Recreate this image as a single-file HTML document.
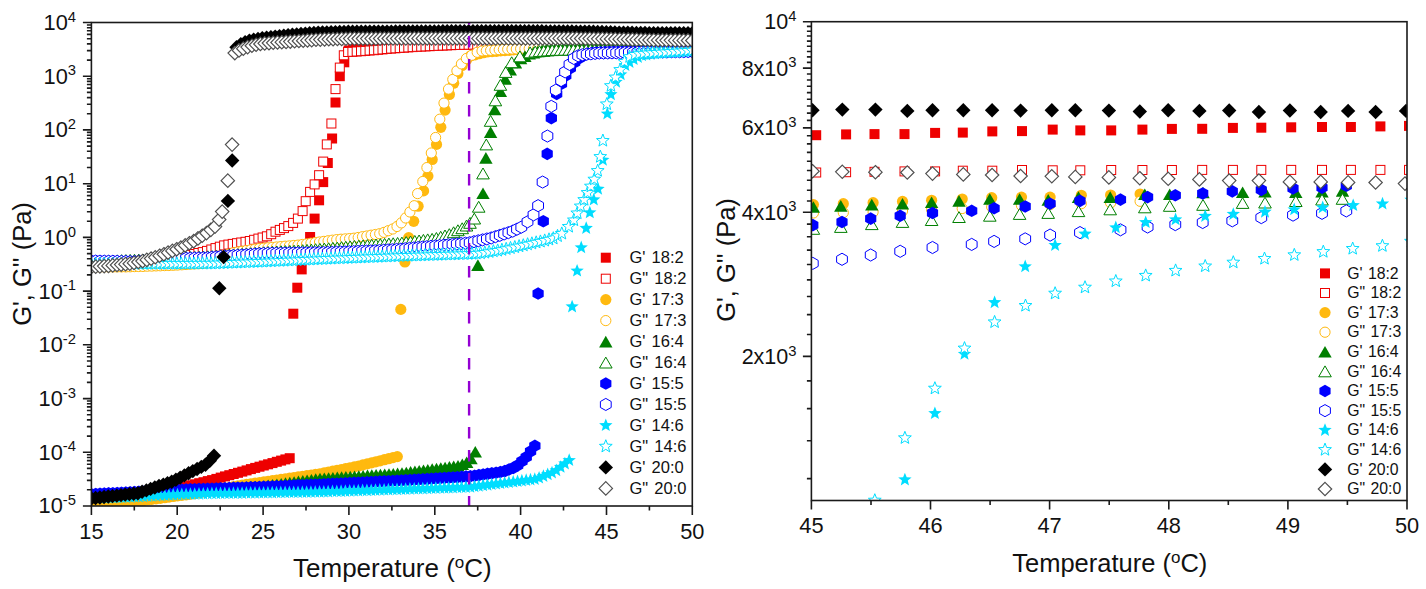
<!DOCTYPE html><html><head><meta charset="utf-8"><style>html,body{margin:0;padding:0;background:#fff;}svg{display:block;font-family:"Liberation Sans",sans-serif;}</style></head><body><svg width="1426" height="589" viewBox="0 0 1426 589">
<defs><clipPath id="cl"><rect x="91.4" y="22.5" width="600.9" height="483.5"/></clipPath>
<clipPath id="cr"><rect x="811.4" y="21.7" width="595.6" height="478.8"/></clipPath></defs>
<g clip-path="url(#cl)">
<rect x="86.4" y="494.0" width="10.0" height="10.0" fill="#EE0000"/>
<rect x="90.7" y="493.7" width="10.0" height="10.0" fill="#EE0000"/>
<rect x="95.0" y="493.5" width="10.0" height="10.0" fill="#EE0000"/>
<rect x="99.3" y="493.2" width="10.0" height="10.0" fill="#EE0000"/>
<rect x="103.6" y="492.9" width="10.0" height="10.0" fill="#EE0000"/>
<rect x="108.0" y="492.7" width="10.0" height="10.0" fill="#EE0000"/>
<rect x="112.3" y="492.4" width="10.0" height="10.0" fill="#EE0000"/>
<rect x="116.6" y="492.1" width="10.0" height="10.0" fill="#EE0000"/>
<rect x="120.9" y="491.8" width="10.0" height="10.0" fill="#EE0000"/>
<rect x="125.2" y="491.1" width="10.0" height="10.0" fill="#EE0000"/>
<rect x="129.5" y="490.4" width="10.0" height="10.0" fill="#EE0000"/>
<rect x="133.8" y="489.7" width="10.0" height="10.0" fill="#EE0000"/>
<rect x="138.1" y="489.0" width="10.0" height="10.0" fill="#EE0000"/>
<rect x="142.4" y="488.3" width="10.0" height="10.0" fill="#EE0000"/>
<rect x="146.8" y="487.5" width="10.0" height="10.0" fill="#EE0000"/>
<rect x="151.1" y="486.8" width="10.0" height="10.0" fill="#EE0000"/>
<rect x="155.4" y="486.1" width="10.0" height="10.0" fill="#EE0000"/>
<rect x="159.7" y="485.4" width="10.0" height="10.0" fill="#EE0000"/>
<rect x="164.0" y="484.7" width="10.0" height="10.0" fill="#EE0000"/>
<rect x="168.3" y="484.0" width="10.0" height="10.0" fill="#EE0000"/>
<rect x="172.6" y="483.2" width="10.0" height="10.0" fill="#EE0000"/>
<rect x="176.9" y="482.4" width="10.0" height="10.0" fill="#EE0000"/>
<rect x="181.2" y="481.4" width="10.0" height="10.0" fill="#EE0000"/>
<rect x="185.5" y="480.3" width="10.0" height="10.0" fill="#EE0000"/>
<rect x="189.9" y="479.3" width="10.0" height="10.0" fill="#EE0000"/>
<rect x="194.2" y="478.2" width="10.0" height="10.0" fill="#EE0000"/>
<rect x="198.5" y="477.2" width="10.0" height="10.0" fill="#EE0000"/>
<rect x="202.8" y="476.1" width="10.0" height="10.0" fill="#EE0000"/>
<rect x="207.1" y="475.1" width="10.0" height="10.0" fill="#EE0000"/>
<rect x="211.4" y="473.9" width="10.0" height="10.0" fill="#EE0000"/>
<rect x="215.7" y="472.6" width="10.0" height="10.0" fill="#EE0000"/>
<rect x="220.0" y="471.4" width="10.0" height="10.0" fill="#EE0000"/>
<rect x="224.3" y="470.2" width="10.0" height="10.0" fill="#EE0000"/>
<rect x="228.7" y="469.0" width="10.0" height="10.0" fill="#EE0000"/>
<rect x="233.0" y="467.8" width="10.0" height="10.0" fill="#EE0000"/>
<rect x="237.3" y="466.6" width="10.0" height="10.0" fill="#EE0000"/>
<rect x="241.6" y="465.4" width="10.0" height="10.0" fill="#EE0000"/>
<rect x="245.9" y="464.1" width="10.0" height="10.0" fill="#EE0000"/>
<rect x="250.2" y="462.9" width="10.0" height="10.0" fill="#EE0000"/>
<rect x="254.5" y="461.7" width="10.0" height="10.0" fill="#EE0000"/>
<rect x="258.8" y="460.5" width="10.0" height="10.0" fill="#EE0000"/>
<rect x="263.1" y="459.3" width="10.0" height="10.0" fill="#EE0000"/>
<rect x="267.5" y="458.1" width="10.0" height="10.0" fill="#EE0000"/>
<rect x="271.8" y="456.8" width="10.0" height="10.0" fill="#EE0000"/>
<rect x="276.1" y="455.6" width="10.0" height="10.0" fill="#EE0000"/>
<rect x="280.4" y="454.4" width="10.0" height="10.0" fill="#EE0000"/>
<rect x="284.7" y="453.2" width="10.0" height="10.0" fill="#EE0000"/>
<rect x="288.3" y="308.7" width="10.0" height="10.0" fill="#EE0000"/>
<rect x="292.3" y="282.7" width="10.0" height="10.0" fill="#EE0000"/>
<rect x="296.7" y="264.4" width="10.0" height="10.0" fill="#EE0000"/>
<rect x="301.0" y="248.0" width="10.0" height="10.0" fill="#EE0000"/>
<rect x="305.1" y="232.0" width="10.0" height="10.0" fill="#EE0000"/>
<rect x="309.6" y="213.6" width="10.0" height="10.0" fill="#EE0000"/>
<rect x="314.1" y="195.3" width="10.0" height="10.0" fill="#EE0000"/>
<rect x="318.2" y="177.1" width="10.0" height="10.0" fill="#EE0000"/>
<rect x="322.8" y="158.0" width="10.0" height="10.0" fill="#EE0000"/>
<rect x="327.1" y="133.5" width="10.0" height="10.0" fill="#EE0000"/>
<rect x="330.5" y="97.5" width="10.0" height="10.0" fill="#EE0000"/>
<rect x="334.8" y="71.2" width="10.0" height="10.0" fill="#EE0000"/>
<rect x="339.3" y="57.3" width="10.0" height="10.0" fill="#EE0000"/>
<rect x="343.6" y="45.4" width="10.0" height="10.0" fill="#EE0000"/>
<rect x="348.2" y="40.1" width="10.0" height="10.0" fill="#EE0000"/>
<rect x="352.5" y="39.3" width="10.0" height="10.0" fill="#EE0000"/>
<rect x="356.8" y="38.6" width="10.0" height="10.0" fill="#EE0000"/>
<rect x="361.1" y="37.9" width="10.0" height="10.0" fill="#EE0000"/>
<rect x="365.4" y="37.7" width="10.0" height="10.0" fill="#EE0000"/>
<rect x="369.7" y="37.5" width="10.0" height="10.0" fill="#EE0000"/>
<rect x="374.0" y="37.3" width="10.0" height="10.0" fill="#EE0000"/>
<rect x="378.3" y="37.1" width="10.0" height="10.0" fill="#EE0000"/>
<rect x="382.6" y="36.9" width="10.0" height="10.0" fill="#EE0000"/>
<rect x="386.9" y="36.7" width="10.0" height="10.0" fill="#EE0000"/>
<rect x="391.1" y="36.5" width="10.0" height="10.0" fill="#EE0000"/>
<rect x="395.4" y="36.3" width="10.0" height="10.0" fill="#EE0000"/>
<rect x="399.7" y="36.1" width="10.0" height="10.0" fill="#EE0000"/>
<rect x="404.0" y="35.9" width="10.0" height="10.0" fill="#EE0000"/>
<rect x="408.3" y="35.7" width="10.0" height="10.0" fill="#EE0000"/>
<rect x="412.6" y="35.5" width="10.0" height="10.0" fill="#EE0000"/>
<rect x="416.9" y="35.3" width="10.0" height="10.0" fill="#EE0000"/>
<rect x="421.2" y="35.1" width="10.0" height="10.0" fill="#EE0000"/>
<rect x="425.5" y="34.9" width="10.0" height="10.0" fill="#EE0000"/>
<rect x="429.8" y="34.7" width="10.0" height="10.0" fill="#EE0000"/>
<rect x="434.1" y="34.6" width="10.0" height="10.0" fill="#EE0000"/>
<rect x="438.4" y="34.5" width="10.0" height="10.0" fill="#EE0000"/>
<rect x="442.6" y="34.4" width="10.0" height="10.0" fill="#EE0000"/>
<rect x="446.9" y="34.3" width="10.0" height="10.0" fill="#EE0000"/>
<rect x="451.2" y="34.2" width="10.0" height="10.0" fill="#EE0000"/>
<rect x="455.5" y="34.1" width="10.0" height="10.0" fill="#EE0000"/>
<rect x="459.8" y="34.0" width="10.0" height="10.0" fill="#EE0000"/>
<rect x="464.1" y="33.9" width="10.0" height="10.0" fill="#EE0000"/>
<rect x="468.4" y="33.8" width="10.0" height="10.0" fill="#EE0000"/>
<rect x="472.7" y="33.8" width="10.0" height="10.0" fill="#EE0000"/>
<rect x="477.0" y="33.7" width="10.0" height="10.0" fill="#EE0000"/>
<rect x="481.3" y="33.6" width="10.0" height="10.0" fill="#EE0000"/>
<rect x="485.6" y="33.5" width="10.0" height="10.0" fill="#EE0000"/>
<rect x="489.9" y="33.4" width="10.0" height="10.0" fill="#EE0000"/>
<rect x="494.2" y="33.3" width="10.0" height="10.0" fill="#EE0000"/>
<rect x="498.4" y="33.2" width="10.0" height="10.0" fill="#EE0000"/>
<rect x="502.7" y="33.1" width="10.0" height="10.0" fill="#EE0000"/>
<rect x="507.0" y="33.0" width="10.0" height="10.0" fill="#EE0000"/>
<rect x="511.3" y="32.9" width="10.0" height="10.0" fill="#EE0000"/>
<rect x="515.6" y="32.8" width="10.0" height="10.0" fill="#EE0000"/>
<rect x="519.9" y="32.7" width="10.0" height="10.0" fill="#EE0000"/>
<rect x="524.2" y="32.6" width="10.0" height="10.0" fill="#EE0000"/>
<rect x="528.5" y="32.5" width="10.0" height="10.0" fill="#EE0000"/>
<rect x="532.8" y="32.4" width="10.0" height="10.0" fill="#EE0000"/>
<rect x="537.1" y="32.3" width="10.0" height="10.0" fill="#EE0000"/>
<rect x="541.4" y="32.2" width="10.0" height="10.0" fill="#EE0000"/>
<rect x="545.7" y="32.2" width="10.0" height="10.0" fill="#EE0000"/>
<rect x="550.0" y="32.1" width="10.0" height="10.0" fill="#EE0000"/>
<rect x="554.2" y="32.0" width="10.0" height="10.0" fill="#EE0000"/>
<rect x="558.5" y="31.9" width="10.0" height="10.0" fill="#EE0000"/>
<rect x="562.8" y="31.8" width="10.0" height="10.0" fill="#EE0000"/>
<rect x="567.1" y="31.7" width="10.0" height="10.0" fill="#EE0000"/>
<rect x="571.4" y="31.6" width="10.0" height="10.0" fill="#EE0000"/>
<rect x="575.7" y="31.5" width="10.0" height="10.0" fill="#EE0000"/>
<rect x="580.0" y="31.4" width="10.0" height="10.0" fill="#EE0000"/>
<rect x="584.3" y="31.3" width="10.0" height="10.0" fill="#EE0000"/>
<rect x="588.6" y="31.2" width="10.0" height="10.0" fill="#EE0000"/>
<rect x="592.9" y="31.1" width="10.0" height="10.0" fill="#EE0000"/>
<rect x="597.2" y="31.0" width="10.0" height="10.0" fill="#EE0000"/>
<rect x="601.5" y="30.9" width="10.0" height="10.0" fill="#EE0000"/>
<rect x="605.7" y="30.8" width="10.0" height="10.0" fill="#EE0000"/>
<rect x="610.0" y="30.8" width="10.0" height="10.0" fill="#EE0000"/>
<rect x="614.3" y="30.7" width="10.0" height="10.0" fill="#EE0000"/>
<rect x="618.6" y="30.6" width="10.0" height="10.0" fill="#EE0000"/>
<rect x="622.9" y="30.5" width="10.0" height="10.0" fill="#EE0000"/>
<rect x="627.2" y="30.4" width="10.0" height="10.0" fill="#EE0000"/>
<rect x="631.5" y="30.4" width="10.0" height="10.0" fill="#EE0000"/>
<rect x="635.8" y="30.3" width="10.0" height="10.0" fill="#EE0000"/>
<rect x="640.1" y="30.2" width="10.0" height="10.0" fill="#EE0000"/>
<rect x="644.4" y="30.1" width="10.0" height="10.0" fill="#EE0000"/>
<rect x="648.7" y="30.0" width="10.0" height="10.0" fill="#EE0000"/>
<rect x="653.0" y="30.0" width="10.0" height="10.0" fill="#EE0000"/>
<rect x="657.3" y="29.9" width="10.0" height="10.0" fill="#EE0000"/>
<rect x="661.5" y="29.8" width="10.0" height="10.0" fill="#EE0000"/>
<rect x="665.8" y="29.7" width="10.0" height="10.0" fill="#EE0000"/>
<rect x="670.1" y="29.6" width="10.0" height="10.0" fill="#EE0000"/>
<rect x="674.4" y="29.6" width="10.0" height="10.0" fill="#EE0000"/>
<rect x="678.7" y="29.5" width="10.0" height="10.0" fill="#EE0000"/>
<rect x="683.0" y="29.4" width="10.0" height="10.0" fill="#EE0000"/>
<rect x="687.3" y="29.3" width="10.0" height="10.0" fill="#EE0000"/>
<rect x="86.9" y="258.1" width="9.0" height="9.0" fill="#fff" stroke="#EE0000" stroke-width="1.0"/>
<rect x="91.2" y="258.0" width="9.0" height="9.0" fill="#fff" stroke="#EE0000" stroke-width="1.0"/>
<rect x="95.5" y="257.9" width="9.0" height="9.0" fill="#fff" stroke="#EE0000" stroke-width="1.0"/>
<rect x="99.7" y="257.7" width="9.0" height="9.0" fill="#fff" stroke="#EE0000" stroke-width="1.0"/>
<rect x="104.0" y="257.6" width="9.0" height="9.0" fill="#fff" stroke="#EE0000" stroke-width="1.0"/>
<rect x="108.3" y="257.5" width="9.0" height="9.0" fill="#fff" stroke="#EE0000" stroke-width="1.0"/>
<rect x="112.6" y="257.3" width="9.0" height="9.0" fill="#fff" stroke="#EE0000" stroke-width="1.0"/>
<rect x="116.9" y="257.2" width="9.0" height="9.0" fill="#fff" stroke="#EE0000" stroke-width="1.0"/>
<rect x="121.1" y="257.1" width="9.0" height="9.0" fill="#fff" stroke="#EE0000" stroke-width="1.0"/>
<rect x="125.4" y="256.9" width="9.0" height="9.0" fill="#fff" stroke="#EE0000" stroke-width="1.0"/>
<rect x="129.7" y="256.8" width="9.0" height="9.0" fill="#fff" stroke="#EE0000" stroke-width="1.0"/>
<rect x="134.0" y="256.7" width="9.0" height="9.0" fill="#fff" stroke="#EE0000" stroke-width="1.0"/>
<rect x="138.3" y="256.5" width="9.0" height="9.0" fill="#fff" stroke="#EE0000" stroke-width="1.0"/>
<rect x="142.6" y="256.0" width="9.0" height="9.0" fill="#fff" stroke="#EE0000" stroke-width="1.0"/>
<rect x="146.8" y="255.5" width="9.0" height="9.0" fill="#fff" stroke="#EE0000" stroke-width="1.0"/>
<rect x="151.1" y="255.0" width="9.0" height="9.0" fill="#fff" stroke="#EE0000" stroke-width="1.0"/>
<rect x="155.4" y="254.5" width="9.0" height="9.0" fill="#fff" stroke="#EE0000" stroke-width="1.0"/>
<rect x="159.7" y="254.0" width="9.0" height="9.0" fill="#fff" stroke="#EE0000" stroke-width="1.0"/>
<rect x="164.0" y="253.5" width="9.0" height="9.0" fill="#fff" stroke="#EE0000" stroke-width="1.0"/>
<rect x="168.2" y="253.0" width="9.0" height="9.0" fill="#fff" stroke="#EE0000" stroke-width="1.0"/>
<rect x="172.5" y="252.5" width="9.0" height="9.0" fill="#fff" stroke="#EE0000" stroke-width="1.0"/>
<rect x="176.8" y="252.0" width="9.0" height="9.0" fill="#fff" stroke="#EE0000" stroke-width="1.0"/>
<rect x="181.1" y="251.4" width="9.0" height="9.0" fill="#fff" stroke="#EE0000" stroke-width="1.0"/>
<rect x="185.4" y="250.4" width="9.0" height="9.0" fill="#fff" stroke="#EE0000" stroke-width="1.0"/>
<rect x="189.6" y="249.5" width="9.0" height="9.0" fill="#fff" stroke="#EE0000" stroke-width="1.0"/>
<rect x="193.9" y="248.5" width="9.0" height="9.0" fill="#fff" stroke="#EE0000" stroke-width="1.0"/>
<rect x="198.2" y="247.6" width="9.0" height="9.0" fill="#fff" stroke="#EE0000" stroke-width="1.0"/>
<rect x="202.5" y="246.4" width="9.0" height="9.0" fill="#fff" stroke="#EE0000" stroke-width="1.0"/>
<rect x="206.8" y="245.0" width="9.0" height="9.0" fill="#fff" stroke="#EE0000" stroke-width="1.0"/>
<rect x="211.0" y="243.6" width="9.0" height="9.0" fill="#fff" stroke="#EE0000" stroke-width="1.0"/>
<rect x="215.3" y="242.2" width="9.0" height="9.0" fill="#fff" stroke="#EE0000" stroke-width="1.0"/>
<rect x="219.6" y="240.9" width="9.0" height="9.0" fill="#fff" stroke="#EE0000" stroke-width="1.0"/>
<rect x="223.9" y="240.1" width="9.0" height="9.0" fill="#fff" stroke="#EE0000" stroke-width="1.0"/>
<rect x="228.2" y="239.4" width="9.0" height="9.0" fill="#fff" stroke="#EE0000" stroke-width="1.0"/>
<rect x="232.5" y="238.7" width="9.0" height="9.0" fill="#fff" stroke="#EE0000" stroke-width="1.0"/>
<rect x="236.7" y="238.0" width="9.0" height="9.0" fill="#fff" stroke="#EE0000" stroke-width="1.0"/>
<rect x="241.0" y="237.3" width="9.0" height="9.0" fill="#fff" stroke="#EE0000" stroke-width="1.0"/>
<rect x="245.3" y="236.5" width="9.0" height="9.0" fill="#fff" stroke="#EE0000" stroke-width="1.0"/>
<rect x="249.6" y="235.3" width="9.0" height="9.0" fill="#fff" stroke="#EE0000" stroke-width="1.0"/>
<rect x="253.9" y="234.1" width="9.0" height="9.0" fill="#fff" stroke="#EE0000" stroke-width="1.0"/>
<rect x="258.1" y="233.0" width="9.0" height="9.0" fill="#fff" stroke="#EE0000" stroke-width="1.0"/>
<rect x="262.4" y="231.8" width="9.0" height="9.0" fill="#fff" stroke="#EE0000" stroke-width="1.0"/>
<rect x="266.7" y="229.7" width="9.0" height="9.0" fill="#fff" stroke="#EE0000" stroke-width="1.0"/>
<rect x="271.0" y="227.2" width="9.0" height="9.0" fill="#fff" stroke="#EE0000" stroke-width="1.0"/>
<rect x="275.3" y="225.4" width="9.0" height="9.0" fill="#fff" stroke="#EE0000" stroke-width="1.0"/>
<rect x="279.5" y="223.6" width="9.0" height="9.0" fill="#fff" stroke="#EE0000" stroke-width="1.0"/>
<rect x="283.8" y="221.6" width="9.0" height="9.0" fill="#fff" stroke="#EE0000" stroke-width="1.0"/>
<rect x="288.6" y="218.4" width="9.0" height="9.0" fill="#fff" stroke="#EE0000" stroke-width="1.0"/>
<rect x="293.4" y="214.1" width="9.0" height="9.0" fill="#fff" stroke="#EE0000" stroke-width="1.0"/>
<rect x="298.1" y="206.6" width="9.0" height="9.0" fill="#fff" stroke="#EE0000" stroke-width="1.0"/>
<rect x="301.2" y="196.7" width="9.0" height="9.0" fill="#fff" stroke="#EE0000" stroke-width="1.0"/>
<rect x="305.6" y="187.4" width="9.0" height="9.0" fill="#fff" stroke="#EE0000" stroke-width="1.0"/>
<rect x="310.1" y="179.9" width="9.0" height="9.0" fill="#fff" stroke="#EE0000" stroke-width="1.0"/>
<rect x="314.6" y="170.7" width="9.0" height="9.0" fill="#fff" stroke="#EE0000" stroke-width="1.0"/>
<rect x="318.7" y="157.1" width="9.0" height="9.0" fill="#fff" stroke="#EE0000" stroke-width="1.0"/>
<rect x="322.3" y="139.9" width="9.0" height="9.0" fill="#fff" stroke="#EE0000" stroke-width="1.0"/>
<rect x="326.9" y="119.0" width="9.0" height="9.0" fill="#fff" stroke="#EE0000" stroke-width="1.0"/>
<rect x="331.0" y="84.6" width="9.0" height="9.0" fill="#fff" stroke="#EE0000" stroke-width="1.0"/>
<rect x="335.3" y="63.1" width="9.0" height="9.0" fill="#fff" stroke="#EE0000" stroke-width="1.0"/>
<rect x="339.3" y="50.8" width="9.0" height="9.0" fill="#fff" stroke="#EE0000" stroke-width="1.0"/>
<rect x="343.6" y="47.5" width="9.0" height="9.0" fill="#fff" stroke="#EE0000" stroke-width="1.0"/>
<rect x="347.9" y="47.3" width="9.0" height="9.0" fill="#fff" stroke="#EE0000" stroke-width="1.0"/>
<rect x="352.2" y="47.0" width="9.0" height="9.0" fill="#fff" stroke="#EE0000" stroke-width="1.0"/>
<rect x="356.5" y="46.7" width="9.0" height="9.0" fill="#fff" stroke="#EE0000" stroke-width="1.0"/>
<rect x="360.8" y="46.4" width="9.0" height="9.0" fill="#fff" stroke="#EE0000" stroke-width="1.0"/>
<rect x="365.1" y="46.0" width="9.0" height="9.0" fill="#fff" stroke="#EE0000" stroke-width="1.0"/>
<rect x="369.4" y="45.7" width="9.0" height="9.0" fill="#fff" stroke="#EE0000" stroke-width="1.0"/>
<rect x="373.7" y="45.3" width="9.0" height="9.0" fill="#fff" stroke="#EE0000" stroke-width="1.0"/>
<rect x="378.0" y="44.9" width="9.0" height="9.0" fill="#fff" stroke="#EE0000" stroke-width="1.0"/>
<rect x="382.3" y="44.5" width="9.0" height="9.0" fill="#fff" stroke="#EE0000" stroke-width="1.0"/>
<rect x="386.6" y="44.1" width="9.0" height="9.0" fill="#fff" stroke="#EE0000" stroke-width="1.0"/>
<rect x="390.9" y="43.8" width="9.0" height="9.0" fill="#fff" stroke="#EE0000" stroke-width="1.0"/>
<rect x="395.2" y="43.5" width="9.0" height="9.0" fill="#fff" stroke="#EE0000" stroke-width="1.0"/>
<rect x="399.5" y="43.2" width="9.0" height="9.0" fill="#fff" stroke="#EE0000" stroke-width="1.0"/>
<rect x="403.8" y="42.9" width="9.0" height="9.0" fill="#fff" stroke="#EE0000" stroke-width="1.0"/>
<rect x="408.1" y="42.6" width="9.0" height="9.0" fill="#fff" stroke="#EE0000" stroke-width="1.0"/>
<rect x="412.4" y="42.3" width="9.0" height="9.0" fill="#fff" stroke="#EE0000" stroke-width="1.0"/>
<rect x="416.7" y="42.1" width="9.0" height="9.0" fill="#fff" stroke="#EE0000" stroke-width="1.0"/>
<rect x="421.0" y="41.9" width="9.0" height="9.0" fill="#fff" stroke="#EE0000" stroke-width="1.0"/>
<rect x="425.3" y="41.7" width="9.0" height="9.0" fill="#fff" stroke="#EE0000" stroke-width="1.0"/>
<rect x="429.6" y="41.5" width="9.0" height="9.0" fill="#fff" stroke="#EE0000" stroke-width="1.0"/>
<rect x="433.9" y="41.3" width="9.0" height="9.0" fill="#fff" stroke="#EE0000" stroke-width="1.0"/>
<rect x="438.2" y="41.1" width="9.0" height="9.0" fill="#fff" stroke="#EE0000" stroke-width="1.0"/>
<rect x="442.5" y="40.9" width="9.0" height="9.0" fill="#fff" stroke="#EE0000" stroke-width="1.0"/>
<rect x="446.8" y="40.7" width="9.0" height="9.0" fill="#fff" stroke="#EE0000" stroke-width="1.0"/>
<rect x="451.1" y="40.5" width="9.0" height="9.0" fill="#fff" stroke="#EE0000" stroke-width="1.0"/>
<rect x="455.4" y="40.4" width="9.0" height="9.0" fill="#fff" stroke="#EE0000" stroke-width="1.0"/>
<rect x="459.7" y="40.3" width="9.0" height="9.0" fill="#fff" stroke="#EE0000" stroke-width="1.0"/>
<rect x="464.1" y="40.2" width="9.0" height="9.0" fill="#fff" stroke="#EE0000" stroke-width="1.0"/>
<rect x="468.4" y="40.1" width="9.0" height="9.0" fill="#fff" stroke="#EE0000" stroke-width="1.0"/>
<rect x="472.7" y="40.0" width="9.0" height="9.0" fill="#fff" stroke="#EE0000" stroke-width="1.0"/>
<rect x="477.0" y="40.0" width="9.0" height="9.0" fill="#fff" stroke="#EE0000" stroke-width="1.0"/>
<rect x="481.3" y="39.9" width="9.0" height="9.0" fill="#fff" stroke="#EE0000" stroke-width="1.0"/>
<rect x="485.6" y="39.8" width="9.0" height="9.0" fill="#fff" stroke="#EE0000" stroke-width="1.0"/>
<rect x="489.9" y="39.7" width="9.0" height="9.0" fill="#fff" stroke="#EE0000" stroke-width="1.0"/>
<rect x="494.2" y="39.7" width="9.0" height="9.0" fill="#fff" stroke="#EE0000" stroke-width="1.0"/>
<rect x="498.5" y="39.6" width="9.0" height="9.0" fill="#fff" stroke="#EE0000" stroke-width="1.0"/>
<rect x="502.8" y="39.5" width="9.0" height="9.0" fill="#fff" stroke="#EE0000" stroke-width="1.0"/>
<rect x="507.1" y="39.5" width="9.0" height="9.0" fill="#fff" stroke="#EE0000" stroke-width="1.0"/>
<rect x="511.4" y="39.4" width="9.0" height="9.0" fill="#fff" stroke="#EE0000" stroke-width="1.0"/>
<rect x="515.7" y="39.3" width="9.0" height="9.0" fill="#fff" stroke="#EE0000" stroke-width="1.0"/>
<rect x="520.0" y="39.2" width="9.0" height="9.0" fill="#fff" stroke="#EE0000" stroke-width="1.0"/>
<rect x="524.3" y="39.2" width="9.0" height="9.0" fill="#fff" stroke="#EE0000" stroke-width="1.0"/>
<rect x="528.6" y="39.1" width="9.0" height="9.0" fill="#fff" stroke="#EE0000" stroke-width="1.0"/>
<rect x="532.9" y="39.0" width="9.0" height="9.0" fill="#fff" stroke="#EE0000" stroke-width="1.0"/>
<rect x="537.2" y="39.0" width="9.0" height="9.0" fill="#fff" stroke="#EE0000" stroke-width="1.0"/>
<rect x="541.5" y="38.9" width="9.0" height="9.0" fill="#fff" stroke="#EE0000" stroke-width="1.0"/>
<rect x="545.8" y="38.8" width="9.0" height="9.0" fill="#fff" stroke="#EE0000" stroke-width="1.0"/>
<rect x="550.1" y="38.7" width="9.0" height="9.0" fill="#fff" stroke="#EE0000" stroke-width="1.0"/>
<rect x="554.4" y="38.7" width="9.0" height="9.0" fill="#fff" stroke="#EE0000" stroke-width="1.0"/>
<rect x="558.7" y="38.6" width="9.0" height="9.0" fill="#fff" stroke="#EE0000" stroke-width="1.0"/>
<rect x="563.0" y="38.5" width="9.0" height="9.0" fill="#fff" stroke="#EE0000" stroke-width="1.0"/>
<rect x="567.3" y="38.5" width="9.0" height="9.0" fill="#fff" stroke="#EE0000" stroke-width="1.0"/>
<rect x="571.6" y="38.4" width="9.0" height="9.0" fill="#fff" stroke="#EE0000" stroke-width="1.0"/>
<rect x="575.9" y="38.3" width="9.0" height="9.0" fill="#fff" stroke="#EE0000" stroke-width="1.0"/>
<rect x="580.2" y="38.2" width="9.0" height="9.0" fill="#fff" stroke="#EE0000" stroke-width="1.0"/>
<rect x="584.5" y="38.2" width="9.0" height="9.0" fill="#fff" stroke="#EE0000" stroke-width="1.0"/>
<rect x="588.8" y="38.1" width="9.0" height="9.0" fill="#fff" stroke="#EE0000" stroke-width="1.0"/>
<rect x="593.1" y="38.0" width="9.0" height="9.0" fill="#fff" stroke="#EE0000" stroke-width="1.0"/>
<rect x="597.4" y="38.0" width="9.0" height="9.0" fill="#fff" stroke="#EE0000" stroke-width="1.0"/>
<rect x="601.7" y="37.9" width="9.0" height="9.0" fill="#fff" stroke="#EE0000" stroke-width="1.0"/>
<rect x="606.0" y="37.8" width="9.0" height="9.0" fill="#fff" stroke="#EE0000" stroke-width="1.0"/>
<rect x="610.3" y="37.8" width="9.0" height="9.0" fill="#fff" stroke="#EE0000" stroke-width="1.0"/>
<rect x="614.7" y="37.7" width="9.0" height="9.0" fill="#fff" stroke="#EE0000" stroke-width="1.0"/>
<rect x="619.0" y="37.7" width="9.0" height="9.0" fill="#fff" stroke="#EE0000" stroke-width="1.0"/>
<rect x="623.3" y="37.6" width="9.0" height="9.0" fill="#fff" stroke="#EE0000" stroke-width="1.0"/>
<rect x="627.6" y="37.6" width="9.0" height="9.0" fill="#fff" stroke="#EE0000" stroke-width="1.0"/>
<rect x="631.9" y="37.5" width="9.0" height="9.0" fill="#fff" stroke="#EE0000" stroke-width="1.0"/>
<rect x="636.2" y="37.4" width="9.0" height="9.0" fill="#fff" stroke="#EE0000" stroke-width="1.0"/>
<rect x="640.5" y="37.4" width="9.0" height="9.0" fill="#fff" stroke="#EE0000" stroke-width="1.0"/>
<rect x="644.8" y="37.3" width="9.0" height="9.0" fill="#fff" stroke="#EE0000" stroke-width="1.0"/>
<rect x="649.1" y="37.3" width="9.0" height="9.0" fill="#fff" stroke="#EE0000" stroke-width="1.0"/>
<rect x="653.4" y="37.2" width="9.0" height="9.0" fill="#fff" stroke="#EE0000" stroke-width="1.0"/>
<rect x="657.7" y="37.2" width="9.0" height="9.0" fill="#fff" stroke="#EE0000" stroke-width="1.0"/>
<rect x="662.0" y="37.1" width="9.0" height="9.0" fill="#fff" stroke="#EE0000" stroke-width="1.0"/>
<rect x="666.3" y="37.1" width="9.0" height="9.0" fill="#fff" stroke="#EE0000" stroke-width="1.0"/>
<rect x="670.6" y="37.0" width="9.0" height="9.0" fill="#fff" stroke="#EE0000" stroke-width="1.0"/>
<rect x="674.9" y="37.0" width="9.0" height="9.0" fill="#fff" stroke="#EE0000" stroke-width="1.0"/>
<rect x="679.2" y="36.9" width="9.0" height="9.0" fill="#fff" stroke="#EE0000" stroke-width="1.0"/>
<rect x="683.5" y="36.9" width="9.0" height="9.0" fill="#fff" stroke="#EE0000" stroke-width="1.0"/>
<rect x="687.8" y="36.8" width="9.0" height="9.0" fill="#fff" stroke="#EE0000" stroke-width="1.0"/>
<circle cx="91.4" cy="502.2" r="5.6" fill="#FFB90F"/>
<circle cx="95.7" cy="502.1" r="5.6" fill="#FFB90F"/>
<circle cx="100.0" cy="502.0" r="5.6" fill="#FFB90F"/>
<circle cx="104.3" cy="501.8" r="5.6" fill="#FFB90F"/>
<circle cx="108.6" cy="501.7" r="5.6" fill="#FFB90F"/>
<circle cx="112.9" cy="501.6" r="5.6" fill="#FFB90F"/>
<circle cx="117.3" cy="501.4" r="5.6" fill="#FFB90F"/>
<circle cx="121.6" cy="501.3" r="5.6" fill="#FFB90F"/>
<circle cx="125.9" cy="501.2" r="5.6" fill="#FFB90F"/>
<circle cx="130.2" cy="501.0" r="5.6" fill="#FFB90F"/>
<circle cx="134.5" cy="500.9" r="5.6" fill="#FFB90F"/>
<circle cx="138.8" cy="500.8" r="5.6" fill="#FFB90F"/>
<circle cx="143.1" cy="500.6" r="5.6" fill="#FFB90F"/>
<circle cx="147.4" cy="500.0" r="5.6" fill="#FFB90F"/>
<circle cx="151.7" cy="499.4" r="5.6" fill="#FFB90F"/>
<circle cx="156.0" cy="498.8" r="5.6" fill="#FFB90F"/>
<circle cx="160.3" cy="498.3" r="5.6" fill="#FFB90F"/>
<circle cx="164.7" cy="497.7" r="5.6" fill="#FFB90F"/>
<circle cx="169.0" cy="497.1" r="5.6" fill="#FFB90F"/>
<circle cx="173.3" cy="496.5" r="5.6" fill="#FFB90F"/>
<circle cx="177.6" cy="495.9" r="5.6" fill="#FFB90F"/>
<circle cx="181.9" cy="495.3" r="5.6" fill="#FFB90F"/>
<circle cx="186.2" cy="494.8" r="5.6" fill="#FFB90F"/>
<circle cx="190.5" cy="494.2" r="5.6" fill="#FFB90F"/>
<circle cx="194.8" cy="493.6" r="5.6" fill="#FFB90F"/>
<circle cx="199.1" cy="492.8" r="5.6" fill="#FFB90F"/>
<circle cx="203.4" cy="492.0" r="5.6" fill="#FFB90F"/>
<circle cx="207.7" cy="491.3" r="5.6" fill="#FFB90F"/>
<circle cx="212.1" cy="490.5" r="5.6" fill="#FFB90F"/>
<circle cx="216.4" cy="489.8" r="5.6" fill="#FFB90F"/>
<circle cx="220.7" cy="489.0" r="5.6" fill="#FFB90F"/>
<circle cx="225.0" cy="488.2" r="5.6" fill="#FFB90F"/>
<circle cx="229.3" cy="487.5" r="5.6" fill="#FFB90F"/>
<circle cx="233.6" cy="486.7" r="5.6" fill="#FFB90F"/>
<circle cx="237.9" cy="485.9" r="5.6" fill="#FFB90F"/>
<circle cx="242.2" cy="485.2" r="5.6" fill="#FFB90F"/>
<circle cx="246.5" cy="484.4" r="5.6" fill="#FFB90F"/>
<circle cx="250.8" cy="483.8" r="5.6" fill="#FFB90F"/>
<circle cx="255.1" cy="483.2" r="5.6" fill="#FFB90F"/>
<circle cx="259.5" cy="482.5" r="5.6" fill="#FFB90F"/>
<circle cx="263.8" cy="481.9" r="5.6" fill="#FFB90F"/>
<circle cx="268.1" cy="481.3" r="5.6" fill="#FFB90F"/>
<circle cx="272.4" cy="480.7" r="5.6" fill="#FFB90F"/>
<circle cx="276.7" cy="480.0" r="5.6" fill="#FFB90F"/>
<circle cx="281.0" cy="479.4" r="5.6" fill="#FFB90F"/>
<circle cx="285.3" cy="478.8" r="5.6" fill="#FFB90F"/>
<circle cx="289.6" cy="478.2" r="5.6" fill="#FFB90F"/>
<circle cx="293.9" cy="477.5" r="5.6" fill="#FFB90F"/>
<circle cx="298.2" cy="476.9" r="5.6" fill="#FFB90F"/>
<circle cx="302.5" cy="476.3" r="5.6" fill="#FFB90F"/>
<circle cx="306.9" cy="475.6" r="5.6" fill="#FFB90F"/>
<circle cx="311.2" cy="475.0" r="5.6" fill="#FFB90F"/>
<circle cx="315.5" cy="474.4" r="5.6" fill="#FFB90F"/>
<circle cx="319.8" cy="473.8" r="5.6" fill="#FFB90F"/>
<circle cx="324.1" cy="472.9" r="5.6" fill="#FFB90F"/>
<circle cx="328.4" cy="472.0" r="5.6" fill="#FFB90F"/>
<circle cx="332.7" cy="471.2" r="5.6" fill="#FFB90F"/>
<circle cx="337.0" cy="470.3" r="5.6" fill="#FFB90F"/>
<circle cx="341.3" cy="469.5" r="5.6" fill="#FFB90F"/>
<circle cx="345.6" cy="468.6" r="5.6" fill="#FFB90F"/>
<circle cx="349.9" cy="467.8" r="5.6" fill="#FFB90F"/>
<circle cx="354.3" cy="466.9" r="5.6" fill="#FFB90F"/>
<circle cx="358.6" cy="466.0" r="5.6" fill="#FFB90F"/>
<circle cx="362.9" cy="464.9" r="5.6" fill="#FFB90F"/>
<circle cx="367.2" cy="463.9" r="5.6" fill="#FFB90F"/>
<circle cx="371.5" cy="462.9" r="5.6" fill="#FFB90F"/>
<circle cx="375.8" cy="461.8" r="5.6" fill="#FFB90F"/>
<circle cx="380.1" cy="460.8" r="5.6" fill="#FFB90F"/>
<circle cx="384.4" cy="459.7" r="5.6" fill="#FFB90F"/>
<circle cx="388.7" cy="458.7" r="5.6" fill="#FFB90F"/>
<circle cx="393.0" cy="457.6" r="5.6" fill="#FFB90F"/>
<circle cx="397.3" cy="456.6" r="5.6" fill="#FFB90F"/>
<circle cx="400.8" cy="309.4" r="5.6" fill="#FFB90F"/>
<circle cx="404.9" cy="262.0" r="5.6" fill="#FFB90F"/>
<circle cx="408.7" cy="237.6" r="5.6" fill="#FFB90F"/>
<circle cx="413.7" cy="221.3" r="5.6" fill="#FFB90F"/>
<circle cx="418.1" cy="206.2" r="5.6" fill="#FFB90F"/>
<circle cx="423.6" cy="190.9" r="5.6" fill="#FFB90F"/>
<circle cx="427.9" cy="176.1" r="5.6" fill="#FFB90F"/>
<circle cx="432.2" cy="159.5" r="5.6" fill="#FFB90F"/>
<circle cx="436.5" cy="144.4" r="5.6" fill="#FFB90F"/>
<circle cx="440.8" cy="127.3" r="5.6" fill="#FFB90F"/>
<circle cx="445.1" cy="110.1" r="5.6" fill="#FFB90F"/>
<circle cx="449.4" cy="94.5" r="5.6" fill="#FFB90F"/>
<circle cx="453.7" cy="83.2" r="5.6" fill="#FFB90F"/>
<circle cx="457.9" cy="73.5" r="5.6" fill="#FFB90F"/>
<circle cx="462.2" cy="65.5" r="5.6" fill="#FFB90F"/>
<circle cx="466.5" cy="60.1" r="5.6" fill="#FFB90F"/>
<circle cx="470.8" cy="55.8" r="5.6" fill="#FFB90F"/>
<circle cx="475.1" cy="54.8" r="5.6" fill="#FFB90F"/>
<circle cx="479.3" cy="53.7" r="5.6" fill="#FFB90F"/>
<circle cx="483.6" cy="52.7" r="5.6" fill="#FFB90F"/>
<circle cx="487.9" cy="51.9" r="5.6" fill="#FFB90F"/>
<circle cx="492.1" cy="51.6" r="5.6" fill="#FFB90F"/>
<circle cx="496.4" cy="51.3" r="5.6" fill="#FFB90F"/>
<circle cx="500.6" cy="50.9" r="5.6" fill="#FFB90F"/>
<circle cx="504.9" cy="50.6" r="5.6" fill="#FFB90F"/>
<circle cx="509.2" cy="50.3" r="5.6" fill="#FFB90F"/>
<circle cx="513.4" cy="49.9" r="5.6" fill="#FFB90F"/>
<circle cx="517.7" cy="49.6" r="5.6" fill="#FFB90F"/>
<circle cx="521.9" cy="49.3" r="5.6" fill="#FFB90F"/>
<circle cx="526.2" cy="49.2" r="5.6" fill="#FFB90F"/>
<circle cx="530.5" cy="49.0" r="5.6" fill="#FFB90F"/>
<circle cx="534.7" cy="48.8" r="5.6" fill="#FFB90F"/>
<circle cx="539.0" cy="48.7" r="5.6" fill="#FFB90F"/>
<circle cx="543.2" cy="48.5" r="5.6" fill="#FFB90F"/>
<circle cx="547.5" cy="48.4" r="5.6" fill="#FFB90F"/>
<circle cx="551.7" cy="48.2" r="5.6" fill="#FFB90F"/>
<circle cx="556.0" cy="48.0" r="5.6" fill="#FFB90F"/>
<circle cx="560.3" cy="47.9" r="5.6" fill="#FFB90F"/>
<circle cx="564.5" cy="47.7" r="5.6" fill="#FFB90F"/>
<circle cx="568.8" cy="47.6" r="5.6" fill="#FFB90F"/>
<circle cx="573.0" cy="47.4" r="5.6" fill="#FFB90F"/>
<circle cx="577.3" cy="47.2" r="5.6" fill="#FFB90F"/>
<circle cx="581.6" cy="47.1" r="5.6" fill="#FFB90F"/>
<circle cx="585.8" cy="46.9" r="5.6" fill="#FFB90F"/>
<circle cx="590.1" cy="46.8" r="5.6" fill="#FFB90F"/>
<circle cx="594.3" cy="46.6" r="5.6" fill="#FFB90F"/>
<circle cx="598.6" cy="46.4" r="5.6" fill="#FFB90F"/>
<circle cx="602.9" cy="46.3" r="5.6" fill="#FFB90F"/>
<circle cx="607.1" cy="46.1" r="5.6" fill="#FFB90F"/>
<circle cx="611.4" cy="46.0" r="5.6" fill="#FFB90F"/>
<circle cx="615.6" cy="45.9" r="5.6" fill="#FFB90F"/>
<circle cx="619.9" cy="45.8" r="5.6" fill="#FFB90F"/>
<circle cx="624.2" cy="45.7" r="5.6" fill="#FFB90F"/>
<circle cx="628.4" cy="45.6" r="5.6" fill="#FFB90F"/>
<circle cx="632.7" cy="45.5" r="5.6" fill="#FFB90F"/>
<circle cx="636.9" cy="45.4" r="5.6" fill="#FFB90F"/>
<circle cx="641.2" cy="45.3" r="5.6" fill="#FFB90F"/>
<circle cx="645.4" cy="45.2" r="5.6" fill="#FFB90F"/>
<circle cx="649.7" cy="45.1" r="5.6" fill="#FFB90F"/>
<circle cx="654.0" cy="44.9" r="5.6" fill="#FFB90F"/>
<circle cx="658.2" cy="44.8" r="5.6" fill="#FFB90F"/>
<circle cx="662.5" cy="44.7" r="5.6" fill="#FFB90F"/>
<circle cx="666.7" cy="44.6" r="5.6" fill="#FFB90F"/>
<circle cx="671.0" cy="44.5" r="5.6" fill="#FFB90F"/>
<circle cx="675.3" cy="44.4" r="5.6" fill="#FFB90F"/>
<circle cx="679.5" cy="44.3" r="5.6" fill="#FFB90F"/>
<circle cx="683.8" cy="44.2" r="5.6" fill="#FFB90F"/>
<circle cx="688.0" cy="44.1" r="5.6" fill="#FFB90F"/>
<circle cx="692.3" cy="44.0" r="5.6" fill="#FFB90F"/>
<circle cx="91.4" cy="266.9" r="5.1" fill="#fff" stroke="#FFB90F" stroke-width="1.0"/>
<circle cx="95.7" cy="266.9" r="5.1" fill="#fff" stroke="#FFB90F" stroke-width="1.0"/>
<circle cx="100.0" cy="266.9" r="5.1" fill="#fff" stroke="#FFB90F" stroke-width="1.0"/>
<circle cx="104.3" cy="266.9" r="5.1" fill="#fff" stroke="#FFB90F" stroke-width="1.0"/>
<circle cx="108.6" cy="266.9" r="5.1" fill="#fff" stroke="#FFB90F" stroke-width="1.0"/>
<circle cx="112.9" cy="266.9" r="5.1" fill="#fff" stroke="#FFB90F" stroke-width="1.0"/>
<circle cx="117.2" cy="266.9" r="5.1" fill="#fff" stroke="#FFB90F" stroke-width="1.0"/>
<circle cx="121.5" cy="266.9" r="5.1" fill="#fff" stroke="#FFB90F" stroke-width="1.0"/>
<circle cx="125.8" cy="266.9" r="5.1" fill="#fff" stroke="#FFB90F" stroke-width="1.0"/>
<circle cx="130.1" cy="266.8" r="5.1" fill="#fff" stroke="#FFB90F" stroke-width="1.0"/>
<circle cx="134.4" cy="266.6" r="5.1" fill="#fff" stroke="#FFB90F" stroke-width="1.0"/>
<circle cx="138.7" cy="266.5" r="5.1" fill="#fff" stroke="#FFB90F" stroke-width="1.0"/>
<circle cx="143.0" cy="266.4" r="5.1" fill="#fff" stroke="#FFB90F" stroke-width="1.0"/>
<circle cx="147.3" cy="266.2" r="5.1" fill="#fff" stroke="#FFB90F" stroke-width="1.0"/>
<circle cx="151.7" cy="266.1" r="5.1" fill="#fff" stroke="#FFB90F" stroke-width="1.0"/>
<circle cx="156.0" cy="265.9" r="5.1" fill="#fff" stroke="#FFB90F" stroke-width="1.0"/>
<circle cx="160.3" cy="265.8" r="5.1" fill="#fff" stroke="#FFB90F" stroke-width="1.0"/>
<circle cx="164.6" cy="265.6" r="5.1" fill="#fff" stroke="#FFB90F" stroke-width="1.0"/>
<circle cx="168.9" cy="265.5" r="5.1" fill="#fff" stroke="#FFB90F" stroke-width="1.0"/>
<circle cx="173.2" cy="265.3" r="5.1" fill="#fff" stroke="#FFB90F" stroke-width="1.0"/>
<circle cx="177.5" cy="265.1" r="5.1" fill="#fff" stroke="#FFB90F" stroke-width="1.0"/>
<circle cx="181.8" cy="264.8" r="5.1" fill="#fff" stroke="#FFB90F" stroke-width="1.0"/>
<circle cx="186.1" cy="264.5" r="5.1" fill="#fff" stroke="#FFB90F" stroke-width="1.0"/>
<circle cx="190.4" cy="264.2" r="5.1" fill="#fff" stroke="#FFB90F" stroke-width="1.0"/>
<circle cx="194.7" cy="263.9" r="5.1" fill="#fff" stroke="#FFB90F" stroke-width="1.0"/>
<circle cx="199.0" cy="263.7" r="5.1" fill="#fff" stroke="#FFB90F" stroke-width="1.0"/>
<circle cx="203.3" cy="263.4" r="5.1" fill="#fff" stroke="#FFB90F" stroke-width="1.0"/>
<circle cx="207.6" cy="262.7" r="5.1" fill="#fff" stroke="#FFB90F" stroke-width="1.0"/>
<circle cx="211.9" cy="261.0" r="5.1" fill="#fff" stroke="#FFB90F" stroke-width="1.0"/>
<circle cx="216.2" cy="259.4" r="5.1" fill="#fff" stroke="#FFB90F" stroke-width="1.0"/>
<circle cx="220.5" cy="257.7" r="5.1" fill="#fff" stroke="#FFB90F" stroke-width="1.0"/>
<circle cx="224.8" cy="255.9" r="5.1" fill="#fff" stroke="#FFB90F" stroke-width="1.0"/>
<circle cx="229.1" cy="254.2" r="5.1" fill="#fff" stroke="#FFB90F" stroke-width="1.0"/>
<circle cx="233.4" cy="252.8" r="5.1" fill="#fff" stroke="#FFB90F" stroke-width="1.0"/>
<circle cx="237.7" cy="252.0" r="5.1" fill="#fff" stroke="#FFB90F" stroke-width="1.0"/>
<circle cx="242.0" cy="251.3" r="5.1" fill="#fff" stroke="#FFB90F" stroke-width="1.0"/>
<circle cx="246.3" cy="250.6" r="5.1" fill="#fff" stroke="#FFB90F" stroke-width="1.0"/>
<circle cx="250.6" cy="249.9" r="5.1" fill="#fff" stroke="#FFB90F" stroke-width="1.0"/>
<circle cx="254.9" cy="249.2" r="5.1" fill="#fff" stroke="#FFB90F" stroke-width="1.0"/>
<circle cx="259.2" cy="248.6" r="5.1" fill="#fff" stroke="#FFB90F" stroke-width="1.0"/>
<circle cx="263.5" cy="248.2" r="5.1" fill="#fff" stroke="#FFB90F" stroke-width="1.0"/>
<circle cx="267.8" cy="247.8" r="5.1" fill="#fff" stroke="#FFB90F" stroke-width="1.0"/>
<circle cx="272.2" cy="247.4" r="5.1" fill="#fff" stroke="#FFB90F" stroke-width="1.0"/>
<circle cx="276.5" cy="247.0" r="5.1" fill="#fff" stroke="#FFB90F" stroke-width="1.0"/>
<circle cx="280.8" cy="246.6" r="5.1" fill="#fff" stroke="#FFB90F" stroke-width="1.0"/>
<circle cx="285.1" cy="246.2" r="5.1" fill="#fff" stroke="#FFB90F" stroke-width="1.0"/>
<circle cx="289.4" cy="245.9" r="5.1" fill="#fff" stroke="#FFB90F" stroke-width="1.0"/>
<circle cx="293.7" cy="245.5" r="5.1" fill="#fff" stroke="#FFB90F" stroke-width="1.0"/>
<circle cx="298.0" cy="245.1" r="5.1" fill="#fff" stroke="#FFB90F" stroke-width="1.0"/>
<circle cx="302.3" cy="244.5" r="5.1" fill="#fff" stroke="#FFB90F" stroke-width="1.0"/>
<circle cx="306.6" cy="243.9" r="5.1" fill="#fff" stroke="#FFB90F" stroke-width="1.0"/>
<circle cx="310.9" cy="243.2" r="5.1" fill="#fff" stroke="#FFB90F" stroke-width="1.0"/>
<circle cx="315.2" cy="242.6" r="5.1" fill="#fff" stroke="#FFB90F" stroke-width="1.0"/>
<circle cx="319.5" cy="242.0" r="5.1" fill="#fff" stroke="#FFB90F" stroke-width="1.0"/>
<circle cx="323.8" cy="241.4" r="5.1" fill="#fff" stroke="#FFB90F" stroke-width="1.0"/>
<circle cx="328.1" cy="240.8" r="5.1" fill="#fff" stroke="#FFB90F" stroke-width="1.0"/>
<circle cx="332.4" cy="240.2" r="5.1" fill="#fff" stroke="#FFB90F" stroke-width="1.0"/>
<circle cx="336.7" cy="239.6" r="5.1" fill="#fff" stroke="#FFB90F" stroke-width="1.0"/>
<circle cx="341.0" cy="239.2" r="5.1" fill="#fff" stroke="#FFB90F" stroke-width="1.0"/>
<circle cx="345.3" cy="238.9" r="5.1" fill="#fff" stroke="#FFB90F" stroke-width="1.0"/>
<circle cx="349.6" cy="238.6" r="5.1" fill="#fff" stroke="#FFB90F" stroke-width="1.0"/>
<circle cx="353.9" cy="238.2" r="5.1" fill="#fff" stroke="#FFB90F" stroke-width="1.0"/>
<circle cx="358.2" cy="237.5" r="5.1" fill="#fff" stroke="#FFB90F" stroke-width="1.0"/>
<circle cx="362.5" cy="236.7" r="5.1" fill="#fff" stroke="#FFB90F" stroke-width="1.0"/>
<circle cx="366.8" cy="236.0" r="5.1" fill="#fff" stroke="#FFB90F" stroke-width="1.0"/>
<circle cx="371.1" cy="235.2" r="5.1" fill="#fff" stroke="#FFB90F" stroke-width="1.0"/>
<circle cx="375.4" cy="234.5" r="5.1" fill="#fff" stroke="#FFB90F" stroke-width="1.0"/>
<circle cx="379.7" cy="233.7" r="5.1" fill="#fff" stroke="#FFB90F" stroke-width="1.0"/>
<circle cx="384.0" cy="232.4" r="5.1" fill="#fff" stroke="#FFB90F" stroke-width="1.0"/>
<circle cx="388.3" cy="230.7" r="5.1" fill="#fff" stroke="#FFB90F" stroke-width="1.0"/>
<circle cx="392.7" cy="229.0" r="5.1" fill="#fff" stroke="#FFB90F" stroke-width="1.0"/>
<circle cx="397.0" cy="226.5" r="5.1" fill="#fff" stroke="#FFB90F" stroke-width="1.0"/>
<circle cx="401.3" cy="222.9" r="5.1" fill="#fff" stroke="#FFB90F" stroke-width="1.0"/>
<circle cx="405.6" cy="218.0" r="5.1" fill="#fff" stroke="#FFB90F" stroke-width="1.0"/>
<circle cx="409.9" cy="212.0" r="5.1" fill="#fff" stroke="#FFB90F" stroke-width="1.0"/>
<circle cx="414.2" cy="205.7" r="5.1" fill="#fff" stroke="#FFB90F" stroke-width="1.0"/>
<circle cx="417.6" cy="193.6" r="5.1" fill="#fff" stroke="#FFB90F" stroke-width="1.0"/>
<circle cx="422.8" cy="181.5" r="5.1" fill="#fff" stroke="#FFB90F" stroke-width="1.0"/>
<circle cx="426.9" cy="167.6" r="5.1" fill="#fff" stroke="#FFB90F" stroke-width="1.0"/>
<circle cx="431.3" cy="153.0" r="5.1" fill="#fff" stroke="#FFB90F" stroke-width="1.0"/>
<circle cx="435.6" cy="137.5" r="5.1" fill="#fff" stroke="#FFB90F" stroke-width="1.0"/>
<circle cx="439.8" cy="119.2" r="5.1" fill="#fff" stroke="#FFB90F" stroke-width="1.0"/>
<circle cx="444.0" cy="103.1" r="5.1" fill="#fff" stroke="#FFB90F" stroke-width="1.0"/>
<circle cx="448.5" cy="89.1" r="5.1" fill="#fff" stroke="#FFB90F" stroke-width="1.0"/>
<circle cx="452.8" cy="79.4" r="5.1" fill="#fff" stroke="#FFB90F" stroke-width="1.0"/>
<circle cx="456.9" cy="70.8" r="5.1" fill="#fff" stroke="#FFB90F" stroke-width="1.0"/>
<circle cx="461.4" cy="63.9" r="5.1" fill="#fff" stroke="#FFB90F" stroke-width="1.0"/>
<circle cx="466.4" cy="58.5" r="5.1" fill="#fff" stroke="#FFB90F" stroke-width="1.0"/>
<circle cx="471.7" cy="55.3" r="5.1" fill="#fff" stroke="#FFB90F" stroke-width="1.0"/>
<circle cx="477.2" cy="52.3" r="5.1" fill="#fff" stroke="#FFB90F" stroke-width="1.0"/>
<circle cx="482.0" cy="51.0" r="5.1" fill="#fff" stroke="#FFB90F" stroke-width="1.0"/>
<circle cx="486.3" cy="50.7" r="5.1" fill="#fff" stroke="#FFB90F" stroke-width="1.0"/>
<circle cx="490.6" cy="50.3" r="5.1" fill="#fff" stroke="#FFB90F" stroke-width="1.0"/>
<circle cx="494.9" cy="50.0" r="5.1" fill="#fff" stroke="#FFB90F" stroke-width="1.0"/>
<circle cx="499.2" cy="49.7" r="5.1" fill="#fff" stroke="#FFB90F" stroke-width="1.0"/>
<circle cx="503.4" cy="49.4" r="5.1" fill="#fff" stroke="#FFB90F" stroke-width="1.0"/>
<circle cx="507.7" cy="49.2" r="5.1" fill="#fff" stroke="#FFB90F" stroke-width="1.0"/>
<circle cx="512.0" cy="49.1" r="5.1" fill="#fff" stroke="#FFB90F" stroke-width="1.0"/>
<circle cx="516.3" cy="49.0" r="5.1" fill="#fff" stroke="#FFB90F" stroke-width="1.0"/>
<circle cx="520.6" cy="48.8" r="5.1" fill="#fff" stroke="#FFB90F" stroke-width="1.0"/>
<circle cx="524.9" cy="48.7" r="5.1" fill="#fff" stroke="#FFB90F" stroke-width="1.0"/>
<circle cx="529.2" cy="48.6" r="5.1" fill="#fff" stroke="#FFB90F" stroke-width="1.0"/>
<circle cx="533.5" cy="48.4" r="5.1" fill="#fff" stroke="#FFB90F" stroke-width="1.0"/>
<circle cx="537.8" cy="48.3" r="5.1" fill="#fff" stroke="#FFB90F" stroke-width="1.0"/>
<circle cx="542.1" cy="48.2" r="5.1" fill="#fff" stroke="#FFB90F" stroke-width="1.0"/>
<circle cx="546.4" cy="48.2" r="5.1" fill="#fff" stroke="#FFB90F" stroke-width="1.0"/>
<circle cx="550.7" cy="48.1" r="5.1" fill="#fff" stroke="#FFB90F" stroke-width="1.0"/>
<circle cx="555.0" cy="48.0" r="5.1" fill="#fff" stroke="#FFB90F" stroke-width="1.0"/>
<circle cx="559.2" cy="48.0" r="5.1" fill="#fff" stroke="#FFB90F" stroke-width="1.0"/>
<circle cx="563.5" cy="47.9" r="5.1" fill="#fff" stroke="#FFB90F" stroke-width="1.0"/>
<circle cx="567.8" cy="47.9" r="5.1" fill="#fff" stroke="#FFB90F" stroke-width="1.0"/>
<circle cx="572.1" cy="47.8" r="5.1" fill="#fff" stroke="#FFB90F" stroke-width="1.0"/>
<circle cx="576.4" cy="47.7" r="5.1" fill="#fff" stroke="#FFB90F" stroke-width="1.0"/>
<circle cx="580.7" cy="47.7" r="5.1" fill="#fff" stroke="#FFB90F" stroke-width="1.0"/>
<circle cx="585.0" cy="47.6" r="5.1" fill="#fff" stroke="#FFB90F" stroke-width="1.0"/>
<circle cx="589.3" cy="47.6" r="5.1" fill="#fff" stroke="#FFB90F" stroke-width="1.0"/>
<circle cx="593.6" cy="47.5" r="5.1" fill="#fff" stroke="#FFB90F" stroke-width="1.0"/>
<circle cx="597.9" cy="47.5" r="5.1" fill="#fff" stroke="#FFB90F" stroke-width="1.0"/>
<circle cx="602.2" cy="47.4" r="5.1" fill="#fff" stroke="#FFB90F" stroke-width="1.0"/>
<circle cx="606.5" cy="47.3" r="5.1" fill="#fff" stroke="#FFB90F" stroke-width="1.0"/>
<circle cx="610.7" cy="47.3" r="5.1" fill="#fff" stroke="#FFB90F" stroke-width="1.0"/>
<circle cx="615.0" cy="47.2" r="5.1" fill="#fff" stroke="#FFB90F" stroke-width="1.0"/>
<circle cx="619.3" cy="47.2" r="5.1" fill="#fff" stroke="#FFB90F" stroke-width="1.0"/>
<circle cx="623.6" cy="47.1" r="5.1" fill="#fff" stroke="#FFB90F" stroke-width="1.0"/>
<circle cx="627.9" cy="47.0" r="5.1" fill="#fff" stroke="#FFB90F" stroke-width="1.0"/>
<circle cx="632.2" cy="47.0" r="5.1" fill="#fff" stroke="#FFB90F" stroke-width="1.0"/>
<circle cx="636.5" cy="46.9" r="5.1" fill="#fff" stroke="#FFB90F" stroke-width="1.0"/>
<circle cx="640.8" cy="46.9" r="5.1" fill="#fff" stroke="#FFB90F" stroke-width="1.0"/>
<circle cx="645.1" cy="46.8" r="5.1" fill="#fff" stroke="#FFB90F" stroke-width="1.0"/>
<circle cx="649.4" cy="46.7" r="5.1" fill="#fff" stroke="#FFB90F" stroke-width="1.0"/>
<circle cx="653.7" cy="46.7" r="5.1" fill="#fff" stroke="#FFB90F" stroke-width="1.0"/>
<circle cx="658.0" cy="46.6" r="5.1" fill="#fff" stroke="#FFB90F" stroke-width="1.0"/>
<circle cx="662.3" cy="46.6" r="5.1" fill="#fff" stroke="#FFB90F" stroke-width="1.0"/>
<circle cx="666.5" cy="46.5" r="5.1" fill="#fff" stroke="#FFB90F" stroke-width="1.0"/>
<circle cx="670.8" cy="46.4" r="5.1" fill="#fff" stroke="#FFB90F" stroke-width="1.0"/>
<circle cx="675.1" cy="46.4" r="5.1" fill="#fff" stroke="#FFB90F" stroke-width="1.0"/>
<circle cx="679.4" cy="46.3" r="5.1" fill="#fff" stroke="#FFB90F" stroke-width="1.0"/>
<circle cx="683.7" cy="46.3" r="5.1" fill="#fff" stroke="#FFB90F" stroke-width="1.0"/>
<circle cx="688.0" cy="46.2" r="5.1" fill="#fff" stroke="#FFB90F" stroke-width="1.0"/>
<circle cx="692.3" cy="46.1" r="5.1" fill="#fff" stroke="#FFB90F" stroke-width="1.0"/>
<polygon points="91.4,489.5 98.1,501.1 84.7,501.1" fill="#007F00"/>
<polygon points="95.7,489.2 102.4,500.8 89.0,500.8" fill="#007F00"/>
<polygon points="100.0,489.0 106.7,500.6 93.3,500.6" fill="#007F00"/>
<polygon points="104.3,488.8 111.0,500.4 97.6,500.4" fill="#007F00"/>
<polygon points="108.7,488.6 115.4,500.2 102.0,500.2" fill="#007F00"/>
<polygon points="113.0,488.4 119.7,500.0 106.3,500.0" fill="#007F00"/>
<polygon points="117.3,488.2 124.0,499.8 110.6,499.8" fill="#007F00"/>
<polygon points="121.6,487.9 128.3,499.5 114.9,499.5" fill="#007F00"/>
<polygon points="125.9,487.7 132.6,499.3 119.2,499.3" fill="#007F00"/>
<polygon points="130.2,487.5 136.9,499.1 123.5,499.1" fill="#007F00"/>
<polygon points="134.5,487.3 141.2,498.9 127.8,498.9" fill="#007F00"/>
<polygon points="138.8,487.1 145.5,498.7 132.1,498.7" fill="#007F00"/>
<polygon points="143.2,486.9 149.9,498.5 136.5,498.5" fill="#007F00"/>
<polygon points="147.5,486.6 154.2,498.2 140.8,498.2" fill="#007F00"/>
<polygon points="151.8,486.4 158.5,498.0 145.1,498.0" fill="#007F00"/>
<polygon points="156.1,486.2 162.8,497.8 149.4,497.8" fill="#007F00"/>
<polygon points="160.4,486.0 167.1,497.6 153.7,497.6" fill="#007F00"/>
<polygon points="164.7,485.8 171.4,497.4 158.0,497.4" fill="#007F00"/>
<polygon points="169.0,485.6 175.7,497.2 162.3,497.2" fill="#007F00"/>
<polygon points="173.4,485.4 180.1,497.0 166.7,497.0" fill="#007F00"/>
<polygon points="177.7,485.1 184.4,496.7 171.0,496.7" fill="#007F00"/>
<polygon points="182.0,484.9 188.7,496.5 175.3,496.5" fill="#007F00"/>
<polygon points="186.3,484.6 193.0,496.2 179.6,496.2" fill="#007F00"/>
<polygon points="190.6,484.4 197.3,496.0 183.9,496.0" fill="#007F00"/>
<polygon points="194.9,484.2 201.6,495.8 188.2,495.8" fill="#007F00"/>
<polygon points="199.2,483.9 205.9,495.5 192.5,495.5" fill="#007F00"/>
<polygon points="203.5,483.7 210.2,495.3 196.8,495.3" fill="#007F00"/>
<polygon points="207.9,483.4 214.6,495.0 201.2,495.0" fill="#007F00"/>
<polygon points="212.2,483.2 218.9,494.8 205.5,494.8" fill="#007F00"/>
<polygon points="216.5,482.9 223.2,494.5 209.8,494.5" fill="#007F00"/>
<polygon points="220.8,482.7 227.5,494.3 214.1,494.3" fill="#007F00"/>
<polygon points="225.1,482.5 231.8,494.1 218.4,494.1" fill="#007F00"/>
<polygon points="229.4,482.2 236.1,493.8 222.7,493.8" fill="#007F00"/>
<polygon points="233.7,482.0 240.4,493.6 227.0,493.6" fill="#007F00"/>
<polygon points="238.1,481.7 244.8,493.3 231.4,493.3" fill="#007F00"/>
<polygon points="242.4,481.5 249.1,493.1 235.7,493.1" fill="#007F00"/>
<polygon points="246.7,481.2 253.4,492.8 240.0,492.8" fill="#007F00"/>
<polygon points="251.0,481.0 257.7,492.6 244.3,492.6" fill="#007F00"/>
<polygon points="255.3,480.8 262.0,492.4 248.6,492.4" fill="#007F00"/>
<polygon points="259.6,480.5 266.3,492.1 252.9,492.1" fill="#007F00"/>
<polygon points="263.9,480.2 270.6,491.8 257.2,491.8" fill="#007F00"/>
<polygon points="268.2,479.6 274.9,491.2 261.5,491.2" fill="#007F00"/>
<polygon points="272.6,479.1 279.3,490.7 265.9,490.7" fill="#007F00"/>
<polygon points="276.9,478.5 283.6,490.1 270.2,490.1" fill="#007F00"/>
<polygon points="281.2,477.9 287.9,489.5 274.5,489.5" fill="#007F00"/>
<polygon points="285.5,477.3 292.2,488.9 278.8,488.9" fill="#007F00"/>
<polygon points="289.8,476.8 296.5,488.4 283.1,488.4" fill="#007F00"/>
<polygon points="294.1,476.2 300.8,487.8 287.4,487.8" fill="#007F00"/>
<polygon points="298.4,475.6 305.1,487.2 291.7,487.2" fill="#007F00"/>
<polygon points="302.8,475.1 309.5,486.7 296.1,486.7" fill="#007F00"/>
<polygon points="307.1,474.5 313.8,486.1 300.4,486.1" fill="#007F00"/>
<polygon points="311.4,473.9 318.1,485.5 304.7,485.5" fill="#007F00"/>
<polygon points="315.7,473.3 322.4,484.9 309.0,484.9" fill="#007F00"/>
<polygon points="320.0,472.8 326.7,484.4 313.3,484.4" fill="#007F00"/>
<polygon points="324.3,472.5 331.0,484.1 317.6,484.1" fill="#007F00"/>
<polygon points="328.6,472.2 335.3,483.8 321.9,483.8" fill="#007F00"/>
<polygon points="332.9,471.9 339.6,483.5 326.2,483.5" fill="#007F00"/>
<polygon points="337.3,471.6 344.0,483.2 330.6,483.2" fill="#007F00"/>
<polygon points="341.6,471.3 348.3,482.9 334.9,482.9" fill="#007F00"/>
<polygon points="345.9,471.1 352.6,482.7 339.2,482.7" fill="#007F00"/>
<polygon points="350.2,470.8 356.9,482.4 343.5,482.4" fill="#007F00"/>
<polygon points="354.5,470.5 361.2,482.1 347.8,482.1" fill="#007F00"/>
<polygon points="358.8,470.2 365.5,481.8 352.1,481.8" fill="#007F00"/>
<polygon points="363.1,469.9 369.8,481.5 356.4,481.5" fill="#007F00"/>
<polygon points="367.5,469.6 374.2,481.2 360.8,481.2" fill="#007F00"/>
<polygon points="371.8,469.3 378.5,480.9 365.1,480.9" fill="#007F00"/>
<polygon points="376.1,469.1 382.8,480.7 369.4,480.7" fill="#007F00"/>
<polygon points="380.4,468.8 387.1,480.4 373.7,480.4" fill="#007F00"/>
<polygon points="384.7,468.5 391.4,480.1 378.0,480.1" fill="#007F00"/>
<polygon points="389.0,468.2 395.7,479.8 382.3,479.8" fill="#007F00"/>
<polygon points="393.3,467.9 400.0,479.5 386.6,479.5" fill="#007F00"/>
<polygon points="397.6,467.6 404.3,479.2 390.9,479.2" fill="#007F00"/>
<polygon points="402.0,467.2 408.7,478.8 395.3,478.8" fill="#007F00"/>
<polygon points="406.3,466.7 413.0,478.3 399.6,478.3" fill="#007F00"/>
<polygon points="410.6,466.1 417.3,477.7 403.9,477.7" fill="#007F00"/>
<polygon points="414.9,465.6 421.6,477.2 408.2,477.2" fill="#007F00"/>
<polygon points="419.2,465.0 425.9,476.6 412.5,476.6" fill="#007F00"/>
<polygon points="423.5,464.5 430.2,476.1 416.8,476.1" fill="#007F00"/>
<polygon points="427.8,463.9 434.5,475.5 421.1,475.5" fill="#007F00"/>
<polygon points="432.2,463.3 438.9,474.9 425.5,474.9" fill="#007F00"/>
<polygon points="436.5,462.8 443.2,474.4 429.8,474.4" fill="#007F00"/>
<polygon points="440.8,462.2 447.5,473.8 434.1,473.8" fill="#007F00"/>
<polygon points="445.1,461.7 451.8,473.3 438.4,473.3" fill="#007F00"/>
<polygon points="449.4,461.1 456.1,472.7 442.7,472.7" fill="#007F00"/>
<polygon points="453.7,460.6 460.4,472.2 447.0,472.2" fill="#007F00"/>
<polygon points="458.0,460.0 464.7,471.6 451.3,471.6" fill="#007F00"/>
<polygon points="462.3,458.5 469.0,470.1 455.6,470.1" fill="#007F00"/>
<polygon points="466.7,456.4 473.4,468.0 460.0,468.0" fill="#007F00"/>
<polygon points="471.0,452.7 477.7,464.3 464.3,464.3" fill="#007F00"/>
<polygon points="475.3,445.9 482.0,457.5 468.6,457.5" fill="#007F00"/>
<polygon points="477.9,259.3 484.6,270.9 471.2,270.9" fill="#007F00"/>
<polygon points="483.0,187.5 489.7,199.1 476.3,199.1" fill="#007F00"/>
<polygon points="485.9,152.1 492.6,163.7 479.2,163.7" fill="#007F00"/>
<polygon points="490.6,126.3 497.3,137.9 483.9,137.9" fill="#007F00"/>
<polygon points="494.7,103.7 501.4,115.3 488.0,115.3" fill="#007F00"/>
<polygon points="500.4,85.5 507.1,97.1 493.7,97.1" fill="#007F00"/>
<polygon points="505.2,73.1 511.9,84.7 498.5,84.7" fill="#007F00"/>
<polygon points="510.3,64.0 517.0,75.6 503.6,75.6" fill="#007F00"/>
<polygon points="515.5,57.0 522.2,68.6 508.8,68.6" fill="#007F00"/>
<polygon points="520.6,52.7 527.3,64.3 513.9,64.3" fill="#007F00"/>
<polygon points="524.9,50.3 531.6,61.9 518.2,61.9" fill="#007F00"/>
<polygon points="529.2,47.9 535.9,59.5 522.5,59.5" fill="#007F00"/>
<polygon points="533.5,46.8 540.2,58.4 526.8,58.4" fill="#007F00"/>
<polygon points="537.8,45.7 544.5,57.3 531.1,57.3" fill="#007F00"/>
<polygon points="542.1,44.6 548.8,56.2 535.4,56.2" fill="#007F00"/>
<polygon points="546.4,43.6 553.1,55.2 539.7,55.2" fill="#007F00"/>
<polygon points="550.7,43.3 557.4,54.9 544.0,54.9" fill="#007F00"/>
<polygon points="555.0,42.9 561.7,54.5 548.3,54.5" fill="#007F00"/>
<polygon points="559.2,42.6 565.9,54.2 552.5,54.2" fill="#007F00"/>
<polygon points="563.5,42.3 570.2,53.9 556.8,53.9" fill="#007F00"/>
<polygon points="567.8,42.0 574.5,53.6 561.1,53.6" fill="#007F00"/>
<polygon points="572.1,41.7 578.8,53.3 565.4,53.3" fill="#007F00"/>
<polygon points="576.4,41.4 583.1,53.0 569.7,53.0" fill="#007F00"/>
<polygon points="580.7,41.1 587.4,52.7 574.0,52.7" fill="#007F00"/>
<polygon points="585.0,40.8 591.7,52.4 578.3,52.4" fill="#007F00"/>
<polygon points="589.3,40.5 596.0,52.1 582.6,52.1" fill="#007F00"/>
<polygon points="593.6,40.2 600.3,51.8 586.9,51.8" fill="#007F00"/>
<polygon points="597.9,39.9 604.6,51.5 591.2,51.5" fill="#007F00"/>
<polygon points="602.2,39.6 608.9,51.2 595.5,51.2" fill="#007F00"/>
<polygon points="606.5,39.3 613.2,50.9 599.8,50.9" fill="#007F00"/>
<polygon points="610.7,39.2 617.4,50.8 604.0,50.8" fill="#007F00"/>
<polygon points="615.0,39.0 621.7,50.6 608.3,50.6" fill="#007F00"/>
<polygon points="619.3,38.9 626.0,50.5 612.6,50.5" fill="#007F00"/>
<polygon points="623.6,38.8 630.3,50.4 616.9,50.4" fill="#007F00"/>
<polygon points="627.9,38.7 634.6,50.3 621.2,50.3" fill="#007F00"/>
<polygon points="632.2,38.6 638.9,50.2 625.5,50.2" fill="#007F00"/>
<polygon points="636.5,38.5 643.2,50.1 629.8,50.1" fill="#007F00"/>
<polygon points="640.8,38.4 647.5,50.0 634.1,50.0" fill="#007F00"/>
<polygon points="645.1,38.3 651.8,49.9 638.4,49.9" fill="#007F00"/>
<polygon points="649.4,38.2 656.1,49.8 642.7,49.8" fill="#007F00"/>
<polygon points="653.7,38.1 660.4,49.7 647.0,49.7" fill="#007F00"/>
<polygon points="658.0,38.0 664.7,49.6 651.3,49.6" fill="#007F00"/>
<polygon points="662.3,37.9 669.0,49.5 655.6,49.5" fill="#007F00"/>
<polygon points="666.5,37.8 673.2,49.4 659.8,49.4" fill="#007F00"/>
<polygon points="670.8,37.7 677.5,49.3 664.1,49.3" fill="#007F00"/>
<polygon points="675.1,37.5 681.8,49.1 668.4,49.1" fill="#007F00"/>
<polygon points="679.4,37.4 686.1,49.0 672.7,49.0" fill="#007F00"/>
<polygon points="683.7,37.3 690.4,48.9 677.0,48.9" fill="#007F00"/>
<polygon points="688.0,37.2 694.7,48.8 681.3,48.8" fill="#007F00"/>
<polygon points="692.3,37.1 699.0,48.7 685.6,48.7" fill="#007F00"/>
<polygon points="91.4,255.8 97.7,266.7 85.1,266.7" fill="#fff" stroke="#007F00" stroke-width="1.0" stroke-linejoin="miter"/>
<polygon points="95.7,255.7 102.0,266.6 89.4,266.6" fill="#fff" stroke="#007F00" stroke-width="1.0" stroke-linejoin="miter"/>
<polygon points="100.0,255.5 106.3,266.4 93.7,266.4" fill="#fff" stroke="#007F00" stroke-width="1.0" stroke-linejoin="miter"/>
<polygon points="104.3,255.4 110.6,266.3 98.0,266.3" fill="#fff" stroke="#007F00" stroke-width="1.0" stroke-linejoin="miter"/>
<polygon points="108.6,255.2 114.9,266.1 102.3,266.1" fill="#fff" stroke="#007F00" stroke-width="1.0" stroke-linejoin="miter"/>
<polygon points="113.0,255.1 119.3,266.0 106.7,266.0" fill="#fff" stroke="#007F00" stroke-width="1.0" stroke-linejoin="miter"/>
<polygon points="117.3,254.9 123.6,265.8 111.0,265.8" fill="#fff" stroke="#007F00" stroke-width="1.0" stroke-linejoin="miter"/>
<polygon points="121.6,254.7 127.9,265.6 115.3,265.6" fill="#fff" stroke="#007F00" stroke-width="1.0" stroke-linejoin="miter"/>
<polygon points="125.9,254.6 132.2,265.5 119.6,265.5" fill="#fff" stroke="#007F00" stroke-width="1.0" stroke-linejoin="miter"/>
<polygon points="130.2,254.4 136.5,265.3 123.9,265.3" fill="#fff" stroke="#007F00" stroke-width="1.0" stroke-linejoin="miter"/>
<polygon points="134.5,254.3 140.8,265.2 128.2,265.2" fill="#fff" stroke="#007F00" stroke-width="1.0" stroke-linejoin="miter"/>
<polygon points="138.8,254.1 145.1,265.0 132.5,265.0" fill="#fff" stroke="#007F00" stroke-width="1.0" stroke-linejoin="miter"/>
<polygon points="143.1,254.0 149.4,264.9 136.8,264.9" fill="#fff" stroke="#007F00" stroke-width="1.0" stroke-linejoin="miter"/>
<polygon points="147.5,253.7 153.8,264.6 141.2,264.6" fill="#fff" stroke="#007F00" stroke-width="1.0" stroke-linejoin="miter"/>
<polygon points="151.8,253.5 158.1,264.4 145.5,264.4" fill="#fff" stroke="#007F00" stroke-width="1.0" stroke-linejoin="miter"/>
<polygon points="156.1,253.3 162.4,264.2 149.8,264.2" fill="#fff" stroke="#007F00" stroke-width="1.0" stroke-linejoin="miter"/>
<polygon points="160.4,253.1 166.7,264.0 154.1,264.0" fill="#fff" stroke="#007F00" stroke-width="1.0" stroke-linejoin="miter"/>
<polygon points="164.7,252.9 171.0,263.8 158.4,263.8" fill="#fff" stroke="#007F00" stroke-width="1.0" stroke-linejoin="miter"/>
<polygon points="169.0,252.7 175.3,263.6 162.7,263.6" fill="#fff" stroke="#007F00" stroke-width="1.0" stroke-linejoin="miter"/>
<polygon points="173.3,252.5 179.6,263.4 167.0,263.4" fill="#fff" stroke="#007F00" stroke-width="1.0" stroke-linejoin="miter"/>
<polygon points="177.6,252.3 183.9,263.2 171.3,263.2" fill="#fff" stroke="#007F00" stroke-width="1.0" stroke-linejoin="miter"/>
<polygon points="182.0,252.1 188.3,263.0 175.7,263.0" fill="#fff" stroke="#007F00" stroke-width="1.0" stroke-linejoin="miter"/>
<polygon points="186.3,251.9 192.6,262.8 180.0,262.8" fill="#fff" stroke="#007F00" stroke-width="1.0" stroke-linejoin="miter"/>
<polygon points="190.6,251.7 196.9,262.6 184.3,262.6" fill="#fff" stroke="#007F00" stroke-width="1.0" stroke-linejoin="miter"/>
<polygon points="194.9,251.5 201.2,262.4 188.6,262.4" fill="#fff" stroke="#007F00" stroke-width="1.0" stroke-linejoin="miter"/>
<polygon points="199.2,251.3 205.5,262.2 192.9,262.2" fill="#fff" stroke="#007F00" stroke-width="1.0" stroke-linejoin="miter"/>
<polygon points="203.5,251.0 209.8,261.9 197.2,261.9" fill="#fff" stroke="#007F00" stroke-width="1.0" stroke-linejoin="miter"/>
<polygon points="207.8,250.8 214.1,261.7 201.5,261.7" fill="#fff" stroke="#007F00" stroke-width="1.0" stroke-linejoin="miter"/>
<polygon points="212.1,250.6 218.4,261.5 205.8,261.5" fill="#fff" stroke="#007F00" stroke-width="1.0" stroke-linejoin="miter"/>
<polygon points="216.5,250.3 222.8,261.2 210.2,261.2" fill="#fff" stroke="#007F00" stroke-width="1.0" stroke-linejoin="miter"/>
<polygon points="220.8,249.9 227.1,260.8 214.5,260.8" fill="#fff" stroke="#007F00" stroke-width="1.0" stroke-linejoin="miter"/>
<polygon points="225.1,249.6 231.4,260.5 218.8,260.5" fill="#fff" stroke="#007F00" stroke-width="1.0" stroke-linejoin="miter"/>
<polygon points="229.4,249.3 235.7,260.2 223.1,260.2" fill="#fff" stroke="#007F00" stroke-width="1.0" stroke-linejoin="miter"/>
<polygon points="233.7,249.0 240.0,259.9 227.4,259.9" fill="#fff" stroke="#007F00" stroke-width="1.0" stroke-linejoin="miter"/>
<polygon points="238.0,248.7 244.3,259.6 231.7,259.6" fill="#fff" stroke="#007F00" stroke-width="1.0" stroke-linejoin="miter"/>
<polygon points="242.3,248.4 248.6,259.3 236.0,259.3" fill="#fff" stroke="#007F00" stroke-width="1.0" stroke-linejoin="miter"/>
<polygon points="246.6,248.1 252.9,259.0 240.3,259.0" fill="#fff" stroke="#007F00" stroke-width="1.0" stroke-linejoin="miter"/>
<polygon points="250.9,247.7 257.2,258.6 244.6,258.6" fill="#fff" stroke="#007F00" stroke-width="1.0" stroke-linejoin="miter"/>
<polygon points="255.3,247.4 261.6,258.3 249.0,258.3" fill="#fff" stroke="#007F00" stroke-width="1.0" stroke-linejoin="miter"/>
<polygon points="259.6,247.1 265.9,258.0 253.3,258.0" fill="#fff" stroke="#007F00" stroke-width="1.0" stroke-linejoin="miter"/>
<polygon points="263.9,246.8 270.2,257.7 257.6,257.7" fill="#fff" stroke="#007F00" stroke-width="1.0" stroke-linejoin="miter"/>
<polygon points="268.2,246.5 274.5,257.4 261.9,257.4" fill="#fff" stroke="#007F00" stroke-width="1.0" stroke-linejoin="miter"/>
<polygon points="272.5,246.3 278.8,257.2 266.2,257.2" fill="#fff" stroke="#007F00" stroke-width="1.0" stroke-linejoin="miter"/>
<polygon points="276.8,246.0 283.1,256.9 270.5,256.9" fill="#fff" stroke="#007F00" stroke-width="1.0" stroke-linejoin="miter"/>
<polygon points="281.1,245.8 287.4,256.7 274.8,256.7" fill="#fff" stroke="#007F00" stroke-width="1.0" stroke-linejoin="miter"/>
<polygon points="285.4,245.6 291.7,256.5 279.1,256.5" fill="#fff" stroke="#007F00" stroke-width="1.0" stroke-linejoin="miter"/>
<polygon points="289.8,245.4 296.1,256.3 283.5,256.3" fill="#fff" stroke="#007F00" stroke-width="1.0" stroke-linejoin="miter"/>
<polygon points="294.1,245.2 300.4,256.1 287.8,256.1" fill="#fff" stroke="#007F00" stroke-width="1.0" stroke-linejoin="miter"/>
<polygon points="298.4,245.0 304.7,255.9 292.1,255.9" fill="#fff" stroke="#007F00" stroke-width="1.0" stroke-linejoin="miter"/>
<polygon points="302.7,244.7 309.0,255.6 296.4,255.6" fill="#fff" stroke="#007F00" stroke-width="1.0" stroke-linejoin="miter"/>
<polygon points="307.0,244.4 313.3,255.3 300.7,255.3" fill="#fff" stroke="#007F00" stroke-width="1.0" stroke-linejoin="miter"/>
<polygon points="311.3,244.1 317.6,255.0 305.0,255.0" fill="#fff" stroke="#007F00" stroke-width="1.0" stroke-linejoin="miter"/>
<polygon points="315.6,243.7 321.9,254.6 309.3,254.6" fill="#fff" stroke="#007F00" stroke-width="1.0" stroke-linejoin="miter"/>
<polygon points="319.9,243.4 326.2,254.3 313.6,254.3" fill="#fff" stroke="#007F00" stroke-width="1.0" stroke-linejoin="miter"/>
<polygon points="324.3,243.1 330.6,254.0 318.0,254.0" fill="#fff" stroke="#007F00" stroke-width="1.0" stroke-linejoin="miter"/>
<polygon points="328.6,242.8 334.9,253.7 322.3,253.7" fill="#fff" stroke="#007F00" stroke-width="1.0" stroke-linejoin="miter"/>
<polygon points="332.9,242.4 339.2,253.3 326.6,253.3" fill="#fff" stroke="#007F00" stroke-width="1.0" stroke-linejoin="miter"/>
<polygon points="337.2,242.1 343.5,253.0 330.9,253.0" fill="#fff" stroke="#007F00" stroke-width="1.0" stroke-linejoin="miter"/>
<polygon points="341.5,241.7 347.8,252.6 335.2,252.6" fill="#fff" stroke="#007F00" stroke-width="1.0" stroke-linejoin="miter"/>
<polygon points="345.8,241.3 352.1,252.2 339.5,252.2" fill="#fff" stroke="#007F00" stroke-width="1.0" stroke-linejoin="miter"/>
<polygon points="350.1,240.9 356.4,251.8 343.8,251.8" fill="#fff" stroke="#007F00" stroke-width="1.0" stroke-linejoin="miter"/>
<polygon points="354.4,240.5 360.7,251.4 348.1,251.4" fill="#fff" stroke="#007F00" stroke-width="1.0" stroke-linejoin="miter"/>
<polygon points="358.8,240.2 365.1,251.1 352.5,251.1" fill="#fff" stroke="#007F00" stroke-width="1.0" stroke-linejoin="miter"/>
<polygon points="363.1,239.9 369.4,250.8 356.8,250.8" fill="#fff" stroke="#007F00" stroke-width="1.0" stroke-linejoin="miter"/>
<polygon points="367.4,239.6 373.7,250.5 361.1,250.5" fill="#fff" stroke="#007F00" stroke-width="1.0" stroke-linejoin="miter"/>
<polygon points="371.7,239.3 378.0,250.2 365.4,250.2" fill="#fff" stroke="#007F00" stroke-width="1.0" stroke-linejoin="miter"/>
<polygon points="376.0,239.0 382.3,249.9 369.7,249.9" fill="#fff" stroke="#007F00" stroke-width="1.0" stroke-linejoin="miter"/>
<polygon points="380.3,238.7 386.6,249.6 374.0,249.6" fill="#fff" stroke="#007F00" stroke-width="1.0" stroke-linejoin="miter"/>
<polygon points="384.6,238.4 390.9,249.3 378.3,249.3" fill="#fff" stroke="#007F00" stroke-width="1.0" stroke-linejoin="miter"/>
<polygon points="388.9,238.1 395.2,249.0 382.6,249.0" fill="#fff" stroke="#007F00" stroke-width="1.0" stroke-linejoin="miter"/>
<polygon points="393.2,237.8 399.5,248.7 386.9,248.7" fill="#fff" stroke="#007F00" stroke-width="1.0" stroke-linejoin="miter"/>
<polygon points="397.6,237.5 403.9,248.4 391.3,248.4" fill="#fff" stroke="#007F00" stroke-width="1.0" stroke-linejoin="miter"/>
<polygon points="401.9,237.1 408.2,248.0 395.6,248.0" fill="#fff" stroke="#007F00" stroke-width="1.0" stroke-linejoin="miter"/>
<polygon points="406.2,236.6 412.5,247.5 399.9,247.5" fill="#fff" stroke="#007F00" stroke-width="1.0" stroke-linejoin="miter"/>
<polygon points="410.5,236.1 416.8,247.0 404.2,247.0" fill="#fff" stroke="#007F00" stroke-width="1.0" stroke-linejoin="miter"/>
<polygon points="414.8,235.5 421.1,246.4 408.5,246.4" fill="#fff" stroke="#007F00" stroke-width="1.0" stroke-linejoin="miter"/>
<polygon points="419.1,235.0 425.4,245.9 412.8,245.9" fill="#fff" stroke="#007F00" stroke-width="1.0" stroke-linejoin="miter"/>
<polygon points="423.4,234.4 429.7,245.3 417.1,245.3" fill="#fff" stroke="#007F00" stroke-width="1.0" stroke-linejoin="miter"/>
<polygon points="427.7,233.9 434.0,244.8 421.4,244.8" fill="#fff" stroke="#007F00" stroke-width="1.0" stroke-linejoin="miter"/>
<polygon points="432.1,233.4 438.4,244.3 425.8,244.3" fill="#fff" stroke="#007F00" stroke-width="1.0" stroke-linejoin="miter"/>
<polygon points="436.4,232.5 442.7,243.4 430.1,243.4" fill="#fff" stroke="#007F00" stroke-width="1.0" stroke-linejoin="miter"/>
<polygon points="440.7,231.3 447.0,242.2 434.4,242.2" fill="#fff" stroke="#007F00" stroke-width="1.0" stroke-linejoin="miter"/>
<polygon points="445.0,230.0 451.3,240.9 438.7,240.9" fill="#fff" stroke="#007F00" stroke-width="1.0" stroke-linejoin="miter"/>
<polygon points="449.3,228.7 455.6,239.6 443.0,239.6" fill="#fff" stroke="#007F00" stroke-width="1.0" stroke-linejoin="miter"/>
<polygon points="453.6,226.8 459.9,237.7 447.3,237.7" fill="#fff" stroke="#007F00" stroke-width="1.0" stroke-linejoin="miter"/>
<polygon points="457.9,224.8 464.2,235.7 451.6,235.7" fill="#fff" stroke="#007F00" stroke-width="1.0" stroke-linejoin="miter"/>
<polygon points="462.2,222.8 468.5,233.7 455.9,233.7" fill="#fff" stroke="#007F00" stroke-width="1.0" stroke-linejoin="miter"/>
<polygon points="466.5,220.1 472.8,231.0 460.2,231.0" fill="#fff" stroke="#007F00" stroke-width="1.0" stroke-linejoin="miter"/>
<polygon points="470.0,217.4 476.3,228.3 463.7,228.3" fill="#fff" stroke="#007F00" stroke-width="1.0" stroke-linejoin="miter"/>
<polygon points="474.3,213.1 480.6,224.0 468.0,224.0" fill="#fff" stroke="#007F00" stroke-width="1.0" stroke-linejoin="miter"/>
<polygon points="478.7,201.3 485.0,212.2 472.4,212.2" fill="#fff" stroke="#007F00" stroke-width="1.0" stroke-linejoin="miter"/>
<polygon points="483.0,168.0 489.3,178.9 476.7,178.9" fill="#fff" stroke="#007F00" stroke-width="1.0" stroke-linejoin="miter"/>
<polygon points="486.3,139.0 492.6,149.9 480.0,149.9" fill="#fff" stroke="#007F00" stroke-width="1.0" stroke-linejoin="miter"/>
<polygon points="490.6,115.4 496.9,126.3 484.3,126.3" fill="#fff" stroke="#007F00" stroke-width="1.0" stroke-linejoin="miter"/>
<polygon points="495.4,94.9 501.7,105.8 489.1,105.8" fill="#fff" stroke="#007F00" stroke-width="1.0" stroke-linejoin="miter"/>
<polygon points="500.4,79.4 506.7,90.3 494.1,90.3" fill="#fff" stroke="#007F00" stroke-width="1.0" stroke-linejoin="miter"/>
<polygon points="505.7,66.5 512.0,77.4 499.4,77.4" fill="#fff" stroke="#007F00" stroke-width="1.0" stroke-linejoin="miter"/>
<polygon points="511.7,56.8 518.0,67.7 505.4,67.7" fill="#fff" stroke="#007F00" stroke-width="1.0" stroke-linejoin="miter"/>
<polygon points="519.9,50.9 526.2,61.8 513.6,61.8" fill="#fff" stroke="#007F00" stroke-width="1.0" stroke-linejoin="miter"/>
<polygon points="530.1,46.9 536.4,57.8 523.8,57.8" fill="#fff" stroke="#007F00" stroke-width="1.0" stroke-linejoin="miter"/>
<polygon points="535.2,46.1 541.5,57.0 528.9,57.0" fill="#fff" stroke="#007F00" stroke-width="1.0" stroke-linejoin="miter"/>
<polygon points="539.5,45.7 545.8,56.6 533.2,56.6" fill="#fff" stroke="#007F00" stroke-width="1.0" stroke-linejoin="miter"/>
<polygon points="543.7,45.4 550.0,56.3 537.4,56.3" fill="#fff" stroke="#007F00" stroke-width="1.0" stroke-linejoin="miter"/>
<polygon points="547.9,45.0 554.2,55.9 541.6,55.9" fill="#fff" stroke="#007F00" stroke-width="1.0" stroke-linejoin="miter"/>
<polygon points="552.2,44.7 558.5,55.6 545.9,55.6" fill="#fff" stroke="#007F00" stroke-width="1.0" stroke-linejoin="miter"/>
<polygon points="556.4,44.4 562.7,55.3 550.1,55.3" fill="#fff" stroke="#007F00" stroke-width="1.0" stroke-linejoin="miter"/>
<polygon points="560.7,44.4 567.0,55.3 554.4,55.3" fill="#fff" stroke="#007F00" stroke-width="1.0" stroke-linejoin="miter"/>
<polygon points="564.9,44.3 571.2,55.2 558.6,55.2" fill="#fff" stroke="#007F00" stroke-width="1.0" stroke-linejoin="miter"/>
<polygon points="569.2,44.3 575.5,55.2 562.9,55.2" fill="#fff" stroke="#007F00" stroke-width="1.0" stroke-linejoin="miter"/>
<polygon points="573.4,44.2 579.7,55.1 567.1,55.1" fill="#fff" stroke="#007F00" stroke-width="1.0" stroke-linejoin="miter"/>
<polygon points="577.7,44.2 584.0,55.1 571.4,55.1" fill="#fff" stroke="#007F00" stroke-width="1.0" stroke-linejoin="miter"/>
<polygon points="581.9,44.1 588.2,55.0 575.6,55.0" fill="#fff" stroke="#007F00" stroke-width="1.0" stroke-linejoin="miter"/>
<polygon points="586.2,44.1 592.5,55.0 579.9,55.0" fill="#fff" stroke="#007F00" stroke-width="1.0" stroke-linejoin="miter"/>
<polygon points="590.4,44.0 596.7,54.9 584.1,54.9" fill="#fff" stroke="#007F00" stroke-width="1.0" stroke-linejoin="miter"/>
<polygon points="594.6,44.0 600.9,54.9 588.3,54.9" fill="#fff" stroke="#007F00" stroke-width="1.0" stroke-linejoin="miter"/>
<polygon points="598.9,43.9 605.2,54.8 592.6,54.8" fill="#fff" stroke="#007F00" stroke-width="1.0" stroke-linejoin="miter"/>
<polygon points="603.1,43.9 609.4,54.8 596.8,54.8" fill="#fff" stroke="#007F00" stroke-width="1.0" stroke-linejoin="miter"/>
<polygon points="607.4,43.8 613.7,54.7 601.1,54.7" fill="#fff" stroke="#007F00" stroke-width="1.0" stroke-linejoin="miter"/>
<polygon points="611.6,43.8 617.9,54.7 605.3,54.7" fill="#fff" stroke="#007F00" stroke-width="1.0" stroke-linejoin="miter"/>
<polygon points="615.9,43.7 622.2,54.6 609.6,54.6" fill="#fff" stroke="#007F00" stroke-width="1.0" stroke-linejoin="miter"/>
<polygon points="620.1,43.7 626.4,54.6 613.8,54.6" fill="#fff" stroke="#007F00" stroke-width="1.0" stroke-linejoin="miter"/>
<polygon points="624.4,43.6 630.7,54.5 618.1,54.5" fill="#fff" stroke="#007F00" stroke-width="1.0" stroke-linejoin="miter"/>
<polygon points="628.6,43.6 634.9,54.5 622.3,54.5" fill="#fff" stroke="#007F00" stroke-width="1.0" stroke-linejoin="miter"/>
<polygon points="632.9,43.5 639.2,54.4 626.6,54.4" fill="#fff" stroke="#007F00" stroke-width="1.0" stroke-linejoin="miter"/>
<polygon points="637.1,43.5 643.4,54.4 630.8,54.4" fill="#fff" stroke="#007F00" stroke-width="1.0" stroke-linejoin="miter"/>
<polygon points="641.4,43.4 647.7,54.3 635.1,54.3" fill="#fff" stroke="#007F00" stroke-width="1.0" stroke-linejoin="miter"/>
<polygon points="645.6,43.4 651.9,54.3 639.3,54.3" fill="#fff" stroke="#007F00" stroke-width="1.0" stroke-linejoin="miter"/>
<polygon points="649.8,43.3 656.1,54.2 643.5,54.2" fill="#fff" stroke="#007F00" stroke-width="1.0" stroke-linejoin="miter"/>
<polygon points="654.1,43.3 660.4,54.2 647.8,54.2" fill="#fff" stroke="#007F00" stroke-width="1.0" stroke-linejoin="miter"/>
<polygon points="658.3,43.2 664.6,54.1 652.0,54.1" fill="#fff" stroke="#007F00" stroke-width="1.0" stroke-linejoin="miter"/>
<polygon points="662.6,43.2 668.9,54.1 656.3,54.1" fill="#fff" stroke="#007F00" stroke-width="1.0" stroke-linejoin="miter"/>
<polygon points="666.8,43.1 673.1,54.0 660.5,54.0" fill="#fff" stroke="#007F00" stroke-width="1.0" stroke-linejoin="miter"/>
<polygon points="671.1,43.1 677.4,54.0 664.8,54.0" fill="#fff" stroke="#007F00" stroke-width="1.0" stroke-linejoin="miter"/>
<polygon points="675.3,43.0 681.6,53.9 669.0,53.9" fill="#fff" stroke="#007F00" stroke-width="1.0" stroke-linejoin="miter"/>
<polygon points="679.6,43.0 685.9,53.9 673.3,53.9" fill="#fff" stroke="#007F00" stroke-width="1.0" stroke-linejoin="miter"/>
<polygon points="683.8,42.9 690.1,53.8 677.5,53.8" fill="#fff" stroke="#007F00" stroke-width="1.0" stroke-linejoin="miter"/>
<polygon points="688.1,42.9 694.4,53.8 681.8,53.8" fill="#fff" stroke="#007F00" stroke-width="1.0" stroke-linejoin="miter"/>
<polygon points="692.3,42.8 698.6,53.7 686.0,53.7" fill="#fff" stroke="#007F00" stroke-width="1.0" stroke-linejoin="miter"/>
<polygon points="91.4,487.9 97.0,491.0 97.0,497.3 91.4,500.5 85.8,497.3 85.8,491.0" fill="#0000FF"/>
<polygon points="95.7,487.7 101.3,490.8 101.3,497.1 95.7,500.3 90.1,497.1 90.1,490.8" fill="#0000FF"/>
<polygon points="100.0,487.5 105.6,490.6 105.6,496.9 100.0,500.1 94.4,496.9 94.4,490.6" fill="#0000FF"/>
<polygon points="104.3,487.3 109.9,490.4 109.9,496.7 104.3,499.9 98.7,496.7 98.7,490.4" fill="#0000FF"/>
<polygon points="108.6,487.1 114.2,490.2 114.2,496.5 108.6,499.7 103.0,496.5 103.0,490.2" fill="#0000FF"/>
<polygon points="112.9,486.9 118.5,490.0 118.5,496.3 112.9,499.5 107.3,496.3 107.3,490.0" fill="#0000FF"/>
<polygon points="117.2,486.7 122.9,489.8 122.9,496.1 117.2,499.3 111.6,496.1 111.6,489.8" fill="#0000FF"/>
<polygon points="121.5,486.5 127.2,489.6 127.2,495.9 121.5,499.1 115.9,495.9 115.9,489.6" fill="#0000FF"/>
<polygon points="125.8,486.3 131.5,489.4 131.5,495.7 125.8,498.9 120.2,495.7 120.2,489.4" fill="#0000FF"/>
<polygon points="130.1,486.0 135.8,489.2 135.8,495.5 130.1,498.6 124.5,495.5 124.5,489.2" fill="#0000FF"/>
<polygon points="134.5,485.8 140.1,489.0 140.1,495.3 134.5,498.4 128.8,495.3 128.8,489.0" fill="#0000FF"/>
<polygon points="138.8,485.6 144.4,488.7 144.4,495.0 138.8,498.2 133.1,495.0 133.1,488.7" fill="#0000FF"/>
<polygon points="143.1,485.4 148.7,488.5 148.7,494.8 143.1,498.0 137.4,494.8 137.4,488.5" fill="#0000FF"/>
<polygon points="147.4,485.1 153.0,488.3 153.0,494.6 147.4,497.7 141.8,494.6 141.8,488.3" fill="#0000FF"/>
<polygon points="151.7,484.9 157.3,488.1 157.3,494.4 151.7,497.5 146.1,494.4 146.1,488.1" fill="#0000FF"/>
<polygon points="156.0,484.7 161.6,487.8 161.6,494.1 156.0,497.3 150.4,494.1 150.4,487.8" fill="#0000FF"/>
<polygon points="160.3,484.5 165.9,487.6 165.9,493.9 160.3,497.1 154.7,493.9 154.7,487.6" fill="#0000FF"/>
<polygon points="164.6,484.2 170.2,487.4 170.2,493.7 164.6,496.8 159.0,493.7 159.0,487.4" fill="#0000FF"/>
<polygon points="168.9,484.0 174.5,487.2 174.5,493.5 168.9,496.6 163.3,493.5 163.3,487.2" fill="#0000FF"/>
<polygon points="173.2,483.8 178.8,486.9 178.8,493.2 173.2,496.4 167.6,493.2 167.6,486.9" fill="#0000FF"/>
<polygon points="177.5,483.6 183.1,486.7 183.1,493.0 177.5,496.2 171.9,493.0 171.9,486.7" fill="#0000FF"/>
<polygon points="181.8,483.4 187.4,486.6 187.4,492.9 181.8,496.0 176.2,492.9 176.2,486.6" fill="#0000FF"/>
<polygon points="186.1,483.3 191.7,486.4 191.7,492.7 186.1,495.9 180.5,492.7 180.5,486.4" fill="#0000FF"/>
<polygon points="190.4,483.1 196.0,486.3 196.0,492.6 190.4,495.7 184.8,492.6 184.8,486.3" fill="#0000FF"/>
<polygon points="194.7,483.0 200.4,486.1 200.4,492.4 194.7,495.6 189.1,492.4 189.1,486.1" fill="#0000FF"/>
<polygon points="199.0,482.8 204.7,486.0 204.7,492.3 199.0,495.4 193.4,492.3 193.4,486.0" fill="#0000FF"/>
<polygon points="203.3,482.7 209.0,485.8 209.0,492.1 203.3,495.3 197.7,492.1 197.7,485.8" fill="#0000FF"/>
<polygon points="207.6,482.5 213.3,485.7 213.3,492.0 207.6,495.1 202.0,492.0 202.0,485.7" fill="#0000FF"/>
<polygon points="212.0,482.4 217.6,485.5 217.6,491.8 212.0,495.0 206.3,491.8 206.3,485.5" fill="#0000FF"/>
<polygon points="216.3,482.2 221.9,485.4 221.9,491.7 216.3,494.8 210.6,491.7 210.6,485.4" fill="#0000FF"/>
<polygon points="220.6,482.1 226.2,485.2 226.2,491.5 220.6,494.7 214.9,491.5 214.9,485.2" fill="#0000FF"/>
<polygon points="224.9,481.9 230.5,485.1 230.5,491.4 224.9,494.5 219.3,491.4 219.3,485.1" fill="#0000FF"/>
<polygon points="229.2,481.8 234.8,484.9 234.8,491.2 229.2,494.4 223.6,491.2 223.6,484.9" fill="#0000FF"/>
<polygon points="233.5,481.6 239.1,484.8 239.1,491.1 233.5,494.2 227.9,491.1 227.9,484.8" fill="#0000FF"/>
<polygon points="237.8,481.5 243.4,484.6 243.4,490.9 237.8,494.1 232.2,490.9 232.2,484.6" fill="#0000FF"/>
<polygon points="242.1,481.4 247.7,484.5 247.7,490.8 242.1,494.0 236.5,490.8 236.5,484.5" fill="#0000FF"/>
<polygon points="246.4,481.2 252.0,484.4 252.0,490.7 246.4,493.8 240.8,490.7 240.8,484.4" fill="#0000FF"/>
<polygon points="250.7,481.1 256.3,484.2 256.3,490.5 250.7,493.7 245.1,490.5 245.1,484.2" fill="#0000FF"/>
<polygon points="255.0,480.9 260.6,484.1 260.6,490.4 255.0,493.5 249.4,490.4 249.4,484.1" fill="#0000FF"/>
<polygon points="259.3,480.8 264.9,483.9 264.9,490.2 259.3,493.4 253.7,490.2 253.7,483.9" fill="#0000FF"/>
<polygon points="263.6,480.6 269.2,483.8 269.2,490.1 263.6,493.2 258.0,490.1 258.0,483.8" fill="#0000FF"/>
<polygon points="267.9,480.4 273.5,483.6 273.5,489.9 267.9,493.0 262.3,489.9 262.3,483.6" fill="#0000FF"/>
<polygon points="272.2,480.2 277.8,483.4 277.8,489.7 272.2,492.8 266.6,489.7 266.6,483.4" fill="#0000FF"/>
<polygon points="276.5,480.1 282.2,483.2 282.2,489.5 276.5,492.7 270.9,489.5 270.9,483.2" fill="#0000FF"/>
<polygon points="280.8,479.9 286.5,483.0 286.5,489.3 280.8,492.5 275.2,489.3 275.2,483.0" fill="#0000FF"/>
<polygon points="285.1,479.7 290.8,482.8 290.8,489.1 285.1,492.3 279.5,489.1 279.5,482.8" fill="#0000FF"/>
<polygon points="289.5,479.5 295.1,482.7 295.1,489.0 289.5,492.1 283.8,489.0 283.8,482.7" fill="#0000FF"/>
<polygon points="293.8,479.3 299.4,482.5 299.4,488.8 293.8,491.9 288.1,488.8 288.1,482.5" fill="#0000FF"/>
<polygon points="298.1,479.1 303.7,482.3 303.7,488.6 298.1,491.7 292.4,488.6 292.4,482.3" fill="#0000FF"/>
<polygon points="302.4,479.0 308.0,482.1 308.0,488.4 302.4,491.6 296.7,488.4 296.7,482.1" fill="#0000FF"/>
<polygon points="306.7,478.8 312.3,481.9 312.3,488.2 306.7,491.4 301.1,488.2 301.1,481.9" fill="#0000FF"/>
<polygon points="311.0,478.6 316.6,481.7 316.6,488.0 311.0,491.2 305.4,488.0 305.4,481.7" fill="#0000FF"/>
<polygon points="315.3,478.4 320.9,481.6 320.9,487.9 315.3,491.0 309.7,487.9 309.7,481.6" fill="#0000FF"/>
<polygon points="319.6,478.2 325.2,481.4 325.2,487.7 319.6,490.8 314.0,487.7 314.0,481.4" fill="#0000FF"/>
<polygon points="323.9,478.0 329.5,481.2 329.5,487.5 323.9,490.6 318.3,487.5 318.3,481.2" fill="#0000FF"/>
<polygon points="328.2,477.8 333.8,481.0 333.8,487.3 328.2,490.4 322.6,487.3 322.6,481.0" fill="#0000FF"/>
<polygon points="332.5,477.6 338.1,480.8 338.1,487.1 332.5,490.2 326.9,487.1 326.9,480.8" fill="#0000FF"/>
<polygon points="336.8,477.4 342.4,480.6 342.4,486.9 336.8,490.0 331.2,486.9 331.2,480.6" fill="#0000FF"/>
<polygon points="341.1,477.2 346.7,480.4 346.7,486.7 341.1,489.8 335.5,486.7 335.5,480.4" fill="#0000FF"/>
<polygon points="345.4,477.0 351.0,480.2 351.0,486.5 345.4,489.6 339.8,486.5 339.8,480.2" fill="#0000FF"/>
<polygon points="349.7,476.8 355.3,480.0 355.3,486.3 349.7,489.4 344.1,486.3 344.1,480.0" fill="#0000FF"/>
<polygon points="354.0,476.6 359.7,479.8 359.7,486.1 354.0,489.2 348.4,486.1 348.4,479.8" fill="#0000FF"/>
<polygon points="358.3,476.4 364.0,479.6 364.0,485.9 358.3,489.0 352.7,485.9 352.7,479.6" fill="#0000FF"/>
<polygon points="362.6,476.2 368.3,479.4 368.3,485.7 362.6,488.8 357.0,485.7 357.0,479.4" fill="#0000FF"/>
<polygon points="367.0,476.0 372.6,479.2 372.6,485.5 367.0,488.6 361.3,485.5 361.3,479.2" fill="#0000FF"/>
<polygon points="371.3,475.8 376.9,478.9 376.9,485.2 371.3,488.4 365.6,485.2 365.6,478.9" fill="#0000FF"/>
<polygon points="375.6,475.6 381.2,478.7 381.2,485.0 375.6,488.2 369.9,485.0 369.9,478.7" fill="#0000FF"/>
<polygon points="379.9,475.3 385.5,478.5 385.5,484.8 379.9,487.9 374.2,484.8 374.2,478.5" fill="#0000FF"/>
<polygon points="384.2,475.1 389.8,478.3 389.8,484.6 384.2,487.7 378.6,484.6 378.6,478.3" fill="#0000FF"/>
<polygon points="388.5,474.9 394.1,478.0 394.1,484.3 388.5,487.5 382.9,484.3 382.9,478.0" fill="#0000FF"/>
<polygon points="392.8,474.7 398.4,477.8 398.4,484.1 392.8,487.3 387.2,484.1 387.2,477.8" fill="#0000FF"/>
<polygon points="397.1,474.4 402.7,477.6 402.7,483.9 397.1,487.0 391.5,483.9 391.5,477.6" fill="#0000FF"/>
<polygon points="401.4,474.2 407.0,477.4 407.0,483.7 401.4,486.8 395.8,483.7 395.8,477.4" fill="#0000FF"/>
<polygon points="405.7,474.0 411.3,477.1 411.3,483.4 405.7,486.6 400.1,483.4 400.1,477.1" fill="#0000FF"/>
<polygon points="410.0,473.8 415.6,476.9 415.6,483.2 410.0,486.4 404.4,483.2 404.4,476.9" fill="#0000FF"/>
<polygon points="414.3,473.5 419.9,476.7 419.9,483.0 414.3,486.1 408.7,483.0 408.7,476.7" fill="#0000FF"/>
<polygon points="418.6,473.3 424.2,476.5 424.2,482.8 418.6,485.9 413.0,482.8 413.0,476.5" fill="#0000FF"/>
<polygon points="422.9,473.0 428.5,476.2 428.5,482.5 422.9,485.6 417.3,482.5 417.3,476.2" fill="#0000FF"/>
<polygon points="427.2,472.8 432.8,475.9 432.8,482.2 427.2,485.4 421.6,482.2 421.6,475.9" fill="#0000FF"/>
<polygon points="431.5,472.5 437.2,475.7 437.2,482.0 431.5,485.1 425.9,482.0 425.9,475.7" fill="#0000FF"/>
<polygon points="435.8,472.2 441.5,475.4 441.5,481.7 435.8,484.8 430.2,481.7 430.2,475.4" fill="#0000FF"/>
<polygon points="440.1,472.0 445.8,475.1 445.8,481.4 440.1,484.6 434.5,481.4 434.5,475.1" fill="#0000FF"/>
<polygon points="444.4,471.7 450.1,474.8 450.1,481.1 444.4,484.3 438.8,481.1 438.8,474.8" fill="#0000FF"/>
<polygon points="448.8,471.4 454.4,474.6 454.4,480.9 448.8,484.0 443.1,480.9 443.1,474.6" fill="#0000FF"/>
<polygon points="453.1,471.2 458.7,474.3 458.7,480.6 453.1,483.8 447.4,480.6 447.4,474.3" fill="#0000FF"/>
<polygon points="457.4,470.9 463.0,474.0 463.0,480.3 457.4,483.5 451.7,480.3 451.7,474.0" fill="#0000FF"/>
<polygon points="461.7,470.6 467.3,473.8 467.3,480.1 461.7,483.2 456.1,480.1 456.1,473.8" fill="#0000FF"/>
<polygon points="466.0,470.3 471.6,473.5 471.6,479.8 466.0,482.9 460.4,479.8 460.4,473.5" fill="#0000FF"/>
<polygon points="470.3,470.0 475.9,473.1 475.9,479.4 470.3,482.6 464.7,479.4 464.7,473.1" fill="#0000FF"/>
<polygon points="474.6,469.4 480.2,472.5 480.2,478.8 474.6,482.0 469.0,478.8 469.0,472.5" fill="#0000FF"/>
<polygon points="478.9,468.8 484.5,471.9 484.5,478.2 478.9,481.4 473.3,478.2 473.3,471.9" fill="#0000FF"/>
<polygon points="483.2,468.2 488.8,471.3 488.8,477.6 483.2,480.8 477.6,477.6 477.6,471.3" fill="#0000FF"/>
<polygon points="487.5,467.6 493.1,470.7 493.1,477.0 487.5,480.2 481.9,477.0 481.9,470.7" fill="#0000FF"/>
<polygon points="491.8,467.0 497.4,470.1 497.4,476.4 491.8,479.6 486.2,476.4 486.2,470.1" fill="#0000FF"/>
<polygon points="496.1,466.4 501.7,469.5 501.7,475.8 496.1,479.0 490.5,475.8 490.5,469.5" fill="#0000FF"/>
<polygon points="500.4,465.7 506.0,468.9 506.0,475.2 500.4,478.3 494.8,475.2 494.8,468.9" fill="#0000FF"/>
<polygon points="504.7,464.8 510.3,468.0 510.3,474.3 504.7,477.4 499.1,474.3 499.1,468.0" fill="#0000FF"/>
<polygon points="509.0,463.2 514.7,466.3 514.7,472.6 509.0,475.8 503.4,472.6 503.4,466.3" fill="#0000FF"/>
<polygon points="513.3,461.6 519.0,464.7 519.0,471.0 513.3,474.2 507.7,471.0 507.7,464.7" fill="#0000FF"/>
<polygon points="517.6,459.1 523.3,462.2 523.3,468.5 517.6,471.7 512.0,468.5 512.0,462.2" fill="#0000FF"/>
<polygon points="521.9,455.0 527.6,458.1 527.6,464.4 521.9,467.6 516.3,464.4 516.3,458.1" fill="#0000FF"/>
<polygon points="526.3,450.7 531.9,453.9 531.9,460.2 526.3,463.3 520.6,460.2 520.6,453.9" fill="#0000FF"/>
<polygon points="530.6,445.1 536.2,448.3 536.2,454.6 530.6,457.7 524.9,454.6 524.9,448.3" fill="#0000FF"/>
<polygon points="534.9,439.5 540.5,442.7 540.5,449.0 534.9,452.1 529.2,449.0 529.2,442.7" fill="#0000FF"/>
<polygon points="538.1,287.2 543.7,290.4 543.7,296.7 538.1,299.8 532.5,296.7 532.5,290.4" fill="#0000FF"/>
<polygon points="543.3,215.0 548.9,218.1 548.9,224.4 543.3,227.6 537.7,224.4 537.7,218.1" fill="#0000FF"/>
<polygon points="547.2,147.6 552.8,150.7 552.8,157.0 547.2,160.2 541.6,157.0 541.6,150.7" fill="#0000FF"/>
<polygon points="551.3,111.8 557.0,115.0 557.0,121.3 551.3,124.4 545.7,121.3 545.7,115.0" fill="#0000FF"/>
<polygon points="556.7,87.7 562.3,90.8 562.3,97.1 556.7,100.3 551.0,97.1 551.0,90.8" fill="#0000FF"/>
<polygon points="561.5,77.4 567.1,80.6 567.1,86.9 561.5,90.0 555.9,86.9 555.9,80.6" fill="#0000FF"/>
<polygon points="565.8,69.4 571.4,72.5 571.4,78.8 565.8,82.0 560.1,78.8 560.1,72.5" fill="#0000FF"/>
<polygon points="570.4,61.9 576.0,65.0 576.0,71.3 570.4,74.5 564.8,71.3 564.8,65.0" fill="#0000FF"/>
<polygon points="574.7,56.0 580.3,59.1 580.3,65.4 574.7,68.6 569.1,65.4 569.1,59.1" fill="#0000FF"/>
<polygon points="579.0,52.2 584.6,55.3 584.6,61.6 579.0,64.8 573.4,61.6 573.4,55.3" fill="#0000FF"/>
<polygon points="583.3,49.5 588.9,52.7 588.9,59.0 583.3,62.1 577.7,59.0 577.7,52.7" fill="#0000FF"/>
<polygon points="587.6,47.3 593.3,50.5 593.3,56.8 587.6,59.9 582.0,56.8 582.0,50.5" fill="#0000FF"/>
<polygon points="592.0,46.7 597.6,49.8 597.6,56.1 592.0,59.3 586.4,56.1 586.4,49.8" fill="#0000FF"/>
<polygon points="596.4,46.2 602.0,49.3 602.0,55.6 596.4,58.8 590.7,55.6 590.7,49.3" fill="#0000FF"/>
<polygon points="600.7,46.0 606.3,49.2 606.3,55.5 600.7,58.6 595.1,55.5 595.1,49.2" fill="#0000FF"/>
<polygon points="605.1,45.8 610.7,49.0 610.7,55.3 605.1,58.4 599.5,55.3 599.5,49.0" fill="#0000FF"/>
<polygon points="609.4,45.7 615.1,48.8 615.1,55.1 609.4,58.3 603.8,55.1 603.8,48.8" fill="#0000FF"/>
<polygon points="613.8,45.6 619.4,48.8 619.4,55.1 613.8,58.2 608.2,55.1 608.2,48.8" fill="#0000FF"/>
<polygon points="618.2,45.5 623.8,48.7 623.8,55.0 618.2,58.1 612.5,55.0 612.5,48.7" fill="#0000FF"/>
<polygon points="622.5,45.4 628.1,48.6 628.1,54.9 622.5,58.0 616.9,54.9 616.9,48.6" fill="#0000FF"/>
<polygon points="626.9,45.4 632.5,48.5 632.5,54.8 626.9,58.0 621.3,54.8 621.3,48.5" fill="#0000FF"/>
<polygon points="631.2,45.3 636.9,48.4 636.9,54.7 631.2,57.9 625.6,54.7 625.6,48.4" fill="#0000FF"/>
<polygon points="635.6,45.2 641.2,48.3 641.2,54.6 635.6,57.8 630.0,54.6 630.0,48.3" fill="#0000FF"/>
<polygon points="640.0,45.1 645.6,48.3 645.6,54.6 640.0,57.7 634.4,54.6 634.4,48.3" fill="#0000FF"/>
<polygon points="644.3,45.0 650.0,48.2 650.0,54.5 644.3,57.6 638.7,54.5 638.7,48.2" fill="#0000FF"/>
<polygon points="648.7,45.0 654.3,48.1 654.3,54.4 648.7,57.6 643.1,54.4 643.1,48.1" fill="#0000FF"/>
<polygon points="653.1,44.9 658.7,48.0 658.7,54.3 653.1,57.5 647.4,54.3 647.4,48.0" fill="#0000FF"/>
<polygon points="657.4,44.8 663.0,47.9 663.0,54.2 657.4,57.4 651.8,54.2 651.8,47.9" fill="#0000FF"/>
<polygon points="661.8,44.7 667.4,47.9 667.4,54.2 661.8,57.3 656.2,54.2 656.2,47.9" fill="#0000FF"/>
<polygon points="666.1,44.6 671.8,47.8 671.8,54.1 666.1,57.2 660.5,54.1 660.5,47.8" fill="#0000FF"/>
<polygon points="670.5,44.5 676.1,47.7 676.1,54.0 670.5,57.1 664.9,54.0 664.9,47.7" fill="#0000FF"/>
<polygon points="674.9,44.5 680.5,47.6 680.5,53.9 674.9,57.1 669.2,53.9 669.2,47.6" fill="#0000FF"/>
<polygon points="679.2,44.4 684.8,47.5 684.8,53.8 679.2,57.0 673.6,53.8 673.6,47.5" fill="#0000FF"/>
<polygon points="683.6,44.3 689.2,47.4 689.2,53.7 683.6,56.9 678.0,53.7 678.0,47.4" fill="#0000FF"/>
<polygon points="687.9,44.2 693.6,47.4 693.6,53.7 687.9,56.8 682.3,53.7 682.3,47.4" fill="#0000FF"/>
<polygon points="692.3,44.1 697.9,47.3 697.9,53.6 692.3,56.7 686.7,53.6 686.7,47.3" fill="#0000FF"/>
<polygon points="91.4,255.0 96.8,258.0 96.8,264.1 91.4,267.1 86.0,264.1 86.0,258.0" fill="#fff" stroke="#0000FF" stroke-width="1.0" stroke-linejoin="miter"/>
<polygon points="95.7,255.0 101.1,258.1 101.1,264.1 95.7,267.1 90.3,264.1 90.3,258.1" fill="#fff" stroke="#0000FF" stroke-width="1.0" stroke-linejoin="miter"/>
<polygon points="100.0,255.1 105.4,258.1 105.4,264.2 100.0,267.2 94.6,264.2 94.6,258.1" fill="#fff" stroke="#0000FF" stroke-width="1.0" stroke-linejoin="miter"/>
<polygon points="104.3,255.1 109.7,258.2 109.7,264.2 104.3,267.2 98.9,264.2 98.9,258.2" fill="#fff" stroke="#0000FF" stroke-width="1.0" stroke-linejoin="miter"/>
<polygon points="108.6,255.2 114.0,258.2 114.0,264.3 108.6,267.3 103.2,264.3 103.2,258.2" fill="#fff" stroke="#0000FF" stroke-width="1.0" stroke-linejoin="miter"/>
<polygon points="112.9,255.2 118.3,258.3 118.3,264.3 112.9,267.3 107.5,264.3 107.5,258.3" fill="#fff" stroke="#0000FF" stroke-width="1.0" stroke-linejoin="miter"/>
<polygon points="117.2,255.3 122.6,258.3 122.6,264.4 117.2,267.4 111.8,264.4 111.8,258.3" fill="#fff" stroke="#0000FF" stroke-width="1.0" stroke-linejoin="miter"/>
<polygon points="121.5,255.4 126.9,258.4 126.9,264.4 121.5,267.5 116.1,264.4 116.1,258.4" fill="#fff" stroke="#0000FF" stroke-width="1.0" stroke-linejoin="miter"/>
<polygon points="125.8,255.4 131.2,258.4 131.2,264.5 125.8,267.5 120.4,264.5 120.4,258.4" fill="#fff" stroke="#0000FF" stroke-width="1.0" stroke-linejoin="miter"/>
<polygon points="130.1,255.5 135.5,258.5 135.5,264.5 130.1,267.6 124.7,264.5 124.7,258.5" fill="#fff" stroke="#0000FF" stroke-width="1.0" stroke-linejoin="miter"/>
<polygon points="134.4,255.5 139.8,258.5 139.8,264.6 134.4,267.6 129.0,264.6 129.0,258.5" fill="#fff" stroke="#0000FF" stroke-width="1.0" stroke-linejoin="miter"/>
<polygon points="138.7,255.2 144.1,258.2 144.1,264.2 138.7,267.3 133.3,264.2 133.3,258.2" fill="#fff" stroke="#0000FF" stroke-width="1.0" stroke-linejoin="miter"/>
<polygon points="143.0,254.8 148.4,257.8 148.4,263.9 143.0,266.9 137.6,263.9 137.6,257.8" fill="#fff" stroke="#0000FF" stroke-width="1.0" stroke-linejoin="miter"/>
<polygon points="147.3,254.4 152.7,257.5 152.7,263.5 147.3,266.5 141.9,263.5 141.9,257.5" fill="#fff" stroke="#0000FF" stroke-width="1.0" stroke-linejoin="miter"/>
<polygon points="151.6,254.1 157.0,257.1 157.0,263.2 151.6,266.2 146.2,263.2 146.2,257.1" fill="#fff" stroke="#0000FF" stroke-width="1.0" stroke-linejoin="miter"/>
<polygon points="155.9,253.7 161.3,256.8 161.3,262.8 155.9,265.8 150.5,262.8 150.5,256.8" fill="#fff" stroke="#0000FF" stroke-width="1.0" stroke-linejoin="miter"/>
<polygon points="160.2,253.4 165.6,256.4 165.6,262.5 160.2,265.5 154.8,262.5 154.8,256.4" fill="#fff" stroke="#0000FF" stroke-width="1.0" stroke-linejoin="miter"/>
<polygon points="164.5,253.0 169.9,256.1 169.9,262.1 164.5,265.1 159.1,262.1 159.1,256.1" fill="#fff" stroke="#0000FF" stroke-width="1.0" stroke-linejoin="miter"/>
<polygon points="168.8,252.8 174.2,255.8 174.2,261.9 168.8,264.9 163.4,261.9 163.4,255.8" fill="#fff" stroke="#0000FF" stroke-width="1.0" stroke-linejoin="miter"/>
<polygon points="173.1,252.7 178.5,255.7 178.5,261.7 173.1,264.8 167.7,261.7 167.7,255.7" fill="#fff" stroke="#0000FF" stroke-width="1.0" stroke-linejoin="miter"/>
<polygon points="177.4,252.5 182.8,255.6 182.8,261.6 177.4,264.6 172.0,261.6 172.0,255.6" fill="#fff" stroke="#0000FF" stroke-width="1.0" stroke-linejoin="miter"/>
<polygon points="181.7,252.4 187.1,255.5 187.1,261.5 181.7,264.5 176.3,261.5 176.3,255.5" fill="#fff" stroke="#0000FF" stroke-width="1.0" stroke-linejoin="miter"/>
<polygon points="186.0,252.3 191.4,255.3 191.4,261.4 186.0,264.4 180.6,261.4 180.6,255.3" fill="#fff" stroke="#0000FF" stroke-width="1.0" stroke-linejoin="miter"/>
<polygon points="190.3,252.2 195.7,255.2 195.7,261.3 190.3,264.3 184.9,261.3 184.9,255.2" fill="#fff" stroke="#0000FF" stroke-width="1.0" stroke-linejoin="miter"/>
<polygon points="194.6,252.1 200.0,255.1 200.0,261.2 194.6,264.2 189.2,261.2 189.2,255.1" fill="#fff" stroke="#0000FF" stroke-width="1.0" stroke-linejoin="miter"/>
<polygon points="198.9,252.0 204.3,255.0 204.3,261.0 198.9,264.1 193.5,261.0 193.5,255.0" fill="#fff" stroke="#0000FF" stroke-width="1.0" stroke-linejoin="miter"/>
<polygon points="203.2,251.8 208.6,254.9 208.6,260.9 203.2,263.9 197.8,260.9 197.8,254.9" fill="#fff" stroke="#0000FF" stroke-width="1.0" stroke-linejoin="miter"/>
<polygon points="207.5,251.7 212.9,254.7 212.9,260.7 207.5,263.8 202.1,260.7 202.1,254.7" fill="#fff" stroke="#0000FF" stroke-width="1.0" stroke-linejoin="miter"/>
<polygon points="211.8,251.3 217.2,254.3 217.2,260.4 211.8,263.4 206.4,260.4 206.4,254.3" fill="#fff" stroke="#0000FF" stroke-width="1.0" stroke-linejoin="miter"/>
<polygon points="216.1,250.9 221.5,253.9 221.5,260.0 216.1,263.0 210.7,260.0 210.7,253.9" fill="#fff" stroke="#0000FF" stroke-width="1.0" stroke-linejoin="miter"/>
<polygon points="220.4,250.5 225.8,253.6 225.8,259.6 220.4,262.6 215.0,259.6 215.0,253.6" fill="#fff" stroke="#0000FF" stroke-width="1.0" stroke-linejoin="miter"/>
<polygon points="224.7,250.2 230.1,253.3 230.1,259.3 224.7,262.3 219.3,259.3 219.3,253.3" fill="#fff" stroke="#0000FF" stroke-width="1.0" stroke-linejoin="miter"/>
<polygon points="229.0,249.9 234.4,252.9 234.4,259.0 229.0,262.0 223.6,259.0 223.6,252.9" fill="#fff" stroke="#0000FF" stroke-width="1.0" stroke-linejoin="miter"/>
<polygon points="233.3,249.6 238.7,252.6 238.7,258.7 233.3,261.7 227.9,258.7 227.9,252.6" fill="#fff" stroke="#0000FF" stroke-width="1.0" stroke-linejoin="miter"/>
<polygon points="237.6,249.3 243.0,252.3 243.0,258.4 237.6,261.4 232.2,258.4 232.2,252.3" fill="#fff" stroke="#0000FF" stroke-width="1.0" stroke-linejoin="miter"/>
<polygon points="241.9,249.0 247.3,252.0 247.3,258.1 241.9,261.1 236.5,258.1 236.5,252.0" fill="#fff" stroke="#0000FF" stroke-width="1.0" stroke-linejoin="miter"/>
<polygon points="246.2,248.7 251.6,251.7 251.6,257.8 246.2,260.8 240.8,257.8 240.8,251.7" fill="#fff" stroke="#0000FF" stroke-width="1.0" stroke-linejoin="miter"/>
<polygon points="250.5,248.4 255.9,251.4 255.9,257.4 250.5,260.5 245.1,257.4 245.1,251.4" fill="#fff" stroke="#0000FF" stroke-width="1.0" stroke-linejoin="miter"/>
<polygon points="254.8,248.1 260.2,251.1 260.2,257.1 254.8,260.2 249.4,257.1 249.4,251.1" fill="#fff" stroke="#0000FF" stroke-width="1.0" stroke-linejoin="miter"/>
<polygon points="259.1,247.7 264.5,250.8 264.5,256.8 259.1,259.8 253.7,256.8 253.7,250.8" fill="#fff" stroke="#0000FF" stroke-width="1.0" stroke-linejoin="miter"/>
<polygon points="263.4,247.5 268.8,250.5 268.8,256.5 263.4,259.6 258.0,256.5 258.0,250.5" fill="#fff" stroke="#0000FF" stroke-width="1.0" stroke-linejoin="miter"/>
<polygon points="267.7,247.4 273.1,250.4 273.1,256.5 267.7,259.5 262.3,256.5 262.3,250.4" fill="#fff" stroke="#0000FF" stroke-width="1.0" stroke-linejoin="miter"/>
<polygon points="272.0,247.3 277.4,250.3 277.4,256.4 272.0,259.4 266.6,256.4 266.6,250.3" fill="#fff" stroke="#0000FF" stroke-width="1.0" stroke-linejoin="miter"/>
<polygon points="276.3,247.2 281.7,250.3 281.7,256.3 276.3,259.3 270.9,256.3 270.9,250.3" fill="#fff" stroke="#0000FF" stroke-width="1.0" stroke-linejoin="miter"/>
<polygon points="280.6,247.2 286.0,250.2 286.0,256.3 280.6,259.3 275.2,256.3 275.2,250.2" fill="#fff" stroke="#0000FF" stroke-width="1.0" stroke-linejoin="miter"/>
<polygon points="284.9,247.1 290.3,250.1 290.3,256.2 284.9,259.2 279.5,256.2 279.5,250.1" fill="#fff" stroke="#0000FF" stroke-width="1.0" stroke-linejoin="miter"/>
<polygon points="289.2,247.0 294.6,250.1 294.6,256.1 289.2,259.1 283.8,256.1 283.8,250.1" fill="#fff" stroke="#0000FF" stroke-width="1.0" stroke-linejoin="miter"/>
<polygon points="293.5,247.0 298.9,250.0 298.9,256.1 293.5,259.1 288.1,256.1 288.1,250.0" fill="#fff" stroke="#0000FF" stroke-width="1.0" stroke-linejoin="miter"/>
<polygon points="297.8,246.9 303.1,249.9 303.1,256.0 297.8,259.0 292.4,256.0 292.4,249.9" fill="#fff" stroke="#0000FF" stroke-width="1.0" stroke-linejoin="miter"/>
<polygon points="302.1,246.8 307.4,249.9 307.4,255.9 302.1,258.9 296.7,255.9 296.7,249.9" fill="#fff" stroke="#0000FF" stroke-width="1.0" stroke-linejoin="miter"/>
<polygon points="306.4,246.8 311.7,249.8 311.7,255.9 306.4,258.9 301.0,255.9 301.0,249.8" fill="#fff" stroke="#0000FF" stroke-width="1.0" stroke-linejoin="miter"/>
<polygon points="310.6,246.7 316.0,249.7 316.0,255.8 310.6,258.8 305.3,255.8 305.3,249.7" fill="#fff" stroke="#0000FF" stroke-width="1.0" stroke-linejoin="miter"/>
<polygon points="314.9,246.6 320.3,249.7 320.3,255.7 314.9,258.7 309.6,255.7 309.6,249.7" fill="#fff" stroke="#0000FF" stroke-width="1.0" stroke-linejoin="miter"/>
<polygon points="319.2,246.6 324.6,249.6 324.6,255.7 319.2,258.7 313.9,255.7 313.9,249.6" fill="#fff" stroke="#0000FF" stroke-width="1.0" stroke-linejoin="miter"/>
<polygon points="323.5,246.5 328.9,249.5 328.9,255.6 323.5,258.6 318.1,255.6 318.1,249.5" fill="#fff" stroke="#0000FF" stroke-width="1.0" stroke-linejoin="miter"/>
<polygon points="327.8,246.4 333.2,249.5 333.2,255.5 327.8,258.5 322.4,255.5 322.4,249.5" fill="#fff" stroke="#0000FF" stroke-width="1.0" stroke-linejoin="miter"/>
<polygon points="332.1,246.4 337.5,249.4 337.5,255.4 332.1,258.5 326.7,255.4 326.7,249.4" fill="#fff" stroke="#0000FF" stroke-width="1.0" stroke-linejoin="miter"/>
<polygon points="336.4,246.2 341.8,249.2 341.8,255.3 336.4,258.3 331.0,255.3 331.0,249.2" fill="#fff" stroke="#0000FF" stroke-width="1.0" stroke-linejoin="miter"/>
<polygon points="340.7,246.0 346.1,249.1 346.1,255.1 340.7,258.1 335.3,255.1 335.3,249.1" fill="#fff" stroke="#0000FF" stroke-width="1.0" stroke-linejoin="miter"/>
<polygon points="345.0,245.9 350.4,248.9 350.4,255.0 345.0,258.0 339.6,255.0 339.6,248.9" fill="#fff" stroke="#0000FF" stroke-width="1.0" stroke-linejoin="miter"/>
<polygon points="349.3,245.7 354.7,248.7 354.7,254.8 349.3,257.8 343.9,254.8 343.9,248.7" fill="#fff" stroke="#0000FF" stroke-width="1.0" stroke-linejoin="miter"/>
<polygon points="353.6,245.6 359.0,248.6 359.0,254.6 353.6,257.7 348.2,254.6 348.2,248.6" fill="#fff" stroke="#0000FF" stroke-width="1.0" stroke-linejoin="miter"/>
<polygon points="357.9,245.4 363.3,248.4 363.3,254.5 357.9,257.5 352.5,254.5 352.5,248.4" fill="#fff" stroke="#0000FF" stroke-width="1.0" stroke-linejoin="miter"/>
<polygon points="362.2,245.2 367.6,248.3 367.6,254.3 362.2,257.3 356.8,254.3 356.8,248.3" fill="#fff" stroke="#0000FF" stroke-width="1.0" stroke-linejoin="miter"/>
<polygon points="366.5,245.1 371.9,248.1 371.9,254.2 366.5,257.2 361.1,254.2 361.1,248.1" fill="#fff" stroke="#0000FF" stroke-width="1.0" stroke-linejoin="miter"/>
<polygon points="370.8,244.9 376.2,247.9 376.2,254.0 370.8,257.0 365.4,254.0 365.4,247.9" fill="#fff" stroke="#0000FF" stroke-width="1.0" stroke-linejoin="miter"/>
<polygon points="375.1,244.7 380.5,247.8 380.5,253.8 375.1,256.8 369.7,253.8 369.7,247.8" fill="#fff" stroke="#0000FF" stroke-width="1.0" stroke-linejoin="miter"/>
<polygon points="379.4,244.5 384.8,247.5 384.8,253.5 379.4,256.6 374.0,253.5 374.0,247.5" fill="#fff" stroke="#0000FF" stroke-width="1.0" stroke-linejoin="miter"/>
<polygon points="383.7,244.2 389.1,247.2 389.1,253.3 383.7,256.3 378.3,253.3 378.3,247.2" fill="#fff" stroke="#0000FF" stroke-width="1.0" stroke-linejoin="miter"/>
<polygon points="388.0,243.9 393.4,247.0 393.4,253.0 388.0,256.0 382.6,253.0 382.6,247.0" fill="#fff" stroke="#0000FF" stroke-width="1.0" stroke-linejoin="miter"/>
<polygon points="392.3,243.7 397.7,246.7 397.7,252.7 392.3,255.8 386.9,252.7 386.9,246.7" fill="#fff" stroke="#0000FF" stroke-width="1.0" stroke-linejoin="miter"/>
<polygon points="396.6,243.4 402.0,246.4 402.0,252.5 396.6,255.5 391.2,252.5 391.2,246.4" fill="#fff" stroke="#0000FF" stroke-width="1.0" stroke-linejoin="miter"/>
<polygon points="400.9,243.1 406.3,246.1 406.3,252.2 400.9,255.2 395.5,252.2 395.5,246.1" fill="#fff" stroke="#0000FF" stroke-width="1.0" stroke-linejoin="miter"/>
<polygon points="405.2,242.7 410.6,245.7 410.6,251.8 405.2,254.8 399.8,251.8 399.8,245.7" fill="#fff" stroke="#0000FF" stroke-width="1.0" stroke-linejoin="miter"/>
<polygon points="409.5,242.3 414.9,245.3 414.9,251.4 409.5,254.4 404.1,251.4 404.1,245.3" fill="#fff" stroke="#0000FF" stroke-width="1.0" stroke-linejoin="miter"/>
<polygon points="413.8,241.9 419.2,244.9 419.2,251.0 413.8,254.0 408.4,251.0 408.4,244.9" fill="#fff" stroke="#0000FF" stroke-width="1.0" stroke-linejoin="miter"/>
<polygon points="418.1,241.5 423.5,244.5 423.5,250.6 418.1,253.6 412.7,250.6 412.7,244.5" fill="#fff" stroke="#0000FF" stroke-width="1.0" stroke-linejoin="miter"/>
<polygon points="422.4,241.1 427.8,244.1 427.8,250.2 422.4,253.2 417.0,250.2 417.0,244.1" fill="#fff" stroke="#0000FF" stroke-width="1.0" stroke-linejoin="miter"/>
<polygon points="426.7,240.7 432.1,243.7 432.1,249.8 426.7,252.8 421.3,249.8 421.3,243.7" fill="#fff" stroke="#0000FF" stroke-width="1.0" stroke-linejoin="miter"/>
<polygon points="431.0,240.3 436.4,243.3 436.4,249.4 431.0,252.4 425.6,249.4 425.6,243.3" fill="#fff" stroke="#0000FF" stroke-width="1.0" stroke-linejoin="miter"/>
<polygon points="435.3,239.9 440.7,242.9 440.7,249.0 435.3,252.0 429.9,249.0 429.9,242.9" fill="#fff" stroke="#0000FF" stroke-width="1.0" stroke-linejoin="miter"/>
<polygon points="439.6,239.5 445.0,242.5 445.0,248.6 439.6,251.6 434.2,248.6 434.2,242.5" fill="#fff" stroke="#0000FF" stroke-width="1.0" stroke-linejoin="miter"/>
<polygon points="443.9,239.1 449.3,242.1 449.3,248.2 443.9,251.2 438.5,248.2 438.5,242.1" fill="#fff" stroke="#0000FF" stroke-width="1.0" stroke-linejoin="miter"/>
<polygon points="448.2,238.7 453.6,241.7 453.6,247.7 448.2,250.8 442.8,247.7 442.8,241.7" fill="#fff" stroke="#0000FF" stroke-width="1.0" stroke-linejoin="miter"/>
<polygon points="452.5,238.3 457.9,241.3 457.9,247.3 452.5,250.4 447.1,247.3 447.1,241.3" fill="#fff" stroke="#0000FF" stroke-width="1.0" stroke-linejoin="miter"/>
<polygon points="456.8,237.9 462.2,240.9 462.2,246.9 456.8,250.0 451.4,246.9 451.4,240.9" fill="#fff" stroke="#0000FF" stroke-width="1.0" stroke-linejoin="miter"/>
<polygon points="461.1,237.5 466.5,240.5 466.5,246.5 461.1,249.6 455.7,246.5 455.7,240.5" fill="#fff" stroke="#0000FF" stroke-width="1.0" stroke-linejoin="miter"/>
<polygon points="465.4,237.1 470.8,240.1 470.8,246.1 465.4,249.2 460.0,246.1 460.0,240.1" fill="#fff" stroke="#0000FF" stroke-width="1.0" stroke-linejoin="miter"/>
<polygon points="469.7,236.6 475.1,239.6 475.1,245.7 469.7,248.7 464.3,245.7 464.3,239.6" fill="#fff" stroke="#0000FF" stroke-width="1.0" stroke-linejoin="miter"/>
<polygon points="474.0,235.6 479.4,238.7 479.4,244.7 474.0,247.7 468.6,244.7 468.6,238.7" fill="#fff" stroke="#0000FF" stroke-width="1.0" stroke-linejoin="miter"/>
<polygon points="478.3,234.7 483.7,237.7 483.7,243.8 478.3,246.8 472.9,243.8 472.9,237.7" fill="#fff" stroke="#0000FF" stroke-width="1.0" stroke-linejoin="miter"/>
<polygon points="482.6,233.8 488.0,236.8 488.0,242.9 482.6,245.9 477.2,242.9 477.2,236.8" fill="#fff" stroke="#0000FF" stroke-width="1.0" stroke-linejoin="miter"/>
<polygon points="486.9,232.9 492.3,235.9 492.3,241.9 486.9,245.0 481.5,241.9 481.5,235.9" fill="#fff" stroke="#0000FF" stroke-width="1.0" stroke-linejoin="miter"/>
<polygon points="491.2,231.9 496.6,234.9 496.6,241.0 491.2,244.0 485.8,241.0 485.8,234.9" fill="#fff" stroke="#0000FF" stroke-width="1.0" stroke-linejoin="miter"/>
<polygon points="495.5,230.6 500.9,233.6 500.9,239.7 495.5,242.7 490.1,239.7 490.1,233.6" fill="#fff" stroke="#0000FF" stroke-width="1.0" stroke-linejoin="miter"/>
<polygon points="499.8,229.3 505.2,232.3 505.2,238.3 499.8,241.4 494.4,238.3 494.4,232.3" fill="#fff" stroke="#0000FF" stroke-width="1.0" stroke-linejoin="miter"/>
<polygon points="504.1,227.9 509.5,230.9 509.5,237.0 504.1,240.0 498.7,237.0 498.7,230.9" fill="#fff" stroke="#0000FF" stroke-width="1.0" stroke-linejoin="miter"/>
<polygon points="508.4,226.6 513.8,229.6 513.8,235.6 508.4,238.7 503.0,235.6 503.0,229.6" fill="#fff" stroke="#0000FF" stroke-width="1.0" stroke-linejoin="miter"/>
<polygon points="512.7,225.1 518.1,228.1 518.1,234.2 512.7,237.2 507.3,234.2 507.3,228.1" fill="#fff" stroke="#0000FF" stroke-width="1.0" stroke-linejoin="miter"/>
<polygon points="517.0,223.1 522.4,226.1 522.4,232.2 517.0,235.2 511.6,232.2 511.6,226.1" fill="#fff" stroke="#0000FF" stroke-width="1.0" stroke-linejoin="miter"/>
<polygon points="521.3,221.1 526.7,224.2 526.7,230.2 521.3,233.2 515.9,230.2 515.9,224.2" fill="#fff" stroke="#0000FF" stroke-width="1.0" stroke-linejoin="miter"/>
<polygon points="527.5,215.8 532.9,218.8 532.9,224.8 527.5,227.9 522.1,224.8 522.1,218.8" fill="#fff" stroke="#0000FF" stroke-width="1.0" stroke-linejoin="miter"/>
<polygon points="533.5,208.8 538.9,211.8 538.9,217.9 533.5,220.9 528.1,217.9 528.1,211.8" fill="#fff" stroke="#0000FF" stroke-width="1.0" stroke-linejoin="miter"/>
<polygon points="538.1,199.6 543.5,202.7 543.5,208.7 538.1,211.7 532.7,208.7 532.7,202.7" fill="#fff" stroke="#0000FF" stroke-width="1.0" stroke-linejoin="miter"/>
<polygon points="542.6,176.0 548.0,179.0 548.0,185.1 542.6,188.1 537.2,185.1 537.2,179.0" fill="#fff" stroke="#0000FF" stroke-width="1.0" stroke-linejoin="miter"/>
<polygon points="547.4,130.0 552.8,133.0 552.8,139.1 547.4,142.1 542.0,139.1 542.0,133.0" fill="#fff" stroke="#0000FF" stroke-width="1.0" stroke-linejoin="miter"/>
<polygon points="551.3,100.3 556.7,103.3 556.7,109.3 551.3,112.4 545.9,109.3 545.9,103.3" fill="#fff" stroke="#0000FF" stroke-width="1.0" stroke-linejoin="miter"/>
<polygon points="555.8,84.1 561.2,87.2 561.2,93.2 555.8,96.2 550.4,93.2 550.4,87.2" fill="#fff" stroke="#0000FF" stroke-width="1.0" stroke-linejoin="miter"/>
<polygon points="561.1,74.5 566.5,77.5 566.5,83.5 561.1,86.6 555.7,83.5 555.7,77.5" fill="#fff" stroke="#0000FF" stroke-width="1.0" stroke-linejoin="miter"/>
<polygon points="565.1,65.9 570.5,68.9 570.5,74.9 565.1,78.0 559.7,74.9 559.7,68.9" fill="#fff" stroke="#0000FF" stroke-width="1.0" stroke-linejoin="miter"/>
<polygon points="569.5,58.4 574.9,61.4 574.9,67.4 569.5,70.5 564.1,67.4 564.1,61.4" fill="#fff" stroke="#0000FF" stroke-width="1.0" stroke-linejoin="miter"/>
<polygon points="573.8,52.4 579.2,55.5 579.2,61.5 573.8,64.5 568.4,61.5 568.4,55.5" fill="#fff" stroke="#0000FF" stroke-width="1.0" stroke-linejoin="miter"/>
<polygon points="578.1,49.8 583.5,52.8 583.5,58.8 578.1,61.9 572.7,58.8 572.7,52.8" fill="#fff" stroke="#0000FF" stroke-width="1.0" stroke-linejoin="miter"/>
<polygon points="582.4,48.7 587.8,51.7 587.8,57.8 582.4,60.8 577.0,57.8 577.0,51.7" fill="#fff" stroke="#0000FF" stroke-width="1.0" stroke-linejoin="miter"/>
<polygon points="586.6,48.2 592.0,51.3 592.0,57.3 586.6,60.3 581.3,57.3 581.3,51.3" fill="#fff" stroke="#0000FF" stroke-width="1.0" stroke-linejoin="miter"/>
<polygon points="590.9,47.8 596.3,50.8 596.3,56.9 590.9,59.9 585.5,56.9 585.5,50.8" fill="#fff" stroke="#0000FF" stroke-width="1.0" stroke-linejoin="miter"/>
<polygon points="595.1,47.4 600.5,50.4 600.5,56.4 595.1,59.5 589.7,56.4 589.7,50.4" fill="#fff" stroke="#0000FF" stroke-width="1.0" stroke-linejoin="miter"/>
<polygon points="599.3,47.0 604.7,50.1 604.7,56.1 599.3,59.1 593.9,56.1 593.9,50.1" fill="#fff" stroke="#0000FF" stroke-width="1.0" stroke-linejoin="miter"/>
<polygon points="603.6,47.0 608.9,50.0 608.9,56.0 603.6,59.1 598.2,56.0 598.2,50.0" fill="#fff" stroke="#0000FF" stroke-width="1.0" stroke-linejoin="miter"/>
<polygon points="607.8,46.9 613.2,49.9 613.2,56.0 607.8,59.0 602.4,56.0 602.4,49.9" fill="#fff" stroke="#0000FF" stroke-width="1.0" stroke-linejoin="miter"/>
<polygon points="612.0,46.8 617.4,49.9 617.4,55.9 612.0,58.9 606.6,55.9 606.6,49.9" fill="#fff" stroke="#0000FF" stroke-width="1.0" stroke-linejoin="miter"/>
<polygon points="616.2,46.8 621.6,49.8 621.6,55.8 616.2,58.9 610.8,55.8 610.8,49.8" fill="#fff" stroke="#0000FF" stroke-width="1.0" stroke-linejoin="miter"/>
<polygon points="620.5,46.7 625.9,49.7 625.9,55.8 620.5,58.8 615.1,55.8 615.1,49.7" fill="#fff" stroke="#0000FF" stroke-width="1.0" stroke-linejoin="miter"/>
<polygon points="624.7,46.6 630.1,49.6 630.1,55.7 624.7,58.7 619.3,55.7 619.3,49.6" fill="#fff" stroke="#0000FF" stroke-width="1.0" stroke-linejoin="miter"/>
<polygon points="628.9,46.5 634.3,49.6 634.3,55.6 628.9,58.6 623.5,55.6 623.5,49.6" fill="#fff" stroke="#0000FF" stroke-width="1.0" stroke-linejoin="miter"/>
<polygon points="633.1,46.5 638.5,49.5 638.5,55.5 633.1,58.6 627.7,55.5 627.7,49.5" fill="#fff" stroke="#0000FF" stroke-width="1.0" stroke-linejoin="miter"/>
<polygon points="637.4,46.4 642.8,49.4 642.8,55.5 637.4,58.5 632.0,55.5 632.0,49.4" fill="#fff" stroke="#0000FF" stroke-width="1.0" stroke-linejoin="miter"/>
<polygon points="641.6,46.3 647.0,49.4 647.0,55.4 641.6,58.4 636.2,55.4 636.2,49.4" fill="#fff" stroke="#0000FF" stroke-width="1.0" stroke-linejoin="miter"/>
<polygon points="645.8,46.3 651.2,49.3 651.2,55.3 645.8,58.4 640.4,55.3 640.4,49.3" fill="#fff" stroke="#0000FF" stroke-width="1.0" stroke-linejoin="miter"/>
<polygon points="650.0,46.2 655.4,49.2 655.4,55.3 650.0,58.3 644.6,55.3 644.6,49.2" fill="#fff" stroke="#0000FF" stroke-width="1.0" stroke-linejoin="miter"/>
<polygon points="654.3,46.1 659.7,49.1 659.7,55.2 654.3,58.2 648.9,55.2 648.9,49.1" fill="#fff" stroke="#0000FF" stroke-width="1.0" stroke-linejoin="miter"/>
<polygon points="658.5,46.0 663.9,49.1 663.9,55.1 658.5,58.1 653.1,55.1 653.1,49.1" fill="#fff" stroke="#0000FF" stroke-width="1.0" stroke-linejoin="miter"/>
<polygon points="662.7,46.0 668.1,49.0 668.1,55.0 662.7,58.1 657.3,55.0 657.3,49.0" fill="#fff" stroke="#0000FF" stroke-width="1.0" stroke-linejoin="miter"/>
<polygon points="666.9,45.9 672.3,48.9 672.3,55.0 666.9,58.0 661.5,55.0 661.5,48.9" fill="#fff" stroke="#0000FF" stroke-width="1.0" stroke-linejoin="miter"/>
<polygon points="671.2,45.8 676.6,48.8 676.6,54.9 671.2,57.9 665.8,54.9 665.8,48.8" fill="#fff" stroke="#0000FF" stroke-width="1.0" stroke-linejoin="miter"/>
<polygon points="675.4,45.7 680.8,48.8 680.8,54.8 675.4,57.8 670.0,54.8 670.0,48.8" fill="#fff" stroke="#0000FF" stroke-width="1.0" stroke-linejoin="miter"/>
<polygon points="679.6,45.7 685.0,48.7 685.0,54.8 679.6,57.8 674.2,54.8 674.2,48.7" fill="#fff" stroke="#0000FF" stroke-width="1.0" stroke-linejoin="miter"/>
<polygon points="683.8,45.6 689.2,48.6 689.2,54.7 683.8,57.7 678.5,54.7 678.5,48.6" fill="#fff" stroke="#0000FF" stroke-width="1.0" stroke-linejoin="miter"/>
<polygon points="688.1,45.5 693.5,48.6 693.5,54.6 688.1,57.6 682.7,54.6 682.7,48.6" fill="#fff" stroke="#0000FF" stroke-width="1.0" stroke-linejoin="miter"/>
<polygon points="692.3,45.5 697.7,48.5 697.7,54.5 692.3,57.6 686.9,54.5 686.9,48.5" fill="#fff" stroke="#0000FF" stroke-width="1.0" stroke-linejoin="miter"/>
<polygon points="91.4,491.5 93.2,496.0 98.1,496.3 94.3,499.4 95.5,504.1 91.4,501.5 87.3,504.1 88.5,499.4 84.7,496.3 89.6,496.0" fill="#00DDFF"/>
<polygon points="95.7,491.3 97.5,495.9 102.4,496.2 98.6,499.3 99.8,504.0 95.7,501.4 91.6,504.0 92.8,499.3 89.0,496.2 93.9,495.9" fill="#00DDFF"/>
<polygon points="100.0,491.2 101.8,495.8 106.7,496.0 102.9,499.1 104.1,503.9 100.0,501.2 95.9,503.9 97.1,499.1 93.4,496.0 98.2,495.8" fill="#00DDFF"/>
<polygon points="104.3,491.1 106.1,495.6 111.0,495.9 107.2,499.0 108.4,503.7 104.3,501.1 100.2,503.7 101.5,499.0 97.7,495.9 102.5,495.6" fill="#00DDFF"/>
<polygon points="108.6,490.9 110.4,495.5 115.3,495.8 111.5,498.9 112.7,503.6 108.6,501.0 104.5,503.6 105.8,498.9 102.0,495.8 106.8,495.5" fill="#00DDFF"/>
<polygon points="112.9,490.8 114.7,495.4 119.6,495.6 115.8,498.7 117.0,503.5 112.9,500.8 108.8,503.5 110.1,498.7 106.3,495.6 111.2,495.4" fill="#00DDFF"/>
<polygon points="117.2,490.7 119.0,495.2 123.9,495.5 120.1,498.6 121.3,503.3 117.2,500.7 113.1,503.3 114.4,498.6 110.6,495.5 115.5,495.2" fill="#00DDFF"/>
<polygon points="121.5,490.5 123.3,495.1 128.2,495.4 124.4,498.5 125.6,503.2 121.5,500.5 117.4,503.2 118.7,498.5 114.9,495.4 119.8,495.1" fill="#00DDFF"/>
<polygon points="125.8,490.4 127.6,495.0 132.5,495.2 128.7,498.3 130.0,503.1 125.8,500.4 121.7,503.1 123.0,498.3 119.2,495.2 124.1,495.0" fill="#00DDFF"/>
<polygon points="130.1,490.2 131.9,494.7 136.8,495.0 133.0,498.1 134.3,502.8 130.1,500.2 126.0,502.8 127.3,498.1 123.5,495.0 128.4,494.7" fill="#00DDFF"/>
<polygon points="134.4,490.0 136.2,494.5 141.1,494.8 137.3,497.9 138.6,502.6 134.4,500.0 130.3,502.6 131.6,497.9 127.8,494.8 132.7,494.5" fill="#00DDFF"/>
<polygon points="138.7,489.7 140.5,494.3 145.4,494.6 141.6,497.7 142.9,502.4 138.7,499.7 134.6,502.4 135.9,497.7 132.1,494.6 137.0,494.3" fill="#00DDFF"/>
<polygon points="143.1,489.5 144.8,494.1 149.7,494.3 145.9,497.4 147.2,502.2 143.1,499.5 138.9,502.2 140.2,497.4 136.4,494.3 141.3,494.1" fill="#00DDFF"/>
<polygon points="147.4,489.3 149.1,493.8 154.0,494.1 150.2,497.2 151.5,501.9 147.4,499.3 143.2,501.9 144.5,497.2 140.7,494.1 145.6,493.8" fill="#00DDFF"/>
<polygon points="151.7,489.1 153.4,493.6 158.3,493.9 154.5,497.0 155.8,501.7 151.7,499.1 147.5,501.7 148.8,497.0 145.0,493.9 149.9,493.6" fill="#00DDFF"/>
<polygon points="156.0,488.8 157.7,493.4 162.6,493.7 158.8,496.8 160.1,501.5 156.0,498.8 151.9,501.5 153.1,496.8 149.3,493.7 154.2,493.4" fill="#00DDFF"/>
<polygon points="160.3,488.6 162.0,493.2 166.9,493.4 163.1,496.5 164.4,501.3 160.3,498.6 156.2,501.3 157.4,496.5 153.6,493.4 158.5,493.2" fill="#00DDFF"/>
<polygon points="164.6,488.4 166.3,492.9 171.2,493.2 167.4,496.3 168.7,501.0 164.6,498.4 160.5,501.0 161.7,496.3 157.9,493.2 162.8,492.9" fill="#00DDFF"/>
<polygon points="168.9,488.2 170.7,492.7 175.5,493.0 171.7,496.1 173.0,500.8 168.9,498.2 164.8,500.8 166.0,496.1 162.2,493.0 167.1,492.7" fill="#00DDFF"/>
<polygon points="173.2,487.9 175.0,492.5 179.8,492.8 176.0,495.9 177.3,500.6 173.2,497.9 169.1,500.6 170.3,495.9 166.5,492.8 171.4,492.5" fill="#00DDFF"/>
<polygon points="177.5,487.7 179.3,492.3 184.1,492.5 180.4,495.6 181.6,500.4 177.5,497.7 173.4,500.4 174.6,495.6 170.8,492.5 175.7,492.3" fill="#00DDFF"/>
<polygon points="181.8,487.6 183.6,492.1 188.5,492.4 184.7,495.5 185.9,500.2 181.8,497.6 177.7,500.2 178.9,495.5 175.1,492.4 180.0,492.1" fill="#00DDFF"/>
<polygon points="186.1,487.4 187.9,492.0 192.8,492.3 189.0,495.4 190.2,500.1 186.1,497.5 182.0,500.1 183.2,495.4 179.4,492.3 184.3,492.0" fill="#00DDFF"/>
<polygon points="190.4,487.3 192.2,491.9 197.1,492.1 193.3,495.2 194.5,500.0 190.4,497.3 186.3,500.0 187.5,495.2 183.7,492.1 188.6,491.9" fill="#00DDFF"/>
<polygon points="194.7,487.2 196.5,491.7 201.4,492.0 197.6,495.1 198.8,499.8 194.7,497.2 190.6,499.8 191.8,495.1 188.1,492.0 192.9,491.7" fill="#00DDFF"/>
<polygon points="199.0,487.0 200.8,491.6 205.7,491.9 201.9,495.0 203.1,499.7 199.0,497.0 194.9,499.7 196.2,495.0 192.4,491.9 197.2,491.6" fill="#00DDFF"/>
<polygon points="203.3,486.9 205.1,491.5 210.0,491.7 206.2,494.8 207.4,499.6 203.3,496.9 199.2,499.6 200.5,494.8 196.7,491.7 201.5,491.5" fill="#00DDFF"/>
<polygon points="207.6,486.8 209.4,491.3 214.3,491.6 210.5,494.7 211.7,499.4 207.6,496.8 203.5,499.4 204.8,494.7 201.0,491.6 205.9,491.3" fill="#00DDFF"/>
<polygon points="211.9,486.6 213.7,491.2 218.6,491.5 214.8,494.6 216.0,499.3 211.9,496.6 207.8,499.3 209.1,494.6 205.3,491.5 210.2,491.2" fill="#00DDFF"/>
<polygon points="216.2,486.6 218.0,491.1 222.9,491.4 219.1,494.5 220.3,499.2 216.2,496.6 212.1,499.2 213.4,494.5 209.6,491.4 214.5,491.1" fill="#00DDFF"/>
<polygon points="220.5,486.5 222.3,491.1 227.2,491.3 223.4,494.4 224.6,499.2 220.5,496.5 216.4,499.2 217.7,494.4 213.9,491.3 218.8,491.1" fill="#00DDFF"/>
<polygon points="224.8,486.4 226.6,491.0 231.5,491.3 227.7,494.4 229.0,499.1 224.8,496.5 220.7,499.1 222.0,494.4 218.2,491.3 223.1,491.0" fill="#00DDFF"/>
<polygon points="229.1,486.4 230.9,490.9 235.8,491.2 232.0,494.3 233.3,499.0 229.1,496.4 225.0,499.0 226.3,494.3 222.5,491.2 227.4,490.9" fill="#00DDFF"/>
<polygon points="233.4,486.3 235.2,490.9 240.1,491.2 236.3,494.2 237.6,499.0 233.4,496.3 229.3,499.0 230.6,494.2 226.8,491.2 231.7,490.9" fill="#00DDFF"/>
<polygon points="237.8,486.3 239.5,490.8 244.4,491.1 240.6,494.2 241.9,498.9 237.8,496.3 233.6,498.9 234.9,494.2 231.1,491.1 236.0,490.8" fill="#00DDFF"/>
<polygon points="242.1,486.2 243.8,490.8 248.7,491.0 244.9,494.1 246.2,498.9 242.1,496.2 237.9,498.9 239.2,494.1 235.4,491.0 240.3,490.8" fill="#00DDFF"/>
<polygon points="246.4,486.1 248.1,490.7 253.0,491.0 249.2,494.1 250.5,498.8 246.4,496.1 242.2,498.8 243.5,494.1 239.7,491.0 244.6,490.7" fill="#00DDFF"/>
<polygon points="250.7,486.1 252.4,490.6 257.3,490.9 253.5,494.0 254.8,498.7 250.7,496.1 246.6,498.7 247.8,494.0 244.0,490.9 248.9,490.6" fill="#00DDFF"/>
<polygon points="255.0,486.0 256.7,490.6 261.6,490.8 257.8,493.9 259.1,498.7 255.0,496.0 250.9,498.7 252.1,493.9 248.3,490.8 253.2,490.6" fill="#00DDFF"/>
<polygon points="259.3,485.9 261.0,490.5 265.9,490.8 262.1,493.9 263.4,498.6 259.3,495.9 255.2,498.6 256.4,493.9 252.6,490.8 257.5,490.5" fill="#00DDFF"/>
<polygon points="263.6,485.9 265.3,490.4 270.2,490.7 266.4,493.8 267.7,498.5 263.6,495.9 259.5,498.5 260.7,493.8 256.9,490.7 261.8,490.4" fill="#00DDFF"/>
<polygon points="267.9,485.8 269.7,490.4 274.5,490.6 270.7,493.7 272.0,498.5 267.9,495.8 263.8,498.5 265.0,493.7 261.2,490.6 266.1,490.4" fill="#00DDFF"/>
<polygon points="272.2,485.7 274.0,490.3 278.8,490.6 275.1,493.7 276.3,498.4 272.2,495.8 268.1,498.4 269.3,493.7 265.5,490.6 270.4,490.3" fill="#00DDFF"/>
<polygon points="276.5,485.7 278.3,490.2 283.2,490.5 279.4,493.6 280.6,498.3 276.5,495.7 272.4,498.3 273.6,493.6 269.8,490.5 274.7,490.2" fill="#00DDFF"/>
<polygon points="280.8,485.6 282.6,490.2 287.5,490.4 283.7,493.5 284.9,498.3 280.8,495.6 276.7,498.3 277.9,493.5 274.1,490.4 279.0,490.2" fill="#00DDFF"/>
<polygon points="285.1,485.5 286.9,490.1 291.8,490.4 288.0,493.5 289.2,498.2 285.1,495.6 281.0,498.2 282.2,493.5 278.4,490.4 283.3,490.1" fill="#00DDFF"/>
<polygon points="289.4,485.5 291.2,490.0 296.1,490.3 292.3,493.4 293.5,498.1 289.4,495.5 285.3,498.1 286.5,493.4 282.8,490.3 287.6,490.0" fill="#00DDFF"/>
<polygon points="293.7,485.4 295.5,490.0 300.4,490.3 296.6,493.4 297.8,498.1 293.7,495.4 289.6,498.1 290.8,493.4 287.1,490.3 291.9,490.0" fill="#00DDFF"/>
<polygon points="298.0,485.4 299.8,489.9 304.7,490.2 300.9,493.3 302.1,498.0 298.0,495.4 293.9,498.0 295.2,493.3 291.4,490.2 296.2,489.9" fill="#00DDFF"/>
<polygon points="302.3,485.3 304.1,489.9 309.0,490.1 305.2,493.2 306.4,498.0 302.3,495.3 298.2,498.0 299.5,493.2 295.7,490.1 300.6,489.9" fill="#00DDFF"/>
<polygon points="306.6,485.2 308.4,489.8 313.3,490.1 309.5,493.2 310.7,497.9 306.6,495.2 302.5,497.9 303.8,493.2 300.0,490.1 304.9,489.8" fill="#00DDFF"/>
<polygon points="310.9,485.2 312.7,489.7 317.6,490.0 313.8,493.1 315.0,497.8 310.9,495.2 306.8,497.8 308.1,493.1 304.3,490.0 309.2,489.7" fill="#00DDFF"/>
<polygon points="315.2,485.1 317.0,489.7 321.9,489.9 318.1,493.0 319.3,497.8 315.2,495.1 311.1,497.8 312.4,493.0 308.6,489.9 313.5,489.7" fill="#00DDFF"/>
<polygon points="319.5,485.0 321.3,489.6 326.2,489.9 322.4,493.0 323.7,497.7 319.5,495.0 315.4,497.7 316.7,493.0 312.9,489.9 317.8,489.6" fill="#00DDFF"/>
<polygon points="323.8,484.9 325.6,489.5 330.5,489.7 326.7,492.8 328.0,497.6 323.8,494.9 319.7,497.6 321.0,492.8 317.2,489.7 322.1,489.5" fill="#00DDFF"/>
<polygon points="328.1,484.8 329.9,489.3 334.8,489.6 331.0,492.7 332.3,497.4 328.1,494.8 324.0,497.4 325.3,492.7 321.5,489.6 326.4,489.3" fill="#00DDFF"/>
<polygon points="332.5,484.6 334.2,489.2 339.1,489.5 335.3,492.6 336.6,497.3 332.5,494.6 328.3,497.3 329.6,492.6 325.8,489.5 330.7,489.2" fill="#00DDFF"/>
<polygon points="336.8,484.5 338.5,489.0 343.4,489.3 339.6,492.4 340.9,497.1 336.8,494.5 332.6,497.1 333.9,492.4 330.1,489.3 335.0,489.0" fill="#00DDFF"/>
<polygon points="341.1,484.3 342.8,488.9 347.7,489.2 343.9,492.3 345.2,497.0 341.1,494.4 336.9,497.0 338.2,492.3 334.4,489.2 339.3,488.9" fill="#00DDFF"/>
<polygon points="345.4,484.2 347.1,488.8 352.0,489.0 348.2,492.1 349.5,496.9 345.4,494.2 341.3,496.9 342.5,492.1 338.7,489.0 343.6,488.8" fill="#00DDFF"/>
<polygon points="349.7,484.1 351.4,488.6 356.3,488.9 352.5,492.0 353.8,496.7 349.7,494.1 345.6,496.7 346.8,492.0 343.0,488.9 347.9,488.6" fill="#00DDFF"/>
<polygon points="354.0,483.9 355.7,488.5 360.6,488.8 356.8,491.9 358.1,496.6 354.0,493.9 349.9,496.6 351.1,491.9 347.3,488.8 352.2,488.5" fill="#00DDFF"/>
<polygon points="358.3,483.8 360.0,488.3 364.9,488.6 361.1,491.7 362.4,496.4 358.3,493.8 354.2,496.4 355.4,491.7 351.6,488.6 356.5,488.3" fill="#00DDFF"/>
<polygon points="362.6,483.6 364.4,488.2 369.2,488.5 365.4,491.6 366.7,496.3 362.6,493.7 358.5,496.3 359.7,491.6 355.9,488.5 360.8,488.2" fill="#00DDFF"/>
<polygon points="366.9,483.5 368.7,488.1 373.5,488.3 369.8,491.4 371.0,496.2 366.9,493.5 362.8,496.2 364.0,491.4 360.2,488.3 365.1,488.1" fill="#00DDFF"/>
<polygon points="371.2,483.4 373.0,487.9 377.9,488.2 374.1,491.3 375.3,496.0 371.2,493.4 367.1,496.0 368.3,491.3 364.5,488.2 369.4,487.9" fill="#00DDFF"/>
<polygon points="375.5,483.2 377.3,487.8 382.2,488.1 378.4,491.2 379.6,495.9 375.5,493.2 371.4,495.9 372.6,491.2 368.8,488.1 373.7,487.8" fill="#00DDFF"/>
<polygon points="379.8,483.1 381.6,487.7 386.5,487.9 382.7,491.0 383.9,495.8 379.8,493.1 375.7,495.8 376.9,491.0 373.1,487.9 378.0,487.7" fill="#00DDFF"/>
<polygon points="384.1,482.9 385.9,487.5 390.8,487.8 387.0,490.9 388.2,495.6 384.1,493.0 380.0,495.6 381.2,490.9 377.4,487.8 382.3,487.5" fill="#00DDFF"/>
<polygon points="388.4,482.8 390.2,487.4 395.1,487.6 391.3,490.7 392.5,495.5 388.4,492.8 384.3,495.5 385.5,490.7 381.8,487.6 386.6,487.4" fill="#00DDFF"/>
<polygon points="392.7,482.7 394.5,487.2 399.4,487.5 395.6,490.6 396.8,495.3 392.7,492.7 388.6,495.3 389.9,490.6 386.1,487.5 390.9,487.2" fill="#00DDFF"/>
<polygon points="397.0,482.5 398.8,487.1 403.7,487.4 399.9,490.5 401.1,495.2 397.0,492.5 392.9,495.2 394.2,490.5 390.4,487.4 395.3,487.1" fill="#00DDFF"/>
<polygon points="401.3,482.4 403.1,487.0 408.0,487.2 404.2,490.3 405.4,495.1 401.3,492.4 397.2,495.1 398.5,490.3 394.7,487.2 399.6,487.0" fill="#00DDFF"/>
<polygon points="405.6,482.3 407.4,486.8 412.3,487.1 408.5,490.2 409.7,494.9 405.6,492.3 401.5,494.9 402.8,490.2 399.0,487.1 403.9,486.8" fill="#00DDFF"/>
<polygon points="409.9,482.1 411.7,486.7 416.6,486.9 412.8,490.0 414.0,494.8 409.9,492.1 405.8,494.8 407.1,490.0 403.3,486.9 408.2,486.7" fill="#00DDFF"/>
<polygon points="414.2,482.0 416.0,486.5 420.9,486.8 417.1,489.9 418.4,494.6 414.2,492.0 410.1,494.6 411.4,489.9 407.6,486.8 412.5,486.5" fill="#00DDFF"/>
<polygon points="418.5,481.8 420.3,486.4 425.2,486.7 421.4,489.8 422.7,494.5 418.5,491.8 414.4,494.5 415.7,489.8 411.9,486.7 416.8,486.4" fill="#00DDFF"/>
<polygon points="422.8,481.7 424.6,486.3 429.5,486.5 425.7,489.6 427.0,494.4 422.8,491.7 418.7,494.4 420.0,489.6 416.2,486.5 421.1,486.3" fill="#00DDFF"/>
<polygon points="427.2,481.6 428.9,486.1 433.8,486.4 430.0,489.5 431.3,494.2 427.2,491.6 423.0,494.2 424.3,489.5 420.5,486.4 425.4,486.1" fill="#00DDFF"/>
<polygon points="431.5,481.4 433.2,486.0 438.1,486.3 434.3,489.3 435.6,494.1 431.5,491.4 427.3,494.1 428.6,489.3 424.8,486.3 429.7,486.0" fill="#00DDFF"/>
<polygon points="435.8,481.3 437.5,485.8 442.4,486.1 438.6,489.2 439.9,493.9 435.8,491.3 431.6,493.9 432.9,489.2 429.1,486.1 434.0,485.8" fill="#00DDFF"/>
<polygon points="440.1,481.1 441.8,485.7 446.7,486.0 442.9,489.1 444.2,493.8 440.1,491.1 436.0,493.8 437.2,489.1 433.4,486.0 438.3,485.7" fill="#00DDFF"/>
<polygon points="444.4,481.0 446.1,485.6 451.0,485.8 447.2,488.9 448.5,493.7 444.4,491.0 440.3,493.7 441.5,488.9 437.7,485.8 442.6,485.6" fill="#00DDFF"/>
<polygon points="448.7,480.9 450.4,485.4 455.3,485.7 451.5,488.8 452.8,493.5 448.7,490.9 444.6,493.5 445.8,488.8 442.0,485.7 446.9,485.4" fill="#00DDFF"/>
<polygon points="453.0,480.7 454.7,485.3 459.6,485.6 455.8,488.6 457.1,493.4 453.0,490.7 448.9,493.4 450.1,488.6 446.3,485.6 451.2,485.3" fill="#00DDFF"/>
<polygon points="457.3,480.6 459.1,485.1 463.9,485.4 460.1,488.5 461.4,493.2 457.3,490.6 453.2,493.2 454.4,488.5 450.6,485.4 455.5,485.1" fill="#00DDFF"/>
<polygon points="461.6,480.4 463.4,485.0 468.2,485.3 464.5,488.4 465.7,493.1 461.6,490.5 457.5,493.1 458.7,488.4 454.9,485.3 459.8,485.0" fill="#00DDFF"/>
<polygon points="465.9,480.3 467.7,484.9 472.6,485.1 468.8,488.2 470.0,493.0 465.9,490.3 461.8,493.0 463.0,488.2 459.2,485.1 464.1,484.9" fill="#00DDFF"/>
<polygon points="470.2,480.1 472.0,484.6 476.9,484.9 473.1,488.0 474.3,492.7 470.2,490.1 466.1,492.7 467.3,488.0 463.5,484.9 468.4,484.6" fill="#00DDFF"/>
<polygon points="474.5,479.5 476.3,484.1 481.2,484.4 477.4,487.5 478.6,492.2 474.5,489.6 470.4,492.2 471.6,487.5 467.8,484.4 472.7,484.1" fill="#00DDFF"/>
<polygon points="478.8,479.0 480.6,483.6 485.5,483.9 481.7,487.0 482.9,491.7 478.8,489.0 474.7,491.7 475.9,487.0 472.1,483.9 477.0,483.6" fill="#00DDFF"/>
<polygon points="483.1,478.5 484.9,483.1 489.8,483.3 486.0,486.4 487.2,491.2 483.1,488.5 479.0,491.2 480.2,486.4 476.5,483.3 481.3,483.1" fill="#00DDFF"/>
<polygon points="487.4,478.0 489.2,482.6 494.1,482.8 490.3,485.9 491.5,490.7 487.4,488.0 483.3,490.7 484.6,485.9 480.8,482.8 485.6,482.6" fill="#00DDFF"/>
<polygon points="491.7,477.5 493.5,482.0 498.4,482.3 494.6,485.4 495.8,490.1 491.7,487.5 487.6,490.1 488.9,485.4 485.1,482.3 490.0,482.0" fill="#00DDFF"/>
<polygon points="496.0,477.0 497.8,481.5 502.7,481.8 498.9,484.9 500.1,489.6 496.0,487.0 491.9,489.6 493.2,484.9 489.4,481.8 494.3,481.5" fill="#00DDFF"/>
<polygon points="500.3,476.4 502.1,481.0 507.0,481.3 503.2,484.4 504.4,489.1 500.3,486.4 496.2,489.1 497.5,484.4 493.7,481.3 498.6,481.0" fill="#00DDFF"/>
<polygon points="504.6,475.9 506.4,480.5 511.3,480.8 507.5,483.9 508.7,488.6 504.6,485.9 500.5,488.6 501.8,483.9 498.0,480.8 502.9,480.5" fill="#00DDFF"/>
<polygon points="508.9,475.4 510.7,480.0 515.6,480.2 511.8,483.3 513.1,488.1 508.9,485.4 504.8,488.1 506.1,483.3 502.3,480.2 507.2,480.0" fill="#00DDFF"/>
<polygon points="513.2,474.9 515.0,479.5 519.9,479.7 516.1,482.8 517.4,487.5 513.2,484.9 509.1,487.5 510.4,482.8 506.6,479.7 511.5,479.5" fill="#00DDFF"/>
<polygon points="517.5,474.4 519.3,478.9 524.2,479.2 520.4,482.3 521.7,487.0 517.5,484.4 513.4,487.0 514.7,482.3 510.9,479.2 515.8,478.9" fill="#00DDFF"/>
<polygon points="521.9,473.8 523.6,478.4 528.5,478.7 524.7,481.8 526.0,486.5 521.9,483.9 517.7,486.5 519.0,481.8 515.2,478.7 520.1,478.4" fill="#00DDFF"/>
<polygon points="526.2,473.3 527.9,477.9 532.8,478.2 529.0,481.3 530.3,486.0 526.2,483.3 522.0,486.0 523.3,481.3 519.5,478.2 524.4,477.9" fill="#00DDFF"/>
<polygon points="530.5,472.8 532.2,477.4 537.1,477.7 533.3,480.7 534.6,485.5 530.5,482.8 526.3,485.5 527.6,480.7 523.8,477.7 528.7,477.4" fill="#00DDFF"/>
<polygon points="534.8,472.3 536.5,476.9 541.4,477.1 537.6,480.2 538.9,485.0 534.8,482.3 530.7,485.0 531.9,480.2 528.1,477.1 533.0,476.9" fill="#00DDFF"/>
<polygon points="539.1,470.9 540.8,475.5 545.7,475.8 541.9,478.9 543.2,483.6 539.1,481.0 535.0,483.6 536.2,478.9 532.4,475.8 537.3,475.5" fill="#00DDFF"/>
<polygon points="543.4,469.2 545.1,473.8 550.0,474.1 546.2,477.2 547.5,481.9 543.4,479.2 539.3,481.9 540.5,477.2 536.7,474.1 541.6,473.8" fill="#00DDFF"/>
<polygon points="547.7,467.5 549.4,472.1 554.3,472.4 550.5,475.4 551.8,480.2 547.7,477.5 543.6,480.2 544.8,475.4 541.0,472.4 545.9,472.1" fill="#00DDFF"/>
<polygon points="552.0,465.8 553.8,470.4 558.6,470.6 554.8,473.7 556.1,478.5 552.0,475.8 547.9,478.5 549.1,473.7 545.3,470.6 550.2,470.4" fill="#00DDFF"/>
<polygon points="556.3,463.6 558.1,468.1 562.9,468.4 559.2,471.5 560.4,476.2 556.3,473.6 552.2,476.2 553.4,471.5 549.6,468.4 554.5,468.1" fill="#00DDFF"/>
<polygon points="560.6,460.2 562.4,464.7 567.2,465.0 563.5,468.1 564.7,472.8 560.6,470.2 556.5,472.8 557.7,468.1 553.9,465.0 558.8,464.7" fill="#00DDFF"/>
<polygon points="564.9,456.7 566.7,461.3 571.6,461.6 567.8,464.7 569.0,469.4 564.9,466.8 560.8,469.4 562.0,464.7 558.2,461.6 563.1,461.3" fill="#00DDFF"/>
<polygon points="569.2,453.3 571.0,457.9 575.9,458.2 572.1,461.3 573.3,466.0 569.2,463.3 565.1,466.0 566.3,461.3 562.5,458.2 567.4,457.9" fill="#00DDFF"/>
<polygon points="572.1,299.7 573.9,304.3 578.8,304.5 575.0,307.6 576.2,312.4 572.1,309.7 568.0,312.4 569.3,307.6 565.5,304.5 570.4,304.3" fill="#00DDFF"/>
<polygon points="577.1,263.9 578.9,268.5 583.8,268.7 580.0,271.8 581.2,276.6 577.1,273.9 573.0,276.6 574.2,271.8 570.4,268.7 575.3,268.5" fill="#00DDFF"/>
<polygon points="581.2,240.6 583.0,245.2 587.9,245.4 584.1,248.5 585.3,253.3 581.2,250.6 577.1,253.3 578.4,248.5 574.6,245.4 579.5,245.2" fill="#00DDFF"/>
<polygon points="586.2,221.3 588.0,225.8 592.9,226.1 589.1,229.2 590.3,233.9 586.2,231.3 582.1,233.9 583.3,229.2 579.5,226.1 584.4,225.8" fill="#00DDFF"/>
<polygon points="589.8,205.7 591.6,210.2 596.5,210.5 592.7,213.6 593.9,218.3 589.8,215.7 585.7,218.3 586.9,213.6 583.1,210.5 588.0,210.2" fill="#00DDFF"/>
<polygon points="593.8,192.8 595.5,197.3 600.4,197.6 596.6,200.7 597.9,205.4 593.8,202.8 589.6,205.4 590.9,200.7 587.1,197.6 592.0,197.3" fill="#00DDFF"/>
<polygon points="598.0,182.0 599.8,186.6 604.7,186.9 600.9,190.0 602.2,194.7 598.0,192.0 593.9,194.7 595.2,190.0 591.4,186.9 596.3,186.6" fill="#00DDFF"/>
<polygon points="602.9,153.0 604.6,157.6 609.5,157.9 605.7,161.0 607.0,165.7 602.9,163.0 598.7,165.7 600.0,161.0 596.2,157.9 601.1,157.6" fill="#00DDFF"/>
<polygon points="607.3,106.8 609.1,111.4 614.0,111.7 610.2,114.8 611.4,119.5 607.3,116.8 603.2,119.5 604.5,114.8 600.7,111.7 605.5,111.4" fill="#00DDFF"/>
<polygon points="610.9,87.5 612.7,92.1 617.6,92.3 613.8,95.4 615.0,100.2 610.9,97.5 606.8,100.2 608.1,95.4 604.3,92.3 609.2,92.1" fill="#00DDFF"/>
<polygon points="616.1,75.1 617.8,79.7 622.7,80.0 618.9,83.1 620.2,87.8 616.1,85.1 612.0,87.8 613.2,83.1 609.4,80.0 614.3,79.7" fill="#00DDFF"/>
<polygon points="620.7,67.6 622.5,72.2 627.4,72.4 623.6,75.5 624.8,80.3 620.7,77.6 616.6,80.3 617.8,75.5 614.0,72.4 618.9,72.2" fill="#00DDFF"/>
<polygon points="625.3,58.5 627.1,63.0 632.0,63.3 628.2,66.4 629.5,71.1 625.3,68.5 621.2,71.1 622.5,66.4 618.7,63.3 623.6,63.0" fill="#00DDFF"/>
<polygon points="629.5,55.2 631.3,59.8 636.2,60.0 632.4,63.1 633.6,67.9 629.5,65.2 625.4,67.9 626.7,63.1 622.9,60.0 627.8,59.8" fill="#00DDFF"/>
<polygon points="633.7,52.4 635.5,56.9 640.4,57.2 636.6,60.3 637.8,65.0 633.7,62.4 629.6,65.0 630.8,60.3 627.1,57.2 631.9,56.9" fill="#00DDFF"/>
<polygon points="637.9,50.3 639.7,54.8 644.6,55.1 640.8,58.2 642.0,62.9 637.9,60.3 633.8,62.9 635.0,58.2 631.2,55.1 636.1,54.8" fill="#00DDFF"/>
<polygon points="642.1,48.6 643.9,53.2 648.7,53.4 644.9,56.5 646.2,61.3 642.1,58.6 638.0,61.3 639.2,56.5 635.4,53.4 640.3,53.2" fill="#00DDFF"/>
<polygon points="646.3,48.0 648.0,52.5 652.9,52.8 649.1,55.9 650.4,60.6 646.3,58.0 642.2,60.6 643.4,55.9 639.6,52.8 644.5,52.5" fill="#00DDFF"/>
<polygon points="650.5,47.3 652.2,51.9 657.1,52.1 653.3,55.2 654.6,60.0 650.5,57.3 646.3,60.0 647.6,55.2 643.8,52.1 648.7,51.9" fill="#00DDFF"/>
<polygon points="654.6,46.6 656.4,51.2 661.3,51.5 657.5,54.6 658.8,59.3 654.6,56.7 650.5,59.3 651.8,54.6 648.0,51.5 652.9,51.2" fill="#00DDFF"/>
<polygon points="658.8,46.1 660.6,50.6 665.5,50.9 661.7,54.0 662.9,58.7 658.8,56.1 654.7,58.7 656.0,54.0 652.2,50.9 657.1,50.6" fill="#00DDFF"/>
<polygon points="663.0,45.8 664.8,50.4 669.7,50.6 665.9,53.7 667.1,58.5 663.0,55.8 658.9,58.5 660.1,53.7 656.3,50.6 661.2,50.4" fill="#00DDFF"/>
<polygon points="667.2,45.5 669.0,50.1 673.8,50.4 670.1,53.5 671.3,58.2 667.2,55.6 663.1,58.2 664.3,53.5 660.5,50.4 665.4,50.1" fill="#00DDFF"/>
<polygon points="671.4,45.3 673.1,49.8 678.0,50.1 674.2,53.2 675.5,57.9 671.4,55.3 667.3,57.9 668.5,53.2 664.7,50.1 669.6,49.8" fill="#00DDFF"/>
<polygon points="675.6,45.0 677.3,49.6 682.2,49.9 678.4,53.0 679.7,57.7 675.6,55.0 671.4,57.7 672.7,53.0 668.9,49.9 673.8,49.6" fill="#00DDFF"/>
<polygon points="679.7,44.8 681.5,49.3 686.4,49.6 682.6,52.7 683.9,57.4 679.7,54.8 675.6,57.4 676.9,52.7 673.1,49.6 678.0,49.3" fill="#00DDFF"/>
<polygon points="683.9,44.5 685.7,49.1 690.6,49.3 686.8,52.4 688.0,57.2 683.9,54.5 679.8,57.2 681.1,52.4 677.3,49.3 682.2,49.1" fill="#00DDFF"/>
<polygon points="688.1,44.2 689.9,48.8 694.8,49.1 691.0,52.2 692.2,56.9 688.1,54.2 684.0,56.9 685.3,52.2 681.5,49.1 686.3,48.8" fill="#00DDFF"/>
<polygon points="692.3,44.0 694.1,48.5 699.0,48.8 695.2,51.9 696.4,56.6 692.3,54.0 688.2,56.6 689.4,51.9 685.6,48.8 690.5,48.5" fill="#00DDFF"/>
<polygon points="91.4,257.6 93.1,261.9 97.8,262.2 94.1,265.1 95.3,269.7 91.4,267.1 87.5,269.7 88.7,265.1 85.0,262.2 89.7,261.9" fill="#fff" stroke="#00DDFF" stroke-width="1.0" stroke-linejoin="miter"/>
<polygon points="95.7,257.5 97.4,261.9 102.0,262.1 98.4,265.1 99.6,269.6 95.7,267.1 91.7,269.6 93.0,265.1 89.3,262.1 94.0,261.9" fill="#fff" stroke="#00DDFF" stroke-width="1.0" stroke-linejoin="miter"/>
<polygon points="100.0,257.5 101.6,261.8 106.3,262.1 102.7,265.0 103.9,269.6 100.0,267.0 96.0,269.6 97.2,265.0 93.6,262.1 98.3,261.8" fill="#fff" stroke="#00DDFF" stroke-width="1.0" stroke-linejoin="miter"/>
<polygon points="104.2,257.4 105.9,261.8 110.6,262.0 106.9,265.0 108.2,269.5 104.2,267.0 100.3,269.5 101.5,265.0 97.9,262.0 102.5,261.8" fill="#fff" stroke="#00DDFF" stroke-width="1.0" stroke-linejoin="miter"/>
<polygon points="108.5,257.4 110.2,261.8 114.9,262.0 111.2,265.0 112.4,269.5 108.5,266.9 104.6,269.5 105.8,265.0 102.1,262.0 106.8,261.8" fill="#fff" stroke="#00DDFF" stroke-width="1.0" stroke-linejoin="miter"/>
<polygon points="112.8,257.3 114.5,261.7 119.2,262.0 115.5,264.9 116.7,269.4 112.8,266.9 108.8,269.4 110.1,264.9 106.4,262.0 111.1,261.7" fill="#fff" stroke="#00DDFF" stroke-width="1.0" stroke-linejoin="miter"/>
<polygon points="117.1,257.3 118.7,261.7 123.4,261.9 119.8,264.9 121.0,269.4 117.1,266.8 113.1,269.4 114.3,264.9 110.7,261.9 115.4,261.7" fill="#fff" stroke="#00DDFF" stroke-width="1.0" stroke-linejoin="miter"/>
<polygon points="121.3,257.2 123.0,261.6 127.7,261.9 124.1,264.8 125.3,269.4 121.3,266.8 117.4,269.4 118.6,264.8 115.0,261.9 119.7,261.6" fill="#fff" stroke="#00DDFF" stroke-width="1.0" stroke-linejoin="miter"/>
<polygon points="125.6,257.2 127.3,261.6 132.0,261.8 128.3,264.8 129.6,269.3 125.6,266.8 121.7,269.3 122.9,264.8 119.2,261.8 123.9,261.6" fill="#fff" stroke="#00DDFF" stroke-width="1.0" stroke-linejoin="miter"/>
<polygon points="129.9,257.1 131.6,261.5 136.3,261.8 132.6,264.7 133.8,269.3 129.9,266.7 126.0,269.3 127.2,264.7 123.5,261.8 128.2,261.5" fill="#fff" stroke="#00DDFF" stroke-width="1.0" stroke-linejoin="miter"/>
<polygon points="134.2,257.1 135.8,261.5 140.5,261.7 136.9,264.7 138.1,269.2 134.2,266.7 130.2,269.2 131.4,264.7 127.8,261.7 132.5,261.5" fill="#fff" stroke="#00DDFF" stroke-width="1.0" stroke-linejoin="miter"/>
<polygon points="138.4,257.1 140.1,261.4 144.8,261.7 141.2,264.6 142.4,269.2 138.4,266.6 134.5,269.2 135.7,264.6 132.1,261.7 136.8,261.4" fill="#fff" stroke="#00DDFF" stroke-width="1.0" stroke-linejoin="miter"/>
<polygon points="142.7,257.0 144.4,261.4 149.1,261.6 145.4,264.6 146.7,269.1 142.7,266.6 138.8,269.1 140.0,264.6 136.3,261.6 141.0,261.4" fill="#fff" stroke="#00DDFF" stroke-width="1.0" stroke-linejoin="miter"/>
<polygon points="147.0,257.0 148.7,261.4 153.4,261.6 149.7,264.6 150.9,269.1 147.0,266.6 143.1,269.1 144.3,264.6 140.6,261.6 145.3,261.4" fill="#fff" stroke="#00DDFF" stroke-width="1.0" stroke-linejoin="miter"/>
<polygon points="151.3,257.0 153.0,261.4 157.6,261.6 154.0,264.6 155.2,269.1 151.3,266.5 147.3,269.1 148.6,264.6 144.9,261.6 149.6,261.4" fill="#fff" stroke="#00DDFF" stroke-width="1.0" stroke-linejoin="miter"/>
<polygon points="155.5,257.0 157.2,261.4 161.9,261.6 158.3,264.6 159.5,269.1 155.5,266.5 151.6,269.1 152.8,264.6 149.2,261.6 153.9,261.4" fill="#fff" stroke="#00DDFF" stroke-width="1.0" stroke-linejoin="miter"/>
<polygon points="159.8,257.0 161.5,261.3 166.2,261.6 162.5,264.5 163.8,269.1 159.8,266.5 155.9,269.1 157.1,264.5 153.5,261.6 158.1,261.3" fill="#fff" stroke="#00DDFF" stroke-width="1.0" stroke-linejoin="miter"/>
<polygon points="164.1,256.9 165.8,261.3 170.5,261.6 166.8,264.5 168.0,269.1 164.1,266.5 160.2,269.1 161.4,264.5 157.7,261.6 162.4,261.3" fill="#fff" stroke="#00DDFF" stroke-width="1.0" stroke-linejoin="miter"/>
<polygon points="168.4,256.9 170.1,261.3 174.7,261.6 171.1,264.5 172.3,269.1 168.4,266.5 164.4,269.1 165.7,264.5 162.0,261.6 166.7,261.3" fill="#fff" stroke="#00DDFF" stroke-width="1.0" stroke-linejoin="miter"/>
<polygon points="172.7,256.9 174.3,261.3 179.0,261.5 175.4,264.5 176.6,269.0 172.7,266.5 168.7,269.0 169.9,264.5 166.3,261.5 171.0,261.3" fill="#fff" stroke="#00DDFF" stroke-width="1.0" stroke-linejoin="miter"/>
<polygon points="176.9,256.9 178.6,261.3 183.3,261.5 179.7,264.5 180.9,269.0 176.9,266.5 173.0,269.0 174.2,264.5 170.6,261.5 175.2,261.3" fill="#fff" stroke="#00DDFF" stroke-width="1.0" stroke-linejoin="miter"/>
<polygon points="181.2,256.9 182.9,261.3 187.6,261.5 183.9,264.5 185.1,269.0 181.2,266.5 177.3,269.0 178.5,264.5 174.8,261.5 179.5,261.3" fill="#fff" stroke="#00DDFF" stroke-width="1.0" stroke-linejoin="miter"/>
<polygon points="185.5,256.9 187.2,261.3 191.9,261.5 188.2,264.5 189.4,269.0 185.5,266.4 181.5,269.0 182.8,264.5 179.1,261.5 183.8,261.3" fill="#fff" stroke="#00DDFF" stroke-width="1.0" stroke-linejoin="miter"/>
<polygon points="189.8,256.9 191.4,261.3 196.1,261.5 192.5,264.4 193.7,269.0 189.8,266.4 185.8,269.0 187.0,264.4 183.4,261.5 188.1,261.3" fill="#fff" stroke="#00DDFF" stroke-width="1.0" stroke-linejoin="miter"/>
<polygon points="194.0,256.9 195.7,261.2 200.4,261.5 196.8,264.4 198.0,269.0 194.0,266.4 190.1,269.0 191.3,264.4 187.7,261.5 192.4,261.2" fill="#fff" stroke="#00DDFF" stroke-width="1.0" stroke-linejoin="miter"/>
<polygon points="198.3,256.8 200.0,261.2 204.7,261.5 201.0,264.4 202.3,269.0 198.3,266.4 194.4,269.0 195.6,264.4 191.9,261.5 196.6,261.2" fill="#fff" stroke="#00DDFF" stroke-width="1.0" stroke-linejoin="miter"/>
<polygon points="202.6,256.8 204.3,261.2 209.0,261.5 205.3,264.4 206.5,268.9 202.6,266.4 198.7,268.9 199.9,264.4 196.2,261.5 200.9,261.2" fill="#fff" stroke="#00DDFF" stroke-width="1.0" stroke-linejoin="miter"/>
<polygon points="206.9,256.8 208.5,261.2 213.2,261.4 209.6,264.4 210.8,268.9 206.9,266.4 202.9,268.9 204.1,264.4 200.5,261.4 205.2,261.2" fill="#fff" stroke="#00DDFF" stroke-width="1.0" stroke-linejoin="miter"/>
<polygon points="211.1,256.8 212.8,261.2 217.5,261.4 213.9,264.4 215.1,268.9 211.1,266.4 207.2,268.9 208.4,264.4 204.8,261.4 209.5,261.2" fill="#fff" stroke="#00DDFF" stroke-width="1.0" stroke-linejoin="miter"/>
<polygon points="215.4,256.7 217.1,261.0 221.8,261.3 218.1,264.2 219.4,268.8 215.4,266.2 211.5,268.8 212.7,264.2 209.0,261.3 213.7,261.0" fill="#fff" stroke="#00DDFF" stroke-width="1.0" stroke-linejoin="miter"/>
<polygon points="219.7,256.5 221.4,260.9 226.1,261.1 222.4,264.1 223.6,268.6 219.7,266.1 215.8,268.6 217.0,264.1 213.3,261.1 218.0,260.9" fill="#fff" stroke="#00DDFF" stroke-width="1.0" stroke-linejoin="miter"/>
<polygon points="224.0,256.3 225.7,260.7 230.3,261.0 226.7,263.9 227.9,268.5 224.0,265.9 220.0,268.5 221.3,263.9 217.6,261.0 222.3,260.7" fill="#fff" stroke="#00DDFF" stroke-width="1.0" stroke-linejoin="miter"/>
<polygon points="228.2,256.2 229.9,260.6 234.6,260.8 231.0,263.8 232.2,268.3 228.2,265.7 224.3,268.3 225.5,263.8 221.9,260.8 226.6,260.6" fill="#fff" stroke="#00DDFF" stroke-width="1.0" stroke-linejoin="miter"/>
<polygon points="232.5,256.0 234.2,260.4 238.9,260.6 235.2,263.6 236.5,268.1 232.5,265.6 228.6,268.1 229.8,263.6 226.2,260.6 230.8,260.4" fill="#fff" stroke="#00DDFF" stroke-width="1.0" stroke-linejoin="miter"/>
<polygon points="236.8,255.9 238.5,260.2 243.2,260.5 239.5,263.4 240.7,268.0 236.8,265.4 232.9,268.0 234.1,263.4 230.4,260.5 235.1,260.2" fill="#fff" stroke="#00DDFF" stroke-width="1.0" stroke-linejoin="miter"/>
<polygon points="241.1,255.7 242.8,260.1 247.5,260.3 243.8,263.3 245.0,267.8 241.1,265.3 237.1,267.8 238.4,263.3 234.7,260.3 239.4,260.1" fill="#fff" stroke="#00DDFF" stroke-width="1.0" stroke-linejoin="miter"/>
<polygon points="245.4,255.5 247.0,259.9 251.7,260.2 248.1,263.1 249.3,267.7 245.4,265.1 241.4,267.7 242.6,263.1 239.0,260.2 243.7,259.9" fill="#fff" stroke="#00DDFF" stroke-width="1.0" stroke-linejoin="miter"/>
<polygon points="249.6,255.4 251.3,259.8 256.0,260.0 252.4,263.0 253.6,267.5 249.6,264.9 245.7,267.5 246.9,263.0 243.3,260.0 248.0,259.8" fill="#fff" stroke="#00DDFF" stroke-width="1.0" stroke-linejoin="miter"/>
<polygon points="253.9,255.2 255.6,259.6 260.3,259.8 256.6,262.8 257.8,267.3 253.9,264.8 250.0,267.3 251.2,262.8 247.5,259.8 252.2,259.6" fill="#fff" stroke="#00DDFF" stroke-width="1.0" stroke-linejoin="miter"/>
<polygon points="258.2,255.0 259.9,259.4 264.6,259.7 260.9,262.6 262.1,267.2 258.2,264.6 254.2,267.2 255.5,262.6 251.8,259.7 256.5,259.4" fill="#fff" stroke="#00DDFF" stroke-width="1.0" stroke-linejoin="miter"/>
<polygon points="262.5,254.9 264.1,259.3 268.8,259.5 265.2,262.5 266.4,267.0 262.5,264.4 258.5,267.0 259.7,262.5 256.1,259.5 260.8,259.3" fill="#fff" stroke="#00DDFF" stroke-width="1.0" stroke-linejoin="miter"/>
<polygon points="266.7,254.7 268.4,259.1 273.1,259.3 269.5,262.3 270.7,266.8 266.7,264.3 262.8,266.8 264.0,262.3 260.4,259.3 265.1,259.1" fill="#fff" stroke="#00DDFF" stroke-width="1.0" stroke-linejoin="miter"/>
<polygon points="271.0,254.5 272.7,258.9 277.4,259.1 273.7,262.1 275.0,266.6 271.0,264.1 267.1,266.6 268.3,262.1 264.6,259.1 269.3,258.9" fill="#fff" stroke="#00DDFF" stroke-width="1.0" stroke-linejoin="miter"/>
<polygon points="275.3,254.3 277.0,258.7 281.7,259.0 278.0,261.9 279.2,266.4 275.3,263.9 271.4,266.4 272.6,261.9 268.9,259.0 273.6,258.7" fill="#fff" stroke="#00DDFF" stroke-width="1.0" stroke-linejoin="miter"/>
<polygon points="279.6,254.1 281.2,258.5 285.9,258.8 282.3,261.7 283.5,266.3 279.6,263.7 275.6,266.3 276.8,261.7 273.2,258.8 277.9,258.5" fill="#fff" stroke="#00DDFF" stroke-width="1.0" stroke-linejoin="miter"/>
<polygon points="283.8,253.9 285.5,258.3 290.2,258.6 286.6,261.5 287.8,266.1 283.8,263.5 279.9,266.1 281.1,261.5 277.5,258.6 282.2,258.3" fill="#fff" stroke="#00DDFF" stroke-width="1.0" stroke-linejoin="miter"/>
<polygon points="288.1,253.8 289.8,258.1 294.5,258.4 290.8,261.3 292.1,265.9 288.1,263.3 284.2,265.9 285.4,261.3 281.7,258.4 286.4,258.1" fill="#fff" stroke="#00DDFF" stroke-width="1.0" stroke-linejoin="miter"/>
<polygon points="292.4,253.6 294.1,258.0 298.8,258.2 295.1,261.2 296.3,265.7 292.4,263.1 288.5,265.7 289.7,261.2 286.0,258.2 290.7,258.0" fill="#fff" stroke="#00DDFF" stroke-width="1.0" stroke-linejoin="miter"/>
<polygon points="296.7,253.4 298.4,257.8 303.0,258.0 299.4,261.0 300.6,265.5 296.7,262.9 292.7,265.5 294.0,261.0 290.3,258.0 295.0,257.8" fill="#fff" stroke="#00DDFF" stroke-width="1.0" stroke-linejoin="miter"/>
<polygon points="301.0,253.2 302.6,257.6 307.3,257.8 303.7,260.8 304.9,265.3 301.0,262.8 297.0,265.3 298.2,260.8 294.6,257.8 299.3,257.6" fill="#fff" stroke="#00DDFF" stroke-width="1.0" stroke-linejoin="miter"/>
<polygon points="305.2,253.0 306.9,257.4 311.6,257.6 307.9,260.6 309.2,265.1 305.2,262.6 301.3,265.1 302.5,260.6 298.9,257.6 303.5,257.4" fill="#fff" stroke="#00DDFF" stroke-width="1.0" stroke-linejoin="miter"/>
<polygon points="309.5,252.8 311.2,257.2 315.9,257.4 312.2,260.4 313.4,264.9 309.5,262.4 305.6,264.9 306.8,260.4 303.1,257.4 307.8,257.2" fill="#fff" stroke="#00DDFF" stroke-width="1.0" stroke-linejoin="miter"/>
<polygon points="313.8,252.6 315.5,257.0 320.2,257.3 316.5,260.2 317.7,264.7 313.8,262.2 309.8,264.7 311.1,260.2 307.4,257.3 312.1,257.0" fill="#fff" stroke="#00DDFF" stroke-width="1.0" stroke-linejoin="miter"/>
<polygon points="318.1,252.4 319.7,256.8 324.4,257.1 320.8,260.0 322.0,264.6 318.1,262.0 314.1,264.6 315.3,260.0 311.7,257.1 316.4,256.8" fill="#fff" stroke="#00DDFF" stroke-width="1.0" stroke-linejoin="miter"/>
<polygon points="322.3,252.2 324.0,256.6 328.7,256.9 325.1,259.8 326.3,264.4 322.3,261.8 318.4,264.4 319.6,259.8 316.0,256.9 320.7,256.6" fill="#fff" stroke="#00DDFF" stroke-width="1.0" stroke-linejoin="miter"/>
<polygon points="326.6,252.1 328.3,256.4 333.0,256.7 329.3,259.6 330.5,264.2 326.6,261.6 322.7,264.2 323.9,259.6 320.2,256.7 324.9,256.4" fill="#fff" stroke="#00DDFF" stroke-width="1.0" stroke-linejoin="miter"/>
<polygon points="330.9,251.9 332.6,256.3 337.3,256.5 333.6,259.5 334.8,264.0 330.9,261.4 326.9,264.0 328.2,259.5 324.5,256.5 329.2,256.3" fill="#fff" stroke="#00DDFF" stroke-width="1.0" stroke-linejoin="miter"/>
<polygon points="335.2,251.7 336.8,256.1 341.5,256.3 337.9,259.3 339.1,263.8 335.2,261.3 331.2,263.8 332.4,259.3 328.8,256.3 333.5,256.1" fill="#fff" stroke="#00DDFF" stroke-width="1.0" stroke-linejoin="miter"/>
<polygon points="339.4,251.6 341.1,255.9 345.8,256.2 342.2,259.1 343.4,263.7 339.4,261.1 335.5,263.7 336.7,259.1 333.1,256.2 337.8,255.9" fill="#fff" stroke="#00DDFF" stroke-width="1.0" stroke-linejoin="miter"/>
<polygon points="343.7,251.4 345.4,255.8 350.1,256.0 346.4,259.0 347.7,263.5 343.7,260.9 339.8,263.5 341.0,259.0 337.3,256.0 342.0,255.8" fill="#fff" stroke="#00DDFF" stroke-width="1.0" stroke-linejoin="miter"/>
<polygon points="348.0,251.2 349.7,255.6 354.4,255.9 350.7,258.8 351.9,263.3 348.0,260.8 344.1,263.3 345.3,258.8 341.6,255.9 346.3,255.6" fill="#fff" stroke="#00DDFF" stroke-width="1.0" stroke-linejoin="miter"/>
<polygon points="352.3,251.1 353.9,255.4 358.6,255.7 355.0,258.6 356.2,263.2 352.3,260.6 348.3,263.2 349.5,258.6 345.9,255.7 350.6,255.4" fill="#fff" stroke="#00DDFF" stroke-width="1.0" stroke-linejoin="miter"/>
<polygon points="356.5,250.9 358.2,255.3 362.9,255.5 359.3,258.5 360.5,263.0 356.5,260.5 352.6,263.0 353.8,258.5 350.2,255.5 354.9,255.3" fill="#fff" stroke="#00DDFF" stroke-width="1.0" stroke-linejoin="miter"/>
<polygon points="360.8,250.7 362.5,255.1 367.2,255.4 363.5,258.3 364.8,262.9 360.8,260.3 356.9,262.9 358.1,258.3 354.4,255.4 359.1,255.1" fill="#fff" stroke="#00DDFF" stroke-width="1.0" stroke-linejoin="miter"/>
<polygon points="365.1,250.6 366.8,255.0 371.5,255.2 367.8,258.2 369.0,262.7 365.1,260.1 361.2,262.7 362.4,258.2 358.7,255.2 363.4,255.0" fill="#fff" stroke="#00DDFF" stroke-width="1.0" stroke-linejoin="miter"/>
<polygon points="369.4,250.4 371.1,254.8 375.7,255.0 372.1,258.0 373.3,262.5 369.4,260.0 365.4,262.5 366.7,258.0 363.0,255.0 367.7,254.8" fill="#fff" stroke="#00DDFF" stroke-width="1.0" stroke-linejoin="miter"/>
<polygon points="373.7,250.2 375.3,254.6 380.0,254.9 376.4,257.8 377.6,262.4 373.7,259.8 369.7,262.4 370.9,257.8 367.3,254.9 372.0,254.6" fill="#fff" stroke="#00DDFF" stroke-width="1.0" stroke-linejoin="miter"/>
<polygon points="377.9,250.1 379.6,254.5 384.3,254.7 380.6,257.7 381.9,262.2 377.9,259.6 374.0,262.2 375.2,257.7 371.6,254.7 376.2,254.5" fill="#fff" stroke="#00DDFF" stroke-width="1.0" stroke-linejoin="miter"/>
<polygon points="382.2,249.9 383.9,254.3 388.6,254.5 384.9,257.5 386.1,262.0 382.2,259.5 378.3,262.0 379.5,257.5 375.8,254.5 380.5,254.3" fill="#fff" stroke="#00DDFF" stroke-width="1.0" stroke-linejoin="miter"/>
<polygon points="386.5,249.8 388.2,254.1 392.9,254.4 389.2,257.3 390.4,261.9 386.5,259.3 382.5,261.9 383.8,257.3 380.1,254.4 384.8,254.1" fill="#fff" stroke="#00DDFF" stroke-width="1.0" stroke-linejoin="miter"/>
<polygon points="390.8,249.6 392.4,254.0 397.1,254.2 393.5,257.2 394.7,261.7 390.8,259.2 386.8,261.7 388.0,257.2 384.4,254.2 389.1,254.0" fill="#fff" stroke="#00DDFF" stroke-width="1.0" stroke-linejoin="miter"/>
<polygon points="395.0,249.4 396.7,253.8 401.4,254.1 397.8,257.0 399.0,261.5 395.0,259.0 391.1,261.5 392.3,257.0 388.7,254.1 393.4,253.8" fill="#fff" stroke="#00DDFF" stroke-width="1.0" stroke-linejoin="miter"/>
<polygon points="399.3,249.3 401.0,253.7 405.7,253.9 402.0,256.8 403.2,261.4 399.3,258.8 395.4,261.4 396.6,256.8 392.9,253.9 397.6,253.7" fill="#fff" stroke="#00DDFF" stroke-width="1.0" stroke-linejoin="miter"/>
<polygon points="403.6,249.1 405.3,253.5 410.0,253.8 406.3,256.7 407.5,261.2 403.6,258.7 399.6,261.2 400.9,256.7 397.2,253.8 401.9,253.5" fill="#fff" stroke="#00DDFF" stroke-width="1.0" stroke-linejoin="miter"/>
<polygon points="407.9,249.0 409.5,253.4 414.2,253.6 410.6,256.6 411.8,261.1 407.9,258.6 403.9,261.1 405.1,256.6 401.5,253.6 406.2,253.4" fill="#fff" stroke="#00DDFF" stroke-width="1.0" stroke-linejoin="miter"/>
<polygon points="412.1,248.9 413.8,253.3 418.5,253.5 414.9,256.4 416.1,261.0 412.1,258.4 408.2,261.0 409.4,256.4 405.8,253.5 410.5,253.3" fill="#fff" stroke="#00DDFF" stroke-width="1.0" stroke-linejoin="miter"/>
<polygon points="416.4,248.7 418.1,253.1 422.8,253.4 419.1,256.3 420.4,260.9 416.4,258.3 412.5,260.9 413.7,256.3 410.0,253.4 414.7,253.1" fill="#fff" stroke="#00DDFF" stroke-width="1.0" stroke-linejoin="miter"/>
<polygon points="420.7,248.6 422.4,253.0 427.1,253.2 423.4,256.2 424.6,260.7 420.7,258.2 416.8,260.7 418.0,256.2 414.3,253.2 419.0,253.0" fill="#fff" stroke="#00DDFF" stroke-width="1.0" stroke-linejoin="miter"/>
<polygon points="425.0,248.5 426.7,252.9 431.3,253.1 427.7,256.1 428.9,260.6 425.0,258.0 421.0,260.6 422.2,256.1 418.6,253.1 423.3,252.9" fill="#fff" stroke="#00DDFF" stroke-width="1.0" stroke-linejoin="miter"/>
<polygon points="429.2,248.3 430.9,252.7 435.6,253.0 432.0,255.9 433.2,260.5 429.2,257.9 425.3,260.5 426.5,255.9 422.9,253.0 427.6,252.7" fill="#fff" stroke="#00DDFF" stroke-width="1.0" stroke-linejoin="miter"/>
<polygon points="433.5,248.2 435.2,252.6 439.9,252.8 436.2,255.8 437.5,260.3 433.5,257.8 429.6,260.3 430.8,255.8 427.2,252.8 431.8,252.6" fill="#fff" stroke="#00DDFF" stroke-width="1.0" stroke-linejoin="miter"/>
<polygon points="437.8,248.1 439.5,252.5 444.2,252.7 440.5,255.7 441.7,260.2 437.8,257.6 433.9,260.2 435.1,255.7 431.4,252.7 436.1,252.5" fill="#fff" stroke="#00DDFF" stroke-width="1.0" stroke-linejoin="miter"/>
<polygon points="442.1,247.9 443.8,252.3 448.4,252.6 444.8,255.5 446.0,260.1 442.1,257.5 438.1,260.1 439.4,255.5 435.7,252.6 440.4,252.3" fill="#fff" stroke="#00DDFF" stroke-width="1.0" stroke-linejoin="miter"/>
<polygon points="446.4,247.8 448.0,252.2 452.7,252.4 449.1,255.4 450.3,259.9 446.4,257.4 442.4,259.9 443.6,255.4 440.0,252.4 444.7,252.2" fill="#fff" stroke="#00DDFF" stroke-width="1.0" stroke-linejoin="miter"/>
<polygon points="450.6,247.7 452.3,252.1 457.0,252.3 453.3,255.3 454.6,259.8 450.6,257.2 446.7,259.8 447.9,255.3 444.3,252.3 448.9,252.1" fill="#fff" stroke="#00DDFF" stroke-width="1.0" stroke-linejoin="miter"/>
<polygon points="454.9,247.6 456.6,251.9 461.3,252.2 457.6,255.1 458.8,259.7 454.9,257.1 451.0,259.7 452.2,255.1 448.5,252.2 453.2,251.9" fill="#fff" stroke="#00DDFF" stroke-width="1.0" stroke-linejoin="miter"/>
<polygon points="459.2,247.4 460.9,251.8 465.6,252.1 461.9,255.0 463.1,259.5 459.2,257.0 455.2,259.5 456.5,255.0 452.8,252.1 457.5,251.8" fill="#fff" stroke="#00DDFF" stroke-width="1.0" stroke-linejoin="miter"/>
<polygon points="463.5,247.3 465.1,251.7 469.8,251.9 466.2,254.9 467.4,259.4 463.5,256.9 459.5,259.4 460.7,254.9 457.1,251.9 461.8,251.7" fill="#fff" stroke="#00DDFF" stroke-width="1.0" stroke-linejoin="miter"/>
<polygon points="467.7,247.2 469.4,251.5 474.1,251.8 470.5,254.7 471.7,259.3 467.7,256.7 463.8,259.3 465.0,254.7 461.4,251.8 466.1,251.5" fill="#fff" stroke="#00DDFF" stroke-width="1.0" stroke-linejoin="miter"/>
<polygon points="472.0,247.0 473.7,251.4 478.4,251.7 474.7,254.6 475.9,259.2 472.0,256.6 468.1,259.2 469.3,254.6 465.6,251.7 470.3,251.4" fill="#fff" stroke="#00DDFF" stroke-width="1.0" stroke-linejoin="miter"/>
<polygon points="476.3,246.9 478.0,251.3 482.7,251.5 479.0,254.5 480.2,259.0 476.3,256.5 472.3,259.0 473.6,254.5 469.9,251.5 474.6,251.3" fill="#fff" stroke="#00DDFF" stroke-width="1.0" stroke-linejoin="miter"/>
<polygon points="480.6,246.6 482.2,251.0 486.9,251.3 483.3,254.2 484.5,258.7 480.6,256.2 476.6,258.7 477.8,254.2 474.2,251.3 478.9,251.0" fill="#fff" stroke="#00DDFF" stroke-width="1.0" stroke-linejoin="miter"/>
<polygon points="484.8,246.0 486.5,250.3 491.2,250.6 487.6,253.5 488.8,258.1 484.8,255.5 480.9,258.1 482.1,253.5 478.5,250.6 483.2,250.3" fill="#fff" stroke="#00DDFF" stroke-width="1.0" stroke-linejoin="miter"/>
<polygon points="489.1,245.3 490.8,249.7 495.5,249.9 491.8,252.9 493.1,257.4 489.1,254.8 485.2,257.4 486.4,252.9 482.7,249.9 487.4,249.7" fill="#fff" stroke="#00DDFF" stroke-width="1.0" stroke-linejoin="miter"/>
<polygon points="493.4,244.6 495.1,249.0 499.8,249.2 496.1,252.2 497.3,256.7 493.4,254.2 489.5,256.7 490.7,252.2 487.0,249.2 491.7,249.0" fill="#fff" stroke="#00DDFF" stroke-width="1.0" stroke-linejoin="miter"/>
<polygon points="497.7,243.9 499.4,248.3 504.0,248.6 500.4,251.5 501.6,256.1 497.7,253.5 493.7,256.1 495.0,251.5 491.3,248.6 496.0,248.3" fill="#fff" stroke="#00DDFF" stroke-width="1.0" stroke-linejoin="miter"/>
<polygon points="501.9,243.2 503.6,247.6 508.3,247.8 504.7,250.8 505.9,255.3 501.9,252.7 498.0,255.3 499.2,250.8 495.6,247.8 500.3,247.6" fill="#fff" stroke="#00DDFF" stroke-width="1.0" stroke-linejoin="miter"/>
<polygon points="506.2,242.3 507.9,246.7 512.6,246.9 508.9,249.9 510.2,254.4 506.2,251.8 502.3,254.4 503.5,249.9 499.9,246.9 504.5,246.7" fill="#fff" stroke="#00DDFF" stroke-width="1.0" stroke-linejoin="miter"/>
<polygon points="510.5,241.4 512.2,245.8 516.9,246.0 513.2,249.0 514.4,253.5 510.5,251.0 506.6,253.5 507.8,249.0 504.1,246.0 508.8,245.8" fill="#fff" stroke="#00DDFF" stroke-width="1.0" stroke-linejoin="miter"/>
<polygon points="514.8,240.5 516.5,244.9 521.1,245.1 517.5,248.1 518.7,252.6 514.8,250.1 510.8,252.6 512.1,248.1 508.4,245.1 513.1,244.9" fill="#fff" stroke="#00DDFF" stroke-width="1.0" stroke-linejoin="miter"/>
<polygon points="519.1,239.6 520.7,244.0 525.4,244.2 521.8,247.2 523.0,251.7 519.1,249.2 515.1,251.7 516.3,247.2 512.7,244.2 517.4,244.0" fill="#fff" stroke="#00DDFF" stroke-width="1.0" stroke-linejoin="miter"/>
<polygon points="523.3,238.7 525.0,243.1 529.7,243.3 526.1,246.3 527.3,250.8 523.3,248.2 519.4,250.8 520.6,246.3 517.0,243.3 521.6,243.1" fill="#fff" stroke="#00DDFF" stroke-width="1.0" stroke-linejoin="miter"/>
<polygon points="527.6,237.7 529.3,242.1 534.0,242.4 530.3,245.3 531.5,249.8 527.6,247.3 523.7,249.8 524.9,245.3 521.2,242.4 525.9,242.1" fill="#fff" stroke="#00DDFF" stroke-width="1.0" stroke-linejoin="miter"/>
<polygon points="531.9,236.8 533.6,241.2 538.3,241.4 534.6,244.3 535.8,248.9 531.9,246.3 527.9,248.9 529.2,244.3 525.5,241.4 530.2,241.2" fill="#fff" stroke="#00DDFF" stroke-width="1.0" stroke-linejoin="miter"/>
<polygon points="536.2,235.8 537.8,240.2 542.5,240.4 538.9,243.4 540.1,247.9 536.2,245.4 532.2,247.9 533.4,243.4 529.8,240.4 534.5,240.2" fill="#fff" stroke="#00DDFF" stroke-width="1.0" stroke-linejoin="miter"/>
<polygon points="540.4,234.9 542.1,239.2 546.8,239.5 543.2,242.4 544.4,247.0 540.4,244.4 536.5,247.0 537.7,242.4 534.1,239.5 538.8,239.2" fill="#fff" stroke="#00DDFF" stroke-width="1.0" stroke-linejoin="miter"/>
<polygon points="544.7,233.9 546.4,238.3 551.1,238.5 547.4,241.5 548.7,246.0 544.7,243.5 540.8,246.0 542.0,241.5 538.3,238.5 543.0,238.3" fill="#fff" stroke="#00DDFF" stroke-width="1.0" stroke-linejoin="miter"/>
<polygon points="549.0,232.8 550.7,237.2 555.4,237.5 551.7,240.4 552.9,244.9 549.0,242.4 545.1,244.9 546.3,240.4 542.6,237.5 547.3,237.2" fill="#fff" stroke="#00DDFF" stroke-width="1.0" stroke-linejoin="miter"/>
<polygon points="553.3,231.7 554.9,236.1 559.6,236.4 556.0,239.3 557.2,243.9 553.3,241.3 549.3,243.9 550.5,239.3 546.9,236.4 551.6,236.1" fill="#fff" stroke="#00DDFF" stroke-width="1.0" stroke-linejoin="miter"/>
<polygon points="557.5,229.3 559.2,233.7 563.9,234.0 560.3,236.9 561.5,241.5 557.5,238.9 553.6,241.5 554.8,236.9 551.2,234.0 555.9,233.7" fill="#fff" stroke="#00DDFF" stroke-width="1.0" stroke-linejoin="miter"/>
<polygon points="561.8,226.9 563.5,231.3 568.2,231.6 564.5,234.5 565.8,239.0 561.8,236.5 557.9,239.0 559.1,234.5 555.4,231.6 560.1,231.3" fill="#fff" stroke="#00DDFF" stroke-width="1.0" stroke-linejoin="miter"/>
<polygon points="568.7,219.9 570.4,224.3 575.1,224.6 571.4,227.5 572.6,232.1 568.7,229.5 564.7,232.1 566.0,227.5 562.3,224.6 567.0,224.3" fill="#fff" stroke="#00DDFF" stroke-width="1.0" stroke-linejoin="miter"/>
<polygon points="573.8,213.5 575.5,217.9 580.2,218.1 576.6,221.1 577.8,225.6 573.8,223.1 569.9,225.6 571.1,221.1 567.5,218.1 572.2,217.9" fill="#fff" stroke="#00DDFF" stroke-width="1.0" stroke-linejoin="miter"/>
<polygon points="577.3,206.5 579.0,210.9 583.6,211.1 580.0,214.1 581.2,218.6 577.3,216.1 573.3,218.6 574.6,214.1 570.9,211.1 575.6,210.9" fill="#fff" stroke="#00DDFF" stroke-width="1.0" stroke-linejoin="miter"/>
<polygon points="580.7,199.5 582.4,203.9 587.1,204.2 583.4,207.1 584.6,211.7 580.7,209.1 576.8,211.7 578.0,207.1 574.3,204.2 579.0,203.9" fill="#fff" stroke="#00DDFF" stroke-width="1.0" stroke-linejoin="miter"/>
<polygon points="584.1,193.1 585.8,197.5 590.5,197.7 586.9,200.7 588.1,205.2 584.1,202.6 580.2,205.2 581.4,200.7 577.8,197.7 582.5,197.5" fill="#fff" stroke="#00DDFF" stroke-width="1.0" stroke-linejoin="miter"/>
<polygon points="587.6,186.1 589.3,190.5 593.9,190.7 590.3,193.7 591.5,198.2 587.6,195.7 583.6,198.2 584.9,193.7 581.2,190.7 585.9,190.5" fill="#fff" stroke="#00DDFF" stroke-width="1.0" stroke-linejoin="miter"/>
<polygon points="590.8,179.7 592.5,184.0 597.2,184.3 593.6,187.2 594.8,191.8 590.8,189.2 586.9,191.8 588.1,187.2 584.5,184.3 589.2,184.0" fill="#fff" stroke="#00DDFF" stroke-width="1.0" stroke-linejoin="miter"/>
<polygon points="594.3,172.7 595.9,177.1 600.6,177.3 597.0,180.3 598.2,184.8 594.3,182.2 590.3,184.8 591.5,180.3 587.9,177.3 592.6,177.1" fill="#fff" stroke="#00DDFF" stroke-width="1.0" stroke-linejoin="miter"/>
<polygon points="597.7,164.1 599.4,168.5 604.1,168.7 600.4,171.7 601.6,176.2 597.7,173.6 593.8,176.2 595.0,171.7 591.3,168.7 596.0,168.5" fill="#fff" stroke="#00DDFF" stroke-width="1.0" stroke-linejoin="miter"/>
<polygon points="600.3,150.1 602.0,154.5 606.6,154.7 603.0,157.7 604.2,162.2 600.3,159.7 596.3,162.2 597.6,157.7 593.9,154.7 598.6,154.5" fill="#fff" stroke="#00DDFF" stroke-width="1.0" stroke-linejoin="miter"/>
<polygon points="602.9,134.0 604.5,138.4 609.2,138.6 605.6,141.6 606.8,146.1 602.9,143.5 598.9,146.1 600.1,141.6 596.5,138.6 601.2,138.4" fill="#fff" stroke="#00DDFF" stroke-width="1.0" stroke-linejoin="miter"/>
<polygon points="606.8,97.5 608.5,101.8 613.2,102.1 609.5,105.0 610.7,109.6 606.8,107.0 602.9,109.6 604.1,105.0 600.4,102.1 605.1,101.8" fill="#fff" stroke="#00DDFF" stroke-width="1.0" stroke-linejoin="miter"/>
<polygon points="610.9,79.2 612.6,83.6 617.3,83.8 613.6,86.8 614.9,91.3 610.9,88.8 607.0,91.3 608.2,86.8 604.5,83.8 609.2,83.6" fill="#fff" stroke="#00DDFF" stroke-width="1.0" stroke-linejoin="miter"/>
<polygon points="615.6,70.6 617.2,75.0 621.9,75.2 618.3,78.2 619.5,82.7 615.6,80.2 611.6,82.7 612.8,78.2 609.2,75.2 613.9,75.0" fill="#fff" stroke="#00DDFF" stroke-width="1.0" stroke-linejoin="miter"/>
<polygon points="620.2,63.1 621.9,67.5 626.6,67.7 622.9,70.7 624.1,75.2 620.2,72.6 616.3,75.2 617.5,70.7 613.8,67.7 618.5,67.5" fill="#fff" stroke="#00DDFF" stroke-width="1.0" stroke-linejoin="miter"/>
<polygon points="624.5,55.0 626.2,59.4 630.9,59.6 627.2,62.6 628.4,67.1 624.5,64.6 620.5,67.1 621.8,62.6 618.1,59.6 622.8,59.4" fill="#fff" stroke="#00DDFF" stroke-width="1.0" stroke-linejoin="miter"/>
<polygon points="629.6,50.2 631.3,54.6 636.0,54.8 632.4,57.8 633.6,62.3 629.6,59.7 625.7,62.3 626.9,57.8 623.3,54.8 628.0,54.6" fill="#fff" stroke="#00DDFF" stroke-width="1.0" stroke-linejoin="miter"/>
<polygon points="634.8,48.0 636.5,52.4 641.2,52.7 637.5,55.6 638.7,60.2 634.8,57.6 630.8,60.2 632.1,55.6 628.4,52.7 633.1,52.4" fill="#fff" stroke="#00DDFF" stroke-width="1.0" stroke-linejoin="miter"/>
<polygon points="639.2,47.2 640.9,51.6 645.6,51.9 641.9,54.8 643.1,59.4 639.2,56.8 635.3,59.4 636.5,54.8 632.8,51.9 637.5,51.6" fill="#fff" stroke="#00DDFF" stroke-width="1.0" stroke-linejoin="miter"/>
<polygon points="643.6,46.8 645.3,51.2 650.0,51.4 646.4,54.4 647.6,58.9 643.6,56.3 639.7,58.9 640.9,54.4 637.3,51.4 642.0,51.2" fill="#fff" stroke="#00DDFF" stroke-width="1.0" stroke-linejoin="miter"/>
<polygon points="648.1,46.5 649.7,50.9 654.4,51.1 650.8,54.1 652.0,58.6 648.1,56.1 644.1,58.6 645.3,54.1 641.7,51.1 646.4,50.9" fill="#fff" stroke="#00DDFF" stroke-width="1.0" stroke-linejoin="miter"/>
<polygon points="652.5,46.2 654.2,50.6 658.9,50.9 655.2,53.8 656.4,58.3 652.5,55.8 648.5,58.3 649.8,53.8 646.1,50.9 650.8,50.6" fill="#fff" stroke="#00DDFF" stroke-width="1.0" stroke-linejoin="miter"/>
<polygon points="656.9,46.0 658.6,50.3 663.3,50.6 659.6,53.5 660.8,58.1 656.9,55.5 653.0,58.1 654.2,53.5 650.5,50.6 655.2,50.3" fill="#fff" stroke="#00DDFF" stroke-width="1.0" stroke-linejoin="miter"/>
<polygon points="661.3,45.7 663.0,50.1 667.7,50.3 664.1,53.3 665.3,57.8 661.3,55.2 657.4,57.8 658.6,53.3 655.0,50.3 659.6,50.1" fill="#fff" stroke="#00DDFF" stroke-width="1.0" stroke-linejoin="miter"/>
<polygon points="665.8,45.4 667.4,49.8 672.1,50.0 668.5,53.0 669.7,57.5 665.8,55.0 661.8,57.5 663.0,53.0 659.4,50.0 664.1,49.8" fill="#fff" stroke="#00DDFF" stroke-width="1.0" stroke-linejoin="miter"/>
<polygon points="670.2,45.1 671.9,49.5 676.6,49.7 672.9,52.7 674.1,57.2 670.2,54.7 666.2,57.2 667.5,52.7 663.8,49.7 668.5,49.5" fill="#fff" stroke="#00DDFF" stroke-width="1.0" stroke-linejoin="miter"/>
<polygon points="674.6,44.8 676.3,49.2 681.0,49.5 677.3,52.4 678.5,57.0 674.6,54.4 670.7,57.0 671.9,52.4 668.2,49.5 672.9,49.2" fill="#fff" stroke="#00DDFF" stroke-width="1.0" stroke-linejoin="miter"/>
<polygon points="679.0,44.6 680.7,49.0 685.4,49.2 681.7,52.1 683.0,56.7 679.0,54.1 675.1,56.7 676.3,52.1 672.7,49.2 677.3,49.0" fill="#fff" stroke="#00DDFF" stroke-width="1.0" stroke-linejoin="miter"/>
<polygon points="683.5,44.3 685.1,48.7 689.8,48.9 686.2,51.9 687.4,56.4 683.5,53.8 679.5,56.4 680.7,51.9 677.1,48.9 681.8,48.7" fill="#fff" stroke="#00DDFF" stroke-width="1.0" stroke-linejoin="miter"/>
<polygon points="687.9,44.0 689.6,48.4 694.2,48.6 690.6,51.6 691.8,56.1 687.9,53.6 683.9,56.1 685.2,51.6 681.5,48.6 686.2,48.4" fill="#fff" stroke="#00DDFF" stroke-width="1.0" stroke-linejoin="miter"/>
<polygon points="692.3,43.7 694.0,48.1 698.7,48.4 695.0,51.3 696.2,55.9 692.3,53.3 688.4,55.9 689.6,51.3 685.9,48.4 690.6,48.1" fill="#fff" stroke="#00DDFF" stroke-width="1.0" stroke-linejoin="miter"/>
<polygon points="91.4,491.3 98.6,498.5 91.4,505.7 84.2,498.5" fill="#000000"/>
<polygon points="95.6,490.8 102.8,498.0 95.6,505.2 88.4,498.0" fill="#000000"/>
<polygon points="99.9,490.3 107.1,497.5 99.9,504.7 92.7,497.5" fill="#000000"/>
<polygon points="104.1,489.8 111.3,497.0 104.1,504.2 96.9,497.0" fill="#000000"/>
<polygon points="108.3,489.3 115.5,496.5 108.3,503.7 101.1,496.5" fill="#000000"/>
<polygon points="112.5,488.9 119.7,496.1 112.5,503.3 105.3,496.1" fill="#000000"/>
<polygon points="116.8,488.4 124.0,495.6 116.8,502.8 109.6,495.6" fill="#000000"/>
<polygon points="121.0,487.9 128.2,495.1 121.0,502.3 113.8,495.1" fill="#000000"/>
<polygon points="125.2,487.4 132.4,494.6 125.2,501.8 118.0,494.6" fill="#000000"/>
<polygon points="129.4,486.9 136.6,494.1 129.4,501.3 122.2,494.1" fill="#000000"/>
<polygon points="133.7,486.5 140.9,493.7 133.7,500.9 126.5,493.7" fill="#000000"/>
<polygon points="137.9,486.0 145.1,493.2 137.9,500.4 130.7,493.2" fill="#000000"/>
<polygon points="142.1,484.6 149.3,491.8 142.1,499.0 134.9,491.8" fill="#000000"/>
<polygon points="146.4,483.2 153.6,490.4 146.4,497.6 139.2,490.4" fill="#000000"/>
<polygon points="150.6,481.7 157.8,488.9 150.6,496.1 143.4,488.9" fill="#000000"/>
<polygon points="154.8,480.3 162.0,487.5 154.8,494.7 147.6,487.5" fill="#000000"/>
<polygon points="159.0,478.8 166.2,486.0 159.0,493.2 151.8,486.0" fill="#000000"/>
<polygon points="163.3,477.4 170.5,484.6 163.3,491.8 156.1,484.6" fill="#000000"/>
<polygon points="167.5,475.9 174.7,483.1 167.5,490.3 160.3,483.1" fill="#000000"/>
<polygon points="171.7,474.5 178.9,481.7 171.7,488.9 164.5,481.7" fill="#000000"/>
<polygon points="175.9,472.5 183.1,479.7 175.9,486.9 168.7,479.7" fill="#000000"/>
<polygon points="180.2,470.4 187.4,477.6 180.2,484.8 173.0,477.6" fill="#000000"/>
<polygon points="184.4,468.2 191.6,475.4 184.4,482.6 177.2,475.4" fill="#000000"/>
<polygon points="188.6,466.1 195.8,473.3 188.6,480.5 181.4,473.3" fill="#000000"/>
<polygon points="192.8,463.9 200.0,471.1 192.8,478.3 185.6,471.1" fill="#000000"/>
<polygon points="197.1,461.8 204.3,469.0 197.1,476.2 189.9,469.0" fill="#000000"/>
<polygon points="201.3,459.7 208.5,466.9 201.3,474.1 194.1,466.9" fill="#000000"/>
<polygon points="205.5,457.5 212.7,464.7 205.5,471.9 198.3,464.7" fill="#000000"/>
<polygon points="209.8,453.5 217.0,460.7 209.8,467.9 202.6,460.7" fill="#000000"/>
<polygon points="214.0,448.6 221.2,455.8 214.0,463.0 206.8,455.8" fill="#000000"/>
<polygon points="219.3,281.1 226.5,288.3 219.3,295.5 212.1,288.3" fill="#000000"/>
<polygon points="223.6,249.9 230.8,257.1 223.6,264.3 216.4,257.1" fill="#000000"/>
<polygon points="227.9,193.7 235.1,200.9 227.9,208.1 220.7,200.9" fill="#000000"/>
<polygon points="232.2,153.3 239.4,160.5 232.2,167.7 225.0,160.5" fill="#000000"/>
<polygon points="236.5,40.0 243.7,47.2 236.5,54.4 229.3,47.2" fill="#000000"/>
<polygon points="240.8,37.1 248.0,44.3 240.8,51.5 233.6,44.3" fill="#000000"/>
<polygon points="245.1,35.0 252.3,42.2 245.1,49.4 237.9,42.2" fill="#000000"/>
<polygon points="249.4,33.4 256.6,40.6 249.4,47.8 242.2,40.6" fill="#000000"/>
<polygon points="253.7,32.6 260.9,39.8 253.7,47.0 246.5,39.8" fill="#000000"/>
<polygon points="258.0,31.7 265.2,38.9 258.0,46.1 250.8,38.9" fill="#000000"/>
<polygon points="262.3,30.9 269.5,38.1 262.3,45.3 255.1,38.1" fill="#000000"/>
<polygon points="266.6,30.4 273.8,37.6 266.6,44.8 259.4,37.6" fill="#000000"/>
<polygon points="270.9,29.9 278.1,37.1 270.9,44.3 263.7,37.1" fill="#000000"/>
<polygon points="275.2,29.4 282.4,36.6 275.2,43.8 268.0,36.6" fill="#000000"/>
<polygon points="279.5,28.9 286.7,36.1 279.5,43.3 272.3,36.1" fill="#000000"/>
<polygon points="283.8,28.4 291.0,35.6 283.8,42.8 276.6,35.6" fill="#000000"/>
<polygon points="288.1,27.9 295.3,35.1 288.1,42.3 280.9,35.1" fill="#000000"/>
<polygon points="292.4,27.6 299.6,34.8 292.4,42.0 285.2,34.8" fill="#000000"/>
<polygon points="296.7,27.2 303.9,34.4 296.7,41.6 289.5,34.4" fill="#000000"/>
<polygon points="301.0,26.8 308.2,34.0 301.0,41.2 293.8,34.0" fill="#000000"/>
<polygon points="305.3,26.5 312.5,33.7 305.3,40.9 298.1,33.7" fill="#000000"/>
<polygon points="309.6,26.1 316.8,33.3 309.6,40.5 302.4,33.3" fill="#000000"/>
<polygon points="313.9,25.7 321.1,32.9 313.9,40.1 306.7,32.9" fill="#000000"/>
<polygon points="318.2,25.4 325.4,32.6 318.2,39.8 311.0,32.6" fill="#000000"/>
<polygon points="322.5,25.3 329.7,32.5 322.5,39.7 315.3,32.5" fill="#000000"/>
<polygon points="326.8,25.2 334.0,32.4 326.8,39.6 319.6,32.4" fill="#000000"/>
<polygon points="331.1,25.0 338.3,32.2 331.1,39.4 323.9,32.2" fill="#000000"/>
<polygon points="335.4,24.9 342.6,32.1 335.4,39.3 328.2,32.1" fill="#000000"/>
<polygon points="339.7,24.8 346.9,32.0 339.7,39.2 332.5,32.0" fill="#000000"/>
<polygon points="344.0,24.7 351.2,31.9 344.0,39.1 336.8,31.9" fill="#000000"/>
<polygon points="348.3,24.6 355.5,31.8 348.3,39.0 341.1,31.8" fill="#000000"/>
<polygon points="352.6,24.5 359.8,31.7 352.6,38.9 345.4,31.7" fill="#000000"/>
<polygon points="356.9,24.5 364.1,31.7 356.9,38.9 349.7,31.7" fill="#000000"/>
<polygon points="361.2,24.5 368.4,31.7 361.2,38.9 354.0,31.7" fill="#000000"/>
<polygon points="365.5,24.5 372.7,31.7 365.5,38.9 358.3,31.7" fill="#000000"/>
<polygon points="369.8,24.4 377.0,31.6 369.8,38.8 362.6,31.6" fill="#000000"/>
<polygon points="374.1,24.4 381.3,31.6 374.1,38.8 366.9,31.6" fill="#000000"/>
<polygon points="378.4,24.4 385.6,31.6 378.4,38.8 371.2,31.6" fill="#000000"/>
<polygon points="382.7,24.4 389.9,31.6 382.7,38.8 375.5,31.6" fill="#000000"/>
<polygon points="387.0,24.4 394.2,31.6 387.0,38.8 379.8,31.6" fill="#000000"/>
<polygon points="391.3,24.4 398.5,31.6 391.3,38.8 384.1,31.6" fill="#000000"/>
<polygon points="395.6,24.3 402.8,31.5 395.6,38.7 388.4,31.5" fill="#000000"/>
<polygon points="399.9,24.3 407.1,31.5 399.9,38.7 392.7,31.5" fill="#000000"/>
<polygon points="404.2,24.3 411.4,31.5 404.2,38.7 397.0,31.5" fill="#000000"/>
<polygon points="408.5,24.3 415.7,31.5 408.5,38.7 401.3,31.5" fill="#000000"/>
<polygon points="412.8,24.3 420.0,31.5 412.8,38.7 405.6,31.5" fill="#000000"/>
<polygon points="417.1,24.2 424.3,31.4 417.1,38.6 409.9,31.4" fill="#000000"/>
<polygon points="421.4,24.2 428.6,31.4 421.4,38.6 414.2,31.4" fill="#000000"/>
<polygon points="425.7,24.2 432.9,31.4 425.7,38.6 418.5,31.4" fill="#000000"/>
<polygon points="430.0,24.2 437.2,31.4 430.0,38.6 422.8,31.4" fill="#000000"/>
<polygon points="434.3,24.2 441.5,31.4 434.3,38.6 427.1,31.4" fill="#000000"/>
<polygon points="438.6,24.2 445.8,31.4 438.6,38.6 431.4,31.4" fill="#000000"/>
<polygon points="442.9,24.1 450.1,31.3 442.9,38.5 435.7,31.3" fill="#000000"/>
<polygon points="447.2,24.1 454.4,31.3 447.2,38.5 440.0,31.3" fill="#000000"/>
<polygon points="451.5,24.1 458.7,31.3 451.5,38.5 444.3,31.3" fill="#000000"/>
<polygon points="455.8,24.1 463.0,31.3 455.8,38.5 448.6,31.3" fill="#000000"/>
<polygon points="460.1,24.1 467.3,31.3 460.1,38.5 452.9,31.3" fill="#000000"/>
<polygon points="464.4,24.1 471.6,31.3 464.4,38.5 457.2,31.3" fill="#000000"/>
<polygon points="468.7,24.1 475.9,31.3 468.7,38.5 461.5,31.3" fill="#000000"/>
<polygon points="473.0,24.1 480.2,31.3 473.0,38.5 465.8,31.3" fill="#000000"/>
<polygon points="477.3,24.1 484.5,31.3 477.3,38.5 470.1,31.3" fill="#000000"/>
<polygon points="481.6,24.1 488.8,31.3 481.6,38.5 474.4,31.3" fill="#000000"/>
<polygon points="485.9,24.1 493.1,31.3 485.9,38.5 478.7,31.3" fill="#000000"/>
<polygon points="490.2,24.1 497.4,31.3 490.2,38.5 483.0,31.3" fill="#000000"/>
<polygon points="494.5,24.1 501.7,31.3 494.5,38.5 487.3,31.3" fill="#000000"/>
<polygon points="498.8,24.0 506.0,31.2 498.8,38.4 491.6,31.2" fill="#000000"/>
<polygon points="503.1,24.0 510.3,31.2 503.1,38.4 495.9,31.2" fill="#000000"/>
<polygon points="507.4,24.0 514.6,31.2 507.4,38.4 500.2,31.2" fill="#000000"/>
<polygon points="511.7,24.0 518.9,31.2 511.7,38.4 504.5,31.2" fill="#000000"/>
<polygon points="516.0,24.0 523.2,31.2 516.0,38.4 508.8,31.2" fill="#000000"/>
<polygon points="520.3,24.0 527.5,31.2 520.3,38.4 513.1,31.2" fill="#000000"/>
<polygon points="524.6,24.0 531.8,31.2 524.6,38.4 517.4,31.2" fill="#000000"/>
<polygon points="528.9,24.1 536.1,31.3 528.9,38.5 521.7,31.3" fill="#000000"/>
<polygon points="533.2,24.1 540.4,31.3 533.2,38.5 526.0,31.3" fill="#000000"/>
<polygon points="537.5,24.1 544.7,31.3 537.5,38.5 530.3,31.3" fill="#000000"/>
<polygon points="541.8,24.1 549.0,31.3 541.8,38.5 534.6,31.3" fill="#000000"/>
<polygon points="546.1,24.2 553.3,31.4 546.1,38.6 538.9,31.4" fill="#000000"/>
<polygon points="550.4,24.2 557.6,31.4 550.4,38.6 543.2,31.4" fill="#000000"/>
<polygon points="554.7,24.2 561.9,31.4 554.7,38.6 547.5,31.4" fill="#000000"/>
<polygon points="559.0,24.2 566.2,31.4 559.0,38.6 551.8,31.4" fill="#000000"/>
<polygon points="563.3,24.3 570.5,31.5 563.3,38.7 556.1,31.5" fill="#000000"/>
<polygon points="567.6,24.3 574.8,31.5 567.6,38.7 560.4,31.5" fill="#000000"/>
<polygon points="571.9,24.3 579.1,31.5 571.9,38.7 564.7,31.5" fill="#000000"/>
<polygon points="576.2,24.4 583.4,31.6 576.2,38.8 569.0,31.6" fill="#000000"/>
<polygon points="580.5,24.4 587.7,31.6 580.5,38.8 573.3,31.6" fill="#000000"/>
<polygon points="584.8,24.4 592.0,31.6 584.8,38.8 577.6,31.6" fill="#000000"/>
<polygon points="589.1,24.4 596.3,31.6 589.1,38.8 581.9,31.6" fill="#000000"/>
<polygon points="593.4,24.6 600.6,31.8 593.4,39.0 586.2,31.8" fill="#000000"/>
<polygon points="597.7,24.7 604.9,31.9 597.7,39.1 590.5,31.9" fill="#000000"/>
<polygon points="602.0,24.8 609.2,32.0 602.0,39.2 594.8,32.0" fill="#000000"/>
<polygon points="606.3,25.0 613.5,32.2 606.3,39.4 599.1,32.2" fill="#000000"/>
<polygon points="610.6,25.1 617.8,32.3 610.6,39.5 603.4,32.3" fill="#000000"/>
<polygon points="614.9,25.2 622.1,32.4 614.9,39.6 607.7,32.4" fill="#000000"/>
<polygon points="619.2,25.4 626.4,32.6 619.2,39.8 612.0,32.6" fill="#000000"/>
<polygon points="623.5,25.5 630.7,32.7 623.5,39.9 616.3,32.7" fill="#000000"/>
<polygon points="627.8,25.6 635.0,32.8 627.8,40.0 620.6,32.8" fill="#000000"/>
<polygon points="632.1,25.6 639.3,32.8 632.1,40.0 624.9,32.8" fill="#000000"/>
<polygon points="636.4,25.7 643.6,32.9 636.4,40.1 629.2,32.9" fill="#000000"/>
<polygon points="640.7,25.8 647.9,33.0 640.7,40.2 633.5,33.0" fill="#000000"/>
<polygon points="645.0,25.8 652.2,33.0 645.0,40.2 637.8,33.0" fill="#000000"/>
<polygon points="649.3,25.9 656.5,33.1 649.3,40.3 642.1,33.1" fill="#000000"/>
<polygon points="653.6,25.9 660.8,33.1 653.6,40.3 646.4,33.1" fill="#000000"/>
<polygon points="657.9,25.9 665.1,33.1 657.9,40.3 650.7,33.1" fill="#000000"/>
<polygon points="662.2,25.9 669.4,33.1 662.2,40.3 655.0,33.1" fill="#000000"/>
<polygon points="666.5,25.9 673.7,33.1 666.5,40.3 659.3,33.1" fill="#000000"/>
<polygon points="670.8,25.9 678.0,33.1 670.8,40.3 663.6,33.1" fill="#000000"/>
<polygon points="675.1,25.9 682.3,33.1 675.1,40.3 667.9,33.1" fill="#000000"/>
<polygon points="679.4,25.9 686.6,33.1 679.4,40.3 672.2,33.1" fill="#000000"/>
<polygon points="683.7,25.9 690.9,33.1 683.7,40.3 676.5,33.1" fill="#000000"/>
<polygon points="688.0,25.9 695.2,33.1 688.0,40.3 680.8,33.1" fill="#000000"/>
<polygon points="692.3,25.9 699.5,33.1 692.3,40.3 685.1,33.1" fill="#000000"/>
<polygon points="91.4,260.2 98.1,266.9 91.4,273.7 84.7,266.9" fill="#fff" stroke="#505050" stroke-width="1.2" stroke-linejoin="miter"/>
<polygon points="95.7,259.9 102.4,266.7 95.7,273.4 88.9,266.7" fill="#fff" stroke="#505050" stroke-width="1.2" stroke-linejoin="miter"/>
<polygon points="99.9,259.7 106.6,266.4 99.9,273.1 93.2,266.4" fill="#fff" stroke="#505050" stroke-width="1.2" stroke-linejoin="miter"/>
<polygon points="104.2,259.4 110.9,266.1 104.2,272.9 97.5,266.1" fill="#fff" stroke="#505050" stroke-width="1.2" stroke-linejoin="miter"/>
<polygon points="108.5,259.1 115.2,265.9 108.5,272.6 101.7,265.9" fill="#fff" stroke="#505050" stroke-width="1.2" stroke-linejoin="miter"/>
<polygon points="112.7,258.7 119.4,265.4 112.7,272.2 106.0,265.4" fill="#fff" stroke="#505050" stroke-width="1.2" stroke-linejoin="miter"/>
<polygon points="117.0,258.3 123.7,265.0 117.0,271.7 110.3,265.0" fill="#fff" stroke="#505050" stroke-width="1.2" stroke-linejoin="miter"/>
<polygon points="121.2,257.9 128.0,264.6 121.2,271.3 114.5,264.6" fill="#fff" stroke="#505050" stroke-width="1.2" stroke-linejoin="miter"/>
<polygon points="125.5,257.4 132.2,264.2 125.5,270.9 118.8,264.2" fill="#fff" stroke="#505050" stroke-width="1.2" stroke-linejoin="miter"/>
<polygon points="129.8,257.0 136.5,263.7 129.8,270.5 123.0,263.7" fill="#fff" stroke="#505050" stroke-width="1.2" stroke-linejoin="miter"/>
<polygon points="134.0,256.2 140.7,262.9 134.0,269.6 127.3,262.9" fill="#fff" stroke="#505050" stroke-width="1.2" stroke-linejoin="miter"/>
<polygon points="138.3,255.3 145.0,262.0 138.3,268.7 131.6,262.0" fill="#fff" stroke="#505050" stroke-width="1.2" stroke-linejoin="miter"/>
<polygon points="142.6,254.4 149.3,261.1 142.6,267.8 135.8,261.1" fill="#fff" stroke="#505050" stroke-width="1.2" stroke-linejoin="miter"/>
<polygon points="146.8,253.1 153.5,259.9 146.8,266.6 140.1,259.9" fill="#fff" stroke="#505050" stroke-width="1.2" stroke-linejoin="miter"/>
<polygon points="151.1,251.9 157.8,258.6 151.1,265.3 144.4,258.6" fill="#fff" stroke="#505050" stroke-width="1.2" stroke-linejoin="miter"/>
<polygon points="155.3,250.6 162.1,257.3 155.3,264.0 148.6,257.3" fill="#fff" stroke="#505050" stroke-width="1.2" stroke-linejoin="miter"/>
<polygon points="159.6,249.0 166.3,255.7 159.6,262.5 152.9,255.7" fill="#fff" stroke="#505050" stroke-width="1.2" stroke-linejoin="miter"/>
<polygon points="163.9,247.5 170.6,254.2 163.9,260.9 157.1,254.2" fill="#fff" stroke="#505050" stroke-width="1.2" stroke-linejoin="miter"/>
<polygon points="168.1,245.9 174.8,252.6 168.1,259.3 161.4,252.6" fill="#fff" stroke="#505050" stroke-width="1.2" stroke-linejoin="miter"/>
<polygon points="172.4,244.2 179.1,250.9 172.4,257.7 165.7,250.9" fill="#fff" stroke="#505050" stroke-width="1.2" stroke-linejoin="miter"/>
<polygon points="176.7,242.5 183.4,249.2 176.7,255.9 169.9,249.2" fill="#fff" stroke="#505050" stroke-width="1.2" stroke-linejoin="miter"/>
<polygon points="180.9,240.8 187.6,247.5 180.9,254.2 174.2,247.5" fill="#fff" stroke="#505050" stroke-width="1.2" stroke-linejoin="miter"/>
<polygon points="185.2,238.7 191.9,245.4 185.2,252.1 178.5,245.4" fill="#fff" stroke="#505050" stroke-width="1.2" stroke-linejoin="miter"/>
<polygon points="189.4,236.5 196.2,243.3 189.4,250.0 182.7,243.3" fill="#fff" stroke="#505050" stroke-width="1.2" stroke-linejoin="miter"/>
<polygon points="193.7,234.4 200.4,241.2 193.7,247.9 187.0,241.2" fill="#fff" stroke="#505050" stroke-width="1.2" stroke-linejoin="miter"/>
<polygon points="198.0,231.7 204.7,238.5 198.0,245.2 191.2,238.5" fill="#fff" stroke="#505050" stroke-width="1.2" stroke-linejoin="miter"/>
<polygon points="202.2,229.0 208.9,235.8 202.2,242.5 195.5,235.8" fill="#fff" stroke="#505050" stroke-width="1.2" stroke-linejoin="miter"/>
<polygon points="206.5,226.3 213.2,233.0 206.5,239.8 199.8,233.0" fill="#fff" stroke="#505050" stroke-width="1.2" stroke-linejoin="miter"/>
<polygon points="210.8,223.1 217.5,229.8 210.8,236.6 204.0,229.8" fill="#fff" stroke="#505050" stroke-width="1.2" stroke-linejoin="miter"/>
<polygon points="215.0,219.9 221.7,226.6 215.0,233.4 208.3,226.6" fill="#fff" stroke="#505050" stroke-width="1.2" stroke-linejoin="miter"/>
<polygon points="219.1,212.9 225.9,219.6 219.1,226.3 212.4,219.6" fill="#fff" stroke="#505050" stroke-width="1.2" stroke-linejoin="miter"/>
<polygon points="222.2,204.9 228.9,211.6 222.2,218.3 215.5,211.6" fill="#fff" stroke="#505050" stroke-width="1.2" stroke-linejoin="miter"/>
<polygon points="227.8,173.9 234.5,180.7 227.8,187.4 221.1,180.7" fill="#fff" stroke="#505050" stroke-width="1.2" stroke-linejoin="miter"/>
<polygon points="232.1,137.8 238.8,144.6 232.1,151.3 225.4,144.6" fill="#fff" stroke="#505050" stroke-width="1.2" stroke-linejoin="miter"/>
<polygon points="234.8,46.4 241.5,53.1 234.8,59.8 228.0,53.1" fill="#fff" stroke="#505050" stroke-width="1.2" stroke-linejoin="miter"/>
<polygon points="239.0,43.7 245.8,50.4 239.0,57.2 232.3,50.4" fill="#fff" stroke="#505050" stroke-width="1.2" stroke-linejoin="miter"/>
<polygon points="243.3,41.9 250.0,48.7 243.3,55.4 236.6,48.7" fill="#fff" stroke="#505050" stroke-width="1.2" stroke-linejoin="miter"/>
<polygon points="247.6,40.3 254.3,47.1 247.6,53.8 240.9,47.1" fill="#fff" stroke="#505050" stroke-width="1.2" stroke-linejoin="miter"/>
<polygon points="251.9,39.0 258.6,45.8 251.9,52.5 245.1,45.8" fill="#fff" stroke="#505050" stroke-width="1.2" stroke-linejoin="miter"/>
<polygon points="256.1,38.0 262.9,44.8 256.1,51.5 249.4,44.8" fill="#fff" stroke="#505050" stroke-width="1.2" stroke-linejoin="miter"/>
<polygon points="260.4,37.2 267.1,44.0 260.4,50.7 253.7,44.0" fill="#fff" stroke="#505050" stroke-width="1.2" stroke-linejoin="miter"/>
<polygon points="264.7,36.6 271.4,43.3 264.7,50.1 258.0,43.3" fill="#fff" stroke="#505050" stroke-width="1.2" stroke-linejoin="miter"/>
<polygon points="269.0,36.3 275.7,43.0 269.0,49.8 262.2,43.0" fill="#fff" stroke="#505050" stroke-width="1.2" stroke-linejoin="miter"/>
<polygon points="273.2,36.0 280.0,42.8 273.2,49.5 266.5,42.8" fill="#fff" stroke="#505050" stroke-width="1.2" stroke-linejoin="miter"/>
<polygon points="277.5,35.7 284.2,42.5 277.5,49.2 270.8,42.5" fill="#fff" stroke="#505050" stroke-width="1.2" stroke-linejoin="miter"/>
<polygon points="281.8,35.5 288.5,42.2 281.8,48.9 275.1,42.2" fill="#fff" stroke="#505050" stroke-width="1.2" stroke-linejoin="miter"/>
<polygon points="286.1,35.2 292.8,41.9 286.1,48.6 279.4,41.9" fill="#fff" stroke="#505050" stroke-width="1.2" stroke-linejoin="miter"/>
<polygon points="290.3,34.9 297.1,41.6 290.3,48.3 283.6,41.6" fill="#fff" stroke="#505050" stroke-width="1.2" stroke-linejoin="miter"/>
<polygon points="294.6,34.6 301.3,41.3 294.6,48.0 287.9,41.3" fill="#fff" stroke="#505050" stroke-width="1.2" stroke-linejoin="miter"/>
<polygon points="298.9,34.3 305.6,41.0 298.9,47.7 292.2,41.0" fill="#fff" stroke="#505050" stroke-width="1.2" stroke-linejoin="miter"/>
<polygon points="303.2,34.0 309.9,40.7 303.2,47.4 296.5,40.7" fill="#fff" stroke="#505050" stroke-width="1.2" stroke-linejoin="miter"/>
<polygon points="307.5,33.7 314.2,40.4 307.5,47.1 300.7,40.4" fill="#fff" stroke="#505050" stroke-width="1.2" stroke-linejoin="miter"/>
<polygon points="311.7,33.4 318.4,40.1 311.7,46.8 305.0,40.1" fill="#fff" stroke="#505050" stroke-width="1.2" stroke-linejoin="miter"/>
<polygon points="316.0,33.1 322.7,39.8 316.0,46.5 309.3,39.8" fill="#fff" stroke="#505050" stroke-width="1.2" stroke-linejoin="miter"/>
<polygon points="320.3,32.9 327.0,39.6 320.3,46.3 313.6,39.6" fill="#fff" stroke="#505050" stroke-width="1.2" stroke-linejoin="miter"/>
<polygon points="324.6,32.7 331.3,39.5 324.6,46.2 317.8,39.5" fill="#fff" stroke="#505050" stroke-width="1.2" stroke-linejoin="miter"/>
<polygon points="328.8,32.6 335.6,39.3 328.8,46.0 322.1,39.3" fill="#fff" stroke="#505050" stroke-width="1.2" stroke-linejoin="miter"/>
<polygon points="333.1,32.4 339.8,39.2 333.1,45.9 326.4,39.2" fill="#fff" stroke="#505050" stroke-width="1.2" stroke-linejoin="miter"/>
<polygon points="337.4,32.3 344.1,39.0 337.4,45.7 330.7,39.0" fill="#fff" stroke="#505050" stroke-width="1.2" stroke-linejoin="miter"/>
<polygon points="341.7,32.1 348.4,38.9 341.7,45.6 334.9,38.9" fill="#fff" stroke="#505050" stroke-width="1.2" stroke-linejoin="miter"/>
<polygon points="345.9,32.0 352.7,38.7 345.9,45.4 339.2,38.7" fill="#fff" stroke="#505050" stroke-width="1.2" stroke-linejoin="miter"/>
<polygon points="350.2,31.9 356.9,38.6 350.2,45.3 343.5,38.6" fill="#fff" stroke="#505050" stroke-width="1.2" stroke-linejoin="miter"/>
<polygon points="354.5,31.9 361.2,38.6 354.5,45.3 347.8,38.6" fill="#fff" stroke="#505050" stroke-width="1.2" stroke-linejoin="miter"/>
<polygon points="358.8,31.9 365.5,38.6 358.8,45.3 352.0,38.6" fill="#fff" stroke="#505050" stroke-width="1.2" stroke-linejoin="miter"/>
<polygon points="363.0,31.9 369.8,38.6 363.0,45.3 356.3,38.6" fill="#fff" stroke="#505050" stroke-width="1.2" stroke-linejoin="miter"/>
<polygon points="367.3,31.9 374.0,38.6 367.3,45.3 360.6,38.6" fill="#fff" stroke="#505050" stroke-width="1.2" stroke-linejoin="miter"/>
<polygon points="371.6,31.8 378.3,38.6 371.6,45.3 364.9,38.6" fill="#fff" stroke="#505050" stroke-width="1.2" stroke-linejoin="miter"/>
<polygon points="375.9,31.8 382.6,38.5 375.9,45.3 369.1,38.5" fill="#fff" stroke="#505050" stroke-width="1.2" stroke-linejoin="miter"/>
<polygon points="380.1,31.8 386.9,38.5 380.1,45.3 373.4,38.5" fill="#fff" stroke="#505050" stroke-width="1.2" stroke-linejoin="miter"/>
<polygon points="384.4,31.8 391.1,38.5 384.4,45.2 377.7,38.5" fill="#fff" stroke="#505050" stroke-width="1.2" stroke-linejoin="miter"/>
<polygon points="388.7,31.8 395.4,38.5 388.7,45.2 382.0,38.5" fill="#fff" stroke="#505050" stroke-width="1.2" stroke-linejoin="miter"/>
<polygon points="393.0,31.8 399.7,38.5 393.0,45.2 386.3,38.5" fill="#fff" stroke="#505050" stroke-width="1.2" stroke-linejoin="miter"/>
<polygon points="397.2,31.8 404.0,38.5 397.2,45.2 390.5,38.5" fill="#fff" stroke="#505050" stroke-width="1.2" stroke-linejoin="miter"/>
<polygon points="401.5,31.8 408.2,38.5 401.5,45.2 394.8,38.5" fill="#fff" stroke="#505050" stroke-width="1.2" stroke-linejoin="miter"/>
<polygon points="405.8,31.8 412.5,38.5 405.8,45.2 399.1,38.5" fill="#fff" stroke="#505050" stroke-width="1.2" stroke-linejoin="miter"/>
<polygon points="410.1,31.7 416.8,38.5 410.1,45.2 403.4,38.5" fill="#fff" stroke="#505050" stroke-width="1.2" stroke-linejoin="miter"/>
<polygon points="414.4,31.7 421.1,38.5 414.4,45.2 407.6,38.5" fill="#fff" stroke="#505050" stroke-width="1.2" stroke-linejoin="miter"/>
<polygon points="418.6,31.7 425.3,38.4 418.6,45.2 411.9,38.4" fill="#fff" stroke="#505050" stroke-width="1.2" stroke-linejoin="miter"/>
<polygon points="422.9,31.7 429.6,38.4 422.9,45.2 416.2,38.4" fill="#fff" stroke="#505050" stroke-width="1.2" stroke-linejoin="miter"/>
<polygon points="427.2,31.7 433.9,38.4 427.2,45.1 420.5,38.4" fill="#fff" stroke="#505050" stroke-width="1.2" stroke-linejoin="miter"/>
<polygon points="431.5,31.7 438.2,38.4 431.5,45.1 424.7,38.4" fill="#fff" stroke="#505050" stroke-width="1.2" stroke-linejoin="miter"/>
<polygon points="435.7,31.7 442.5,38.4 435.7,45.1 429.0,38.4" fill="#fff" stroke="#505050" stroke-width="1.2" stroke-linejoin="miter"/>
<polygon points="440.0,31.7 446.7,38.4 440.0,45.1 433.3,38.4" fill="#fff" stroke="#505050" stroke-width="1.2" stroke-linejoin="miter"/>
<polygon points="444.3,31.7 451.0,38.4 444.3,45.1 437.6,38.4" fill="#fff" stroke="#505050" stroke-width="1.2" stroke-linejoin="miter"/>
<polygon points="448.6,31.7 455.3,38.4 448.6,45.1 441.8,38.4" fill="#fff" stroke="#505050" stroke-width="1.2" stroke-linejoin="miter"/>
<polygon points="452.8,31.7 459.6,38.4 452.8,45.1 446.1,38.4" fill="#fff" stroke="#505050" stroke-width="1.2" stroke-linejoin="miter"/>
<polygon points="457.1,31.7 463.8,38.4 457.1,45.1 450.4,38.4" fill="#fff" stroke="#505050" stroke-width="1.2" stroke-linejoin="miter"/>
<polygon points="461.4,31.7 468.1,38.4 461.4,45.1 454.7,38.4" fill="#fff" stroke="#505050" stroke-width="1.2" stroke-linejoin="miter"/>
<polygon points="465.7,31.7 472.4,38.4 465.7,45.1 458.9,38.4" fill="#fff" stroke="#505050" stroke-width="1.2" stroke-linejoin="miter"/>
<polygon points="469.9,31.7 476.7,38.4 469.9,45.1 463.2,38.4" fill="#fff" stroke="#505050" stroke-width="1.2" stroke-linejoin="miter"/>
<polygon points="474.2,31.7 480.9,38.4 474.2,45.1 467.5,38.4" fill="#fff" stroke="#505050" stroke-width="1.2" stroke-linejoin="miter"/>
<polygon points="478.5,31.7 485.2,38.4 478.5,45.1 471.8,38.4" fill="#fff" stroke="#505050" stroke-width="1.2" stroke-linejoin="miter"/>
<polygon points="482.8,31.7 489.5,38.4 482.8,45.1 476.1,38.4" fill="#fff" stroke="#505050" stroke-width="1.2" stroke-linejoin="miter"/>
<polygon points="487.0,31.7 493.8,38.4 487.0,45.1 480.3,38.4" fill="#fff" stroke="#505050" stroke-width="1.2" stroke-linejoin="miter"/>
<polygon points="491.3,31.7 498.0,38.4 491.3,45.1 484.6,38.4" fill="#fff" stroke="#505050" stroke-width="1.2" stroke-linejoin="miter"/>
<polygon points="495.6,31.7 502.3,38.4 495.6,45.1 488.9,38.4" fill="#fff" stroke="#505050" stroke-width="1.2" stroke-linejoin="miter"/>
<polygon points="499.9,31.7 506.6,38.4 499.9,45.1 493.2,38.4" fill="#fff" stroke="#505050" stroke-width="1.2" stroke-linejoin="miter"/>
<polygon points="504.2,31.7 510.9,38.4 504.2,45.1 497.4,38.4" fill="#fff" stroke="#505050" stroke-width="1.2" stroke-linejoin="miter"/>
<polygon points="508.4,31.7 515.1,38.4 508.4,45.1 501.7,38.4" fill="#fff" stroke="#505050" stroke-width="1.2" stroke-linejoin="miter"/>
<polygon points="512.7,31.7 519.4,38.4 512.7,45.1 506.0,38.4" fill="#fff" stroke="#505050" stroke-width="1.2" stroke-linejoin="miter"/>
<polygon points="517.0,31.7 523.7,38.4 517.0,45.1 510.3,38.4" fill="#fff" stroke="#505050" stroke-width="1.2" stroke-linejoin="miter"/>
<polygon points="521.3,31.7 528.0,38.4 521.3,45.1 514.5,38.4" fill="#fff" stroke="#505050" stroke-width="1.2" stroke-linejoin="miter"/>
<polygon points="525.5,31.7 532.3,38.4 525.5,45.1 518.8,38.4" fill="#fff" stroke="#505050" stroke-width="1.2" stroke-linejoin="miter"/>
<polygon points="529.8,31.7 536.5,38.4 529.8,45.1 523.1,38.4" fill="#fff" stroke="#505050" stroke-width="1.2" stroke-linejoin="miter"/>
<polygon points="534.1,31.7 540.8,38.4 534.1,45.1 527.4,38.4" fill="#fff" stroke="#505050" stroke-width="1.2" stroke-linejoin="miter"/>
<polygon points="538.4,31.7 545.1,38.4 538.4,45.1 531.6,38.4" fill="#fff" stroke="#505050" stroke-width="1.2" stroke-linejoin="miter"/>
<polygon points="542.6,31.7 549.4,38.4 542.6,45.1 535.9,38.4" fill="#fff" stroke="#505050" stroke-width="1.2" stroke-linejoin="miter"/>
<polygon points="546.9,31.7 553.6,38.4 546.9,45.1 540.2,38.4" fill="#fff" stroke="#505050" stroke-width="1.2" stroke-linejoin="miter"/>
<polygon points="551.2,31.7 557.9,38.4 551.2,45.1 544.5,38.4" fill="#fff" stroke="#505050" stroke-width="1.2" stroke-linejoin="miter"/>
<polygon points="555.5,31.7 562.2,38.4 555.5,45.1 548.7,38.4" fill="#fff" stroke="#505050" stroke-width="1.2" stroke-linejoin="miter"/>
<polygon points="559.7,31.7 566.5,38.4 559.7,45.1 553.0,38.4" fill="#fff" stroke="#505050" stroke-width="1.2" stroke-linejoin="miter"/>
<polygon points="564.0,31.7 570.7,38.4 564.0,45.1 557.3,38.4" fill="#fff" stroke="#505050" stroke-width="1.2" stroke-linejoin="miter"/>
<polygon points="568.3,31.7 575.0,38.4 568.3,45.1 561.6,38.4" fill="#fff" stroke="#505050" stroke-width="1.2" stroke-linejoin="miter"/>
<polygon points="572.6,31.7 579.3,38.4 572.6,45.1 565.8,38.4" fill="#fff" stroke="#505050" stroke-width="1.2" stroke-linejoin="miter"/>
<polygon points="576.8,31.7 583.6,38.5 576.8,45.2 570.1,38.5" fill="#fff" stroke="#505050" stroke-width="1.2" stroke-linejoin="miter"/>
<polygon points="581.1,31.8 587.8,38.5 581.1,45.2 574.4,38.5" fill="#fff" stroke="#505050" stroke-width="1.2" stroke-linejoin="miter"/>
<polygon points="585.4,31.9 592.1,38.6 585.4,45.3 578.7,38.6" fill="#fff" stroke="#505050" stroke-width="1.2" stroke-linejoin="miter"/>
<polygon points="589.7,31.9 596.4,38.6 589.7,45.4 583.0,38.6" fill="#fff" stroke="#505050" stroke-width="1.2" stroke-linejoin="miter"/>
<polygon points="593.9,32.0 600.7,38.7 593.9,45.4 587.2,38.7" fill="#fff" stroke="#505050" stroke-width="1.2" stroke-linejoin="miter"/>
<polygon points="598.2,32.0 604.9,38.8 598.2,45.5 591.5,38.8" fill="#fff" stroke="#505050" stroke-width="1.2" stroke-linejoin="miter"/>
<polygon points="602.5,32.1 609.2,38.8 602.5,45.5 595.8,38.8" fill="#fff" stroke="#505050" stroke-width="1.2" stroke-linejoin="miter"/>
<polygon points="606.8,32.2 613.5,38.9 606.8,45.6 600.1,38.9" fill="#fff" stroke="#505050" stroke-width="1.2" stroke-linejoin="miter"/>
<polygon points="611.1,32.3 617.8,39.0 611.1,45.7 604.3,39.0" fill="#fff" stroke="#505050" stroke-width="1.2" stroke-linejoin="miter"/>
<polygon points="615.3,32.4 622.1,39.1 615.3,45.8 608.6,39.1" fill="#fff" stroke="#505050" stroke-width="1.2" stroke-linejoin="miter"/>
<polygon points="619.6,32.5 626.3,39.2 619.6,45.9 612.9,39.2" fill="#fff" stroke="#505050" stroke-width="1.2" stroke-linejoin="miter"/>
<polygon points="623.9,32.6 630.6,39.3 623.9,46.0 617.2,39.3" fill="#fff" stroke="#505050" stroke-width="1.2" stroke-linejoin="miter"/>
<polygon points="628.2,32.7 634.9,39.4 628.2,46.1 621.4,39.4" fill="#fff" stroke="#505050" stroke-width="1.2" stroke-linejoin="miter"/>
<polygon points="632.4,32.8 639.2,39.5 632.4,46.3 625.7,39.5" fill="#fff" stroke="#505050" stroke-width="1.2" stroke-linejoin="miter"/>
<polygon points="636.7,32.9 643.4,39.7 636.7,46.4 630.0,39.7" fill="#fff" stroke="#505050" stroke-width="1.2" stroke-linejoin="miter"/>
<polygon points="641.0,33.0 647.7,39.8 641.0,46.5 634.3,39.8" fill="#fff" stroke="#505050" stroke-width="1.2" stroke-linejoin="miter"/>
<polygon points="645.3,33.2 652.0,39.9 645.3,46.6 638.5,39.9" fill="#fff" stroke="#505050" stroke-width="1.2" stroke-linejoin="miter"/>
<polygon points="649.5,33.3 656.3,40.0 649.5,46.7 642.8,40.0" fill="#fff" stroke="#505050" stroke-width="1.2" stroke-linejoin="miter"/>
<polygon points="653.8,33.4 660.5,40.1 653.8,46.8 647.1,40.1" fill="#fff" stroke="#505050" stroke-width="1.2" stroke-linejoin="miter"/>
<polygon points="658.1,33.5 664.8,40.2 658.1,46.9 651.4,40.2" fill="#fff" stroke="#505050" stroke-width="1.2" stroke-linejoin="miter"/>
<polygon points="662.4,33.5 669.1,40.3 662.4,47.0 655.6,40.3" fill="#fff" stroke="#505050" stroke-width="1.2" stroke-linejoin="miter"/>
<polygon points="666.6,33.6 673.4,40.3 666.6,47.0 659.9,40.3" fill="#fff" stroke="#505050" stroke-width="1.2" stroke-linejoin="miter"/>
<polygon points="670.9,33.6 677.6,40.3 670.9,47.0 664.2,40.3" fill="#fff" stroke="#505050" stroke-width="1.2" stroke-linejoin="miter"/>
<polygon points="675.2,33.6 681.9,40.4 675.2,47.1 668.5,40.4" fill="#fff" stroke="#505050" stroke-width="1.2" stroke-linejoin="miter"/>
<polygon points="679.5,33.7 686.2,40.4 679.5,47.1 672.8,40.4" fill="#fff" stroke="#505050" stroke-width="1.2" stroke-linejoin="miter"/>
<polygon points="683.7,33.7 690.5,40.4 683.7,47.2 677.0,40.4" fill="#fff" stroke="#505050" stroke-width="1.2" stroke-linejoin="miter"/>
<polygon points="688.0,33.7 694.7,40.5 688.0,47.2 681.3,40.5" fill="#fff" stroke="#505050" stroke-width="1.2" stroke-linejoin="miter"/>
<polygon points="692.3,33.8 699.0,40.5 692.3,47.2 685.6,40.5" fill="#fff" stroke="#505050" stroke-width="1.2" stroke-linejoin="miter"/>
<line x1="469.1" y1="12.9" x2="469.1" y2="506.0" stroke="#9400D3" stroke-width="2.4" stroke-dasharray="11.5 11.5"/>
</g>
<g clip-path="url(#cr)">
<rect x="811.2" y="130.2" width="10.0" height="10.0" fill="#EE0000"/>
<rect x="841.1" y="129.4" width="10.0" height="10.0" fill="#EE0000"/>
<rect x="869.5" y="129.1" width="10.0" height="10.0" fill="#EE0000"/>
<rect x="899.5" y="129.1" width="10.0" height="10.0" fill="#EE0000"/>
<rect x="930.1" y="127.9" width="10.0" height="10.0" fill="#EE0000"/>
<rect x="957.8" y="127.6" width="10.0" height="10.0" fill="#EE0000"/>
<rect x="987.3" y="126.4" width="10.0" height="10.0" fill="#EE0000"/>
<rect x="1017.0" y="126.1" width="10.0" height="10.0" fill="#EE0000"/>
<rect x="1047.7" y="124.6" width="10.0" height="10.0" fill="#EE0000"/>
<rect x="1075.3" y="125.4" width="10.0" height="10.0" fill="#EE0000"/>
<rect x="1106.2" y="125.4" width="10.0" height="10.0" fill="#EE0000"/>
<rect x="1137.4" y="124.6" width="10.0" height="10.0" fill="#EE0000"/>
<rect x="1166.9" y="123.9" width="10.0" height="10.0" fill="#EE0000"/>
<rect x="1197.2" y="123.8" width="10.0" height="10.0" fill="#EE0000"/>
<rect x="1227.9" y="122.9" width="10.0" height="10.0" fill="#EE0000"/>
<rect x="1256.3" y="122.7" width="10.0" height="10.0" fill="#EE0000"/>
<rect x="1286.2" y="122.3" width="10.0" height="10.0" fill="#EE0000"/>
<rect x="1317.0" y="122.0" width="10.0" height="10.0" fill="#EE0000"/>
<rect x="1345.9" y="122.0" width="10.0" height="10.0" fill="#EE0000"/>
<rect x="1375.4" y="121.4" width="10.0" height="10.0" fill="#EE0000"/>
<rect x="1404.0" y="120.9" width="10.0" height="10.0" fill="#EE0000"/>
<rect x="811.7" y="168.0" width="9.0" height="9.0" fill="#fff" stroke="#EE0000" stroke-width="1.0"/>
<rect x="841.6" y="167.7" width="9.0" height="9.0" fill="#fff" stroke="#EE0000" stroke-width="1.0"/>
<rect x="870.0" y="167.3" width="9.0" height="9.0" fill="#fff" stroke="#EE0000" stroke-width="1.0"/>
<rect x="900.0" y="166.9" width="9.0" height="9.0" fill="#fff" stroke="#EE0000" stroke-width="1.0"/>
<rect x="930.6" y="166.9" width="9.0" height="9.0" fill="#fff" stroke="#EE0000" stroke-width="1.0"/>
<rect x="958.3" y="166.2" width="9.0" height="9.0" fill="#fff" stroke="#EE0000" stroke-width="1.0"/>
<rect x="987.8" y="166.2" width="9.0" height="9.0" fill="#fff" stroke="#EE0000" stroke-width="1.0"/>
<rect x="1017.5" y="165.5" width="9.0" height="9.0" fill="#fff" stroke="#EE0000" stroke-width="1.0"/>
<rect x="1048.2" y="165.8" width="9.0" height="9.0" fill="#fff" stroke="#EE0000" stroke-width="1.0"/>
<rect x="1075.8" y="165.8" width="9.0" height="9.0" fill="#fff" stroke="#EE0000" stroke-width="1.0"/>
<rect x="1106.7" y="165.5" width="9.0" height="9.0" fill="#fff" stroke="#EE0000" stroke-width="1.0"/>
<rect x="1137.9" y="165.5" width="9.0" height="9.0" fill="#fff" stroke="#EE0000" stroke-width="1.0"/>
<rect x="1167.4" y="165.5" width="9.0" height="9.0" fill="#fff" stroke="#EE0000" stroke-width="1.0"/>
<rect x="1197.7" y="165.4" width="9.0" height="9.0" fill="#fff" stroke="#EE0000" stroke-width="1.0"/>
<rect x="1228.4" y="165.4" width="9.0" height="9.0" fill="#fff" stroke="#EE0000" stroke-width="1.0"/>
<rect x="1256.8" y="165.4" width="9.0" height="9.0" fill="#fff" stroke="#EE0000" stroke-width="1.0"/>
<rect x="1286.7" y="165.4" width="9.0" height="9.0" fill="#fff" stroke="#EE0000" stroke-width="1.0"/>
<rect x="1317.5" y="165.4" width="9.0" height="9.0" fill="#fff" stroke="#EE0000" stroke-width="1.0"/>
<rect x="1346.4" y="165.4" width="9.0" height="9.0" fill="#fff" stroke="#EE0000" stroke-width="1.0"/>
<rect x="1375.9" y="165.4" width="9.0" height="9.0" fill="#fff" stroke="#EE0000" stroke-width="1.0"/>
<rect x="1404.5" y="165.4" width="9.0" height="9.0" fill="#fff" stroke="#EE0000" stroke-width="1.0"/>
<circle cx="813.4" cy="204.6" r="5.6" fill="#FFB90F"/>
<circle cx="843.3" cy="203.7" r="5.6" fill="#FFB90F"/>
<circle cx="873.1" cy="202.7" r="5.6" fill="#FFB90F"/>
<circle cx="902.5" cy="201.4" r="5.6" fill="#FFB90F"/>
<circle cx="931.6" cy="200.3" r="5.6" fill="#FFB90F"/>
<circle cx="962.2" cy="199.0" r="5.6" fill="#FFB90F"/>
<circle cx="991.7" cy="197.7" r="5.6" fill="#FFB90F"/>
<circle cx="1021.5" cy="197.1" r="5.6" fill="#FFB90F"/>
<circle cx="1050.1" cy="197.1" r="5.6" fill="#FFB90F"/>
<circle cx="1081.3" cy="195.3" r="5.6" fill="#FFB90F"/>
<circle cx="1110.6" cy="195.0" r="5.6" fill="#FFB90F"/>
<circle cx="1140.1" cy="194.0" r="5.6" fill="#FFB90F"/>
<circle cx="813.4" cy="213.0" r="5.1" fill="#fff" stroke="#FFB90F" stroke-width="1.0"/>
<circle cx="843.3" cy="212.6" r="5.1" fill="#fff" stroke="#FFB90F" stroke-width="1.0"/>
<circle cx="873.1" cy="212.1" r="5.1" fill="#fff" stroke="#FFB90F" stroke-width="1.0"/>
<circle cx="902.5" cy="211.1" r="5.1" fill="#fff" stroke="#FFB90F" stroke-width="1.0"/>
<circle cx="931.6" cy="209.5" r="5.1" fill="#fff" stroke="#FFB90F" stroke-width="1.0"/>
<circle cx="962.2" cy="208.5" r="5.1" fill="#fff" stroke="#FFB90F" stroke-width="1.0"/>
<circle cx="991.7" cy="207.0" r="5.1" fill="#fff" stroke="#FFB90F" stroke-width="1.0"/>
<circle cx="1021.5" cy="205.6" r="5.1" fill="#fff" stroke="#FFB90F" stroke-width="1.0"/>
<circle cx="1050.1" cy="204.6" r="5.1" fill="#fff" stroke="#FFB90F" stroke-width="1.0"/>
<circle cx="1081.3" cy="203.7" r="5.1" fill="#fff" stroke="#FFB90F" stroke-width="1.0"/>
<circle cx="1110.6" cy="202.9" r="5.1" fill="#fff" stroke="#FFB90F" stroke-width="1.0"/>
<circle cx="1140.1" cy="201.3" r="5.1" fill="#fff" stroke="#FFB90F" stroke-width="1.0"/>
<polygon points="813.4,201.2 820.1,212.8 806.7,212.8" fill="#007F00"/>
<polygon points="840.8,200.1 847.5,211.7 834.1,211.7" fill="#007F00"/>
<polygon points="871.8,198.8 878.5,210.4 865.1,210.4" fill="#007F00"/>
<polygon points="902.5,197.9 909.2,209.5 895.8,209.5" fill="#007F00"/>
<polygon points="931.6,196.4 938.3,208.0 924.9,208.0" fill="#007F00"/>
<polygon points="959.0,195.1 965.7,206.7 952.3,206.7" fill="#007F00"/>
<polygon points="989.8,193.2 996.5,204.8 983.1,204.8" fill="#007F00"/>
<polygon points="1019.6,193.2 1026.3,204.8 1012.9,204.8" fill="#007F00"/>
<polygon points="1048.2,194.1 1054.9,205.7 1041.5,205.7" fill="#007F00"/>
<polygon points="1078.5,191.3 1085.2,202.9 1071.8,202.9" fill="#007F00"/>
<polygon points="1110.2,191.3 1116.9,202.9 1103.5,202.9" fill="#007F00"/>
<polygon points="1144.8,188.5 1151.5,200.1 1138.1,200.1" fill="#007F00"/>
<polygon points="1169.7,188.5 1176.4,200.1 1163.0,200.1" fill="#007F00"/>
<polygon points="1203.0,186.7 1209.7,198.3 1196.3,198.3" fill="#007F00"/>
<polygon points="1242.6,186.4 1249.3,198.0 1235.9,198.0" fill="#007F00"/>
<polygon points="1265.0,186.0 1271.7,197.6 1258.3,197.6" fill="#007F00"/>
<polygon points="1295.8,186.4 1302.5,198.0 1289.1,198.0" fill="#007F00"/>
<polygon points="1322.0,186.0 1328.7,197.6 1315.3,197.6" fill="#007F00"/>
<polygon points="1342.5,185.1 1349.2,196.7 1335.8,196.7" fill="#007F00"/>
<polygon points="813.4,223.5 819.7,234.3 807.1,234.3" fill="#fff" stroke="#007F00" stroke-width="1.0" stroke-linejoin="miter"/>
<polygon points="840.8,221.6 847.1,232.4 834.5,232.4" fill="#fff" stroke="#007F00" stroke-width="1.0" stroke-linejoin="miter"/>
<polygon points="871.8,218.8 878.1,229.6 865.5,229.6" fill="#fff" stroke="#007F00" stroke-width="1.0" stroke-linejoin="miter"/>
<polygon points="902.5,216.6 908.8,227.4 896.2,227.4" fill="#fff" stroke="#007F00" stroke-width="1.0" stroke-linejoin="miter"/>
<polygon points="931.6,214.7 937.9,225.5 925.3,225.5" fill="#fff" stroke="#007F00" stroke-width="1.0" stroke-linejoin="miter"/>
<polygon points="959.0,211.7 965.3,222.5 952.7,222.5" fill="#fff" stroke="#007F00" stroke-width="1.0" stroke-linejoin="miter"/>
<polygon points="989.8,210.4 996.1,221.2 983.5,221.2" fill="#fff" stroke="#007F00" stroke-width="1.0" stroke-linejoin="miter"/>
<polygon points="1019.6,208.6 1025.9,219.4 1013.3,219.4" fill="#fff" stroke="#007F00" stroke-width="1.0" stroke-linejoin="miter"/>
<polygon points="1048.2,207.6 1054.5,218.4 1041.9,218.4" fill="#fff" stroke="#007F00" stroke-width="1.0" stroke-linejoin="miter"/>
<polygon points="1078.5,205.8 1084.8,216.6 1072.2,216.6" fill="#fff" stroke="#007F00" stroke-width="1.0" stroke-linejoin="miter"/>
<polygon points="1110.2,203.9 1116.5,214.8 1103.9,214.8" fill="#fff" stroke="#007F00" stroke-width="1.0" stroke-linejoin="miter"/>
<polygon points="1144.8,202.0 1151.1,212.8 1138.5,212.8" fill="#fff" stroke="#007F00" stroke-width="1.0" stroke-linejoin="miter"/>
<polygon points="1169.7,200.5 1176.0,211.3 1163.4,211.3" fill="#fff" stroke="#007F00" stroke-width="1.0" stroke-linejoin="miter"/>
<polygon points="1203.0,199.5 1209.3,210.3 1196.7,210.3" fill="#fff" stroke="#007F00" stroke-width="1.0" stroke-linejoin="miter"/>
<polygon points="1242.6,197.6 1248.9,208.4 1236.3,208.4" fill="#fff" stroke="#007F00" stroke-width="1.0" stroke-linejoin="miter"/>
<polygon points="1265.0,197.2 1271.3,208.0 1258.7,208.0" fill="#fff" stroke="#007F00" stroke-width="1.0" stroke-linejoin="miter"/>
<polygon points="1295.8,195.7 1302.1,206.5 1289.5,206.5" fill="#fff" stroke="#007F00" stroke-width="1.0" stroke-linejoin="miter"/>
<polygon points="1322.0,194.2 1328.3,205.0 1315.7,205.0" fill="#fff" stroke="#007F00" stroke-width="1.0" stroke-linejoin="miter"/>
<polygon points="1342.5,193.5 1348.8,204.3 1336.2,204.3" fill="#fff" stroke="#007F00" stroke-width="1.0" stroke-linejoin="miter"/>
<polygon points="812.8,218.8 818.4,221.9 818.4,228.2 812.8,231.4 807.2,228.2 807.2,221.9" fill="#0000FF"/>
<polygon points="842.0,215.7 847.6,218.8 847.6,225.2 842.0,228.3 836.4,225.2 836.4,218.8" fill="#0000FF"/>
<polygon points="870.7,212.3 876.3,215.4 876.3,221.8 870.7,224.9 865.1,221.8 865.1,215.4" fill="#0000FF"/>
<polygon points="900.2,209.5 905.8,212.7 905.8,219.0 900.2,222.1 894.6,219.0 894.6,212.7" fill="#0000FF"/>
<polygon points="932.5,206.7 938.1,209.8 938.1,216.2 932.5,219.3 926.9,216.2 926.9,209.8" fill="#0000FF"/>
<polygon points="971.7,204.5 977.3,207.7 977.3,214.0 971.7,217.1 966.1,214.0 966.1,207.7" fill="#0000FF"/>
<polygon points="994.1,202.0 999.7,205.2 999.7,211.5 994.1,214.6 988.5,211.5 988.5,205.2" fill="#0000FF"/>
<polygon points="1025.2,200.2 1030.8,203.3 1030.8,209.7 1025.2,212.8 1019.6,209.7 1019.6,203.3" fill="#0000FF"/>
<polygon points="1050.1,197.4 1055.7,200.5 1055.7,206.8 1050.1,210.0 1044.5,206.8 1044.5,200.5" fill="#0000FF"/>
<polygon points="1080.0,194.6 1085.6,197.8 1085.6,204.1 1080.0,207.2 1074.4,204.1 1074.4,197.8" fill="#0000FF"/>
<polygon points="1120.5,193.3 1126.1,196.4 1126.1,202.8 1120.5,205.9 1114.9,202.8 1114.9,196.4" fill="#0000FF"/>
<polygon points="1147.6,190.8 1153.2,193.9 1153.2,200.2 1147.6,203.4 1142.0,200.2 1142.0,193.9" fill="#0000FF"/>
<polygon points="1175.3,189.0 1180.9,192.2 1180.9,198.5 1175.3,201.6 1169.7,198.5 1169.7,192.2" fill="#0000FF"/>
<polygon points="1202.7,187.2 1208.3,190.3 1208.3,196.7 1202.7,199.8 1197.1,196.7 1197.1,190.3" fill="#0000FF"/>
<polygon points="1232.3,185.1 1237.9,188.2 1237.9,194.6 1232.3,197.7 1226.7,194.6 1226.7,188.2" fill="#0000FF"/>
<polygon points="1261.3,183.6 1266.9,186.8 1266.9,193.1 1261.3,196.2 1255.7,193.1 1255.7,186.8" fill="#0000FF"/>
<polygon points="1293.0,182.1 1298.6,185.2 1298.6,191.6 1293.0,194.7 1287.4,191.6 1287.4,185.2" fill="#0000FF"/>
<polygon points="1322.0,181.4 1327.6,184.5 1327.6,190.8 1322.0,194.0 1316.4,190.8 1316.4,184.5" fill="#0000FF"/>
<polygon points="1346.3,179.5 1351.9,182.7 1351.9,189.0 1346.3,192.1 1340.7,189.0 1340.7,182.7" fill="#0000FF"/>
<polygon points="812.8,257.3 818.2,260.4 818.2,266.4 812.8,269.4 807.4,266.4 807.4,260.4" fill="#fff" stroke="#0000FF" stroke-width="1.0" stroke-linejoin="miter"/>
<polygon points="842.0,253.2 847.4,256.3 847.4,262.3 842.0,265.4 836.6,262.3 836.6,256.3" fill="#fff" stroke="#0000FF" stroke-width="1.0" stroke-linejoin="miter"/>
<polygon points="870.7,248.9 876.1,252.0 876.1,258.0 870.7,261.1 865.3,258.0 865.3,252.0" fill="#fff" stroke="#0000FF" stroke-width="1.0" stroke-linejoin="miter"/>
<polygon points="900.2,245.2 905.6,248.3 905.6,254.3 900.2,257.4 894.8,254.3 894.8,248.3" fill="#fff" stroke="#0000FF" stroke-width="1.0" stroke-linejoin="miter"/>
<polygon points="932.5,241.4 937.9,244.5 937.9,250.5 932.5,253.6 927.1,250.5 927.1,244.5" fill="#fff" stroke="#0000FF" stroke-width="1.0" stroke-linejoin="miter"/>
<polygon points="971.7,238.3 977.1,241.4 977.1,247.4 971.7,250.5 966.3,247.4 966.3,241.4" fill="#fff" stroke="#0000FF" stroke-width="1.0" stroke-linejoin="miter"/>
<polygon points="994.1,235.3 999.5,238.4 999.5,244.4 994.1,247.5 988.7,244.4 988.7,238.4" fill="#fff" stroke="#0000FF" stroke-width="1.0" stroke-linejoin="miter"/>
<polygon points="1025.2,232.8 1030.6,235.8 1030.6,241.8 1025.2,244.9 1019.8,241.8 1019.8,235.8" fill="#fff" stroke="#0000FF" stroke-width="1.0" stroke-linejoin="miter"/>
<polygon points="1050.1,229.0 1055.5,232.1 1055.5,238.1 1050.1,241.2 1044.7,238.1 1044.7,232.1" fill="#fff" stroke="#0000FF" stroke-width="1.0" stroke-linejoin="miter"/>
<polygon points="1080.0,226.5 1085.4,229.6 1085.4,235.6 1080.0,238.7 1074.6,235.6 1074.6,229.6" fill="#fff" stroke="#0000FF" stroke-width="1.0" stroke-linejoin="miter"/>
<polygon points="1120.5,223.8 1125.9,226.8 1125.9,232.8 1120.5,235.9 1115.1,232.8 1115.1,226.8" fill="#fff" stroke="#0000FF" stroke-width="1.0" stroke-linejoin="miter"/>
<polygon points="1147.6,220.9 1153.0,224.0 1153.0,230.0 1147.6,233.1 1142.2,230.0 1142.2,224.0" fill="#fff" stroke="#0000FF" stroke-width="1.0" stroke-linejoin="miter"/>
<polygon points="1175.3,218.5 1180.7,221.6 1180.7,227.6 1175.3,230.7 1169.9,227.6 1169.9,221.6" fill="#fff" stroke="#0000FF" stroke-width="1.0" stroke-linejoin="miter"/>
<polygon points="1202.7,216.4 1208.1,219.5 1208.1,225.5 1202.7,228.6 1197.3,225.5 1197.3,219.5" fill="#fff" stroke="#0000FF" stroke-width="1.0" stroke-linejoin="miter"/>
<polygon points="1232.3,214.8 1237.7,217.8 1237.7,223.8 1232.3,226.9 1226.9,223.8 1226.9,217.8" fill="#fff" stroke="#0000FF" stroke-width="1.0" stroke-linejoin="miter"/>
<polygon points="1261.3,211.5 1266.7,214.6 1266.7,220.6 1261.3,223.7 1255.9,220.6 1255.9,214.6" fill="#fff" stroke="#0000FF" stroke-width="1.0" stroke-linejoin="miter"/>
<polygon points="1293.0,209.0 1298.4,212.1 1298.4,218.1 1293.0,221.2 1287.6,218.1 1287.6,212.1" fill="#fff" stroke="#0000FF" stroke-width="1.0" stroke-linejoin="miter"/>
<polygon points="1322.0,207.2 1327.4,210.3 1327.4,216.3 1322.0,219.4 1316.6,216.3 1316.6,210.3" fill="#fff" stroke="#0000FF" stroke-width="1.0" stroke-linejoin="miter"/>
<polygon points="1346.3,204.8 1351.7,207.9 1351.7,213.9 1346.3,217.0 1340.9,213.9 1340.9,207.9" fill="#fff" stroke="#0000FF" stroke-width="1.0" stroke-linejoin="miter"/>
<polygon points="904.9,472.7 906.7,477.3 911.6,477.5 907.8,480.6 909.0,485.4 904.9,482.7 900.8,485.4 902.0,480.6 898.2,477.5 903.1,477.3" fill="#00DDFF"/>
<polygon points="934.9,406.4 936.7,411.0 941.6,411.2 937.8,414.3 939.0,419.1 934.9,416.4 930.8,419.1 932.0,414.3 928.2,411.2 933.1,411.0" fill="#00DDFF"/>
<polygon points="964.5,347.1 966.3,351.7 971.2,351.9 967.4,355.0 968.6,359.8 964.5,357.1 960.4,359.8 961.6,355.0 957.8,351.9 962.7,351.7" fill="#00DDFF"/>
<polygon points="994.6,295.5 996.4,300.1 1001.3,300.3 997.5,303.4 998.7,308.2 994.6,305.5 990.5,308.2 991.7,303.4 987.9,300.3 992.8,300.1" fill="#00DDFF"/>
<polygon points="1025.2,259.6 1027.0,264.2 1031.9,264.4 1028.1,267.5 1029.3,272.3 1025.2,269.6 1021.1,272.3 1022.3,267.5 1018.5,264.4 1023.4,264.2" fill="#00DDFF"/>
<polygon points="1055.1,238.3 1056.9,242.9 1061.8,243.1 1058.0,246.2 1059.2,251.0 1055.1,248.3 1051.0,251.0 1052.2,246.2 1048.4,243.1 1053.3,242.9" fill="#00DDFF"/>
<polygon points="1085.0,227.0 1086.8,231.6 1091.7,231.8 1087.9,234.9 1089.1,239.7 1085.0,237.0 1080.9,239.7 1082.1,234.9 1078.3,231.8 1083.2,231.6" fill="#00DDFF"/>
<polygon points="1115.8,220.6 1117.6,225.2 1122.5,225.4 1118.7,228.5 1119.9,233.3 1115.8,230.6 1111.7,233.3 1112.9,228.5 1109.1,225.4 1114.0,225.2" fill="#00DDFF"/>
<polygon points="1145.7,215.4 1147.5,220.0 1152.4,220.2 1148.6,223.3 1149.8,228.1 1145.7,225.4 1141.6,228.1 1142.8,223.3 1139.0,220.2 1143.9,220.0" fill="#00DDFF"/>
<polygon points="1175.6,212.6 1177.4,217.2 1182.3,217.4 1178.5,220.5 1179.7,225.3 1175.6,222.6 1171.5,225.3 1172.7,220.5 1168.9,217.4 1173.8,217.2" fill="#00DDFF"/>
<polygon points="1205.2,209.2 1207.0,213.8 1211.9,214.0 1208.1,217.1 1209.3,221.9 1205.2,219.2 1201.1,221.9 1202.3,217.1 1198.5,214.0 1203.4,213.8" fill="#00DDFF"/>
<polygon points="1233.3,207.2 1235.1,211.8 1240.0,212.0 1236.2,215.1 1237.4,219.9 1233.3,217.2 1229.2,219.9 1230.4,215.1 1226.6,212.0 1231.5,211.8" fill="#00DDFF"/>
<polygon points="1265.0,205.0 1266.8,209.6 1271.7,209.8 1267.9,212.9 1269.1,217.7 1265.0,215.0 1260.9,217.7 1262.1,212.9 1258.3,209.8 1263.2,209.6" fill="#00DDFF"/>
<polygon points="1294.2,202.6 1296.0,207.2 1300.9,207.4 1297.1,210.5 1298.3,215.3 1294.2,212.6 1290.1,215.3 1291.3,210.5 1287.5,207.4 1292.4,207.2" fill="#00DDFF"/>
<polygon points="1322.7,200.6 1324.5,205.2 1329.4,205.4 1325.6,208.5 1326.8,213.3 1322.7,210.6 1318.6,213.3 1319.8,208.5 1316.0,205.4 1320.9,205.2" fill="#00DDFF"/>
<polygon points="1353.2,198.4 1355.0,203.0 1359.9,203.2 1356.1,206.3 1357.3,211.1 1353.2,208.4 1349.1,211.1 1350.3,206.3 1346.5,203.2 1351.4,203.0" fill="#00DDFF"/>
<polygon points="1382.5,196.8 1384.3,201.4 1389.2,201.6 1385.4,204.7 1386.6,209.5 1382.5,206.8 1378.4,209.5 1379.6,204.7 1375.8,201.6 1380.7,201.4" fill="#00DDFF"/>
<polygon points="1411.0,193.0 1412.8,197.6 1417.7,197.8 1413.9,200.9 1415.1,205.7 1411.0,203.0 1406.9,205.7 1408.1,200.9 1404.3,197.8 1409.2,197.6" fill="#00DDFF"/>
<polygon points="874.8,493.7 876.5,498.1 881.2,498.3 877.5,501.3 878.7,505.8 874.8,503.3 870.9,505.8 872.1,501.3 868.4,498.3 873.1,498.1" fill="#fff" stroke="#00DDFF" stroke-width="1.0" stroke-linejoin="miter"/>
<polygon points="904.9,431.3 906.6,435.7 911.3,435.9 907.6,438.9 908.8,443.4 904.9,440.9 901.0,443.4 902.2,438.9 898.5,435.9 903.2,435.7" fill="#fff" stroke="#00DDFF" stroke-width="1.0" stroke-linejoin="miter"/>
<polygon points="934.9,381.7 936.6,386.1 941.3,386.3 937.6,389.3 938.8,393.8 934.9,391.3 931.0,393.8 932.2,389.3 928.5,386.3 933.2,386.1" fill="#fff" stroke="#00DDFF" stroke-width="1.0" stroke-linejoin="miter"/>
<polygon points="964.5,341.6 966.2,346.0 970.9,346.2 967.2,349.2 968.4,353.7 964.5,351.2 960.6,353.7 961.8,349.2 958.1,346.2 962.8,346.0" fill="#fff" stroke="#00DDFF" stroke-width="1.0" stroke-linejoin="miter"/>
<polygon points="994.6,315.4 996.3,319.8 1001.0,320.0 997.3,323.0 998.5,327.5 994.6,325.0 990.7,327.5 991.9,323.0 988.2,320.0 992.9,319.8" fill="#fff" stroke="#00DDFF" stroke-width="1.0" stroke-linejoin="miter"/>
<polygon points="1025.5,299.0 1027.2,303.4 1031.9,303.6 1028.2,306.6 1029.4,311.1 1025.5,308.6 1021.6,311.1 1022.8,306.6 1019.1,303.6 1023.8,303.4" fill="#fff" stroke="#00DDFF" stroke-width="1.0" stroke-linejoin="miter"/>
<polygon points="1055.1,286.7 1056.8,291.1 1061.5,291.3 1057.8,294.3 1059.0,298.8 1055.1,296.3 1051.2,298.8 1052.4,294.3 1048.7,291.3 1053.4,291.1" fill="#fff" stroke="#00DDFF" stroke-width="1.0" stroke-linejoin="miter"/>
<polygon points="1085.0,280.7 1086.7,285.1 1091.4,285.3 1087.7,288.3 1088.9,292.8 1085.0,290.3 1081.1,292.8 1082.3,288.3 1078.6,285.3 1083.3,285.1" fill="#fff" stroke="#00DDFF" stroke-width="1.0" stroke-linejoin="miter"/>
<polygon points="1115.8,274.5 1117.5,278.9 1122.2,279.1 1118.5,282.1 1119.7,286.6 1115.8,284.1 1111.9,286.6 1113.1,282.1 1109.4,279.1 1114.1,278.9" fill="#fff" stroke="#00DDFF" stroke-width="1.0" stroke-linejoin="miter"/>
<polygon points="1145.7,268.9 1147.4,273.3 1152.1,273.5 1148.4,276.5 1149.6,281.0 1145.7,278.5 1141.8,281.0 1143.0,276.5 1139.3,273.5 1144.0,273.3" fill="#fff" stroke="#00DDFF" stroke-width="1.0" stroke-linejoin="miter"/>
<polygon points="1175.6,263.9 1177.3,268.3 1182.0,268.5 1178.3,271.5 1179.5,276.0 1175.6,273.5 1171.7,276.0 1172.9,271.5 1169.2,268.5 1173.9,268.3" fill="#fff" stroke="#00DDFF" stroke-width="1.0" stroke-linejoin="miter"/>
<polygon points="1205.2,259.5 1206.9,263.9 1211.6,264.1 1207.9,267.1 1209.1,271.6 1205.2,269.1 1201.3,271.6 1202.5,267.1 1198.8,264.1 1203.5,263.9" fill="#fff" stroke="#00DDFF" stroke-width="1.0" stroke-linejoin="miter"/>
<polygon points="1233.3,255.7 1235.0,260.1 1239.7,260.3 1236.0,263.3 1237.2,267.8 1233.3,265.3 1229.4,267.8 1230.6,263.3 1226.9,260.3 1231.6,260.1" fill="#fff" stroke="#00DDFF" stroke-width="1.0" stroke-linejoin="miter"/>
<polygon points="1264.5,252.0 1266.2,256.4 1270.9,256.6 1267.2,259.6 1268.4,264.1 1264.5,261.6 1260.6,264.1 1261.8,259.6 1258.1,256.6 1262.8,256.4" fill="#fff" stroke="#00DDFF" stroke-width="1.0" stroke-linejoin="miter"/>
<polygon points="1294.3,248.3 1296.0,252.7 1300.7,252.9 1297.0,255.9 1298.2,260.4 1294.3,257.9 1290.4,260.4 1291.6,255.9 1287.9,252.9 1292.6,252.7" fill="#fff" stroke="#00DDFF" stroke-width="1.0" stroke-linejoin="miter"/>
<polygon points="1323.3,245.1 1325.0,249.5 1329.7,249.7 1326.0,252.7 1327.2,257.2 1323.3,254.7 1319.4,257.2 1320.6,252.7 1316.9,249.7 1321.6,249.5" fill="#fff" stroke="#00DDFF" stroke-width="1.0" stroke-linejoin="miter"/>
<polygon points="1352.7,242.0 1354.4,246.4 1359.1,246.6 1355.4,249.6 1356.6,254.1 1352.7,251.6 1348.8,254.1 1350.0,249.6 1346.3,246.6 1351.0,246.4" fill="#fff" stroke="#00DDFF" stroke-width="1.0" stroke-linejoin="miter"/>
<polygon points="1382.4,239.2 1384.1,243.6 1388.8,243.8 1385.1,246.8 1386.3,251.3 1382.4,248.8 1378.5,251.3 1379.7,246.8 1376.0,243.8 1380.7,243.6" fill="#fff" stroke="#00DDFF" stroke-width="1.0" stroke-linejoin="miter"/>
<polygon points="1411.0,234.8 1412.7,239.2 1417.4,239.4 1413.7,242.4 1414.9,246.9 1411.0,244.4 1407.1,246.9 1408.3,242.4 1404.6,239.4 1409.3,239.2" fill="#fff" stroke="#00DDFF" stroke-width="1.0" stroke-linejoin="miter"/>
<polygon points="812.5,103.0 819.7,110.2 812.5,117.4 805.3,110.2" fill="#000000"/>
<polygon points="842.3,102.4 849.5,109.6 842.3,116.8 835.1,109.6" fill="#000000"/>
<polygon points="875.4,102.4 882.6,109.6 875.4,116.8 868.2,109.6" fill="#000000"/>
<polygon points="907.3,103.7 914.5,110.9 907.3,118.1 900.1,110.9" fill="#000000"/>
<polygon points="932.5,103.0 939.7,110.2 932.5,117.4 925.3,110.2" fill="#000000"/>
<polygon points="963.3,103.0 970.5,110.2 963.3,117.4 956.1,110.2" fill="#000000"/>
<polygon points="992.1,103.0 999.3,110.2 992.1,117.4 984.9,110.2" fill="#000000"/>
<polygon points="1020.6,103.4 1027.8,110.6 1020.6,117.8 1013.4,110.6" fill="#000000"/>
<polygon points="1051.8,103.0 1059.0,110.2 1051.8,117.4 1044.6,110.2" fill="#000000"/>
<polygon points="1075.3,103.0 1082.5,110.2 1075.3,117.4 1068.1,110.2" fill="#000000"/>
<polygon points="1108.9,103.4 1116.1,110.6 1108.9,117.8 1101.7,110.6" fill="#000000"/>
<polygon points="1139.8,104.3 1147.0,111.5 1139.8,118.7 1132.6,111.5" fill="#000000"/>
<polygon points="1168.2,103.0 1175.4,110.2 1168.2,117.4 1161.0,110.2" fill="#000000"/>
<polygon points="1199.4,103.7 1206.6,110.9 1199.4,118.1 1192.2,110.9" fill="#000000"/>
<polygon points="1229.2,103.3 1236.4,110.5 1229.2,117.7 1222.0,110.5" fill="#000000"/>
<polygon points="1258.9,104.8 1266.1,112.0 1258.9,119.2 1251.7,112.0" fill="#000000"/>
<polygon points="1289.9,103.3 1297.1,110.5 1289.9,117.7 1282.7,110.5" fill="#000000"/>
<polygon points="1320.7,104.8 1327.9,112.0 1320.7,119.2 1313.5,112.0" fill="#000000"/>
<polygon points="1348.1,103.7 1355.3,110.9 1348.1,118.1 1340.9,110.9" fill="#000000"/>
<polygon points="1375.6,104.8 1382.8,112.0 1375.6,119.2 1368.4,112.0" fill="#000000"/>
<polygon points="1406.0,103.7 1413.2,110.9 1406.0,118.1 1398.8,110.9" fill="#000000"/>
<polygon points="812.5,164.5 819.2,171.2 812.5,177.9 805.8,171.2" fill="#fff" stroke="#505050" stroke-width="1.2" stroke-linejoin="miter"/>
<polygon points="842.3,165.1 849.0,171.8 842.3,178.5 835.6,171.8" fill="#fff" stroke="#505050" stroke-width="1.2" stroke-linejoin="miter"/>
<polygon points="875.4,165.5 882.1,172.2 875.4,178.9 868.7,172.2" fill="#fff" stroke="#505050" stroke-width="1.2" stroke-linejoin="miter"/>
<polygon points="907.3,165.8 914.0,172.5 907.3,179.2 900.6,172.5" fill="#fff" stroke="#505050" stroke-width="1.2" stroke-linejoin="miter"/>
<polygon points="932.5,166.9 939.2,173.6 932.5,180.3 925.8,173.6" fill="#fff" stroke="#505050" stroke-width="1.2" stroke-linejoin="miter"/>
<polygon points="963.3,167.7 970.0,174.4 963.3,181.1 956.6,174.4" fill="#fff" stroke="#505050" stroke-width="1.2" stroke-linejoin="miter"/>
<polygon points="992.1,168.3 998.8,175.0 992.1,181.7 985.4,175.0" fill="#fff" stroke="#505050" stroke-width="1.2" stroke-linejoin="miter"/>
<polygon points="1020.6,169.3 1027.3,176.0 1020.6,182.7 1013.9,176.0" fill="#fff" stroke="#505050" stroke-width="1.2" stroke-linejoin="miter"/>
<polygon points="1051.8,169.6 1058.5,176.3 1051.8,183.0 1045.1,176.3" fill="#fff" stroke="#505050" stroke-width="1.2" stroke-linejoin="miter"/>
<polygon points="1075.3,170.2 1082.0,176.9 1075.3,183.6 1068.6,176.9" fill="#fff" stroke="#505050" stroke-width="1.2" stroke-linejoin="miter"/>
<polygon points="1108.9,170.7 1115.6,177.4 1108.9,184.1 1102.2,177.4" fill="#fff" stroke="#505050" stroke-width="1.2" stroke-linejoin="miter"/>
<polygon points="1139.8,171.5 1146.5,178.2 1139.8,184.9 1133.1,178.2" fill="#fff" stroke="#505050" stroke-width="1.2" stroke-linejoin="miter"/>
<polygon points="1168.2,172.1 1174.9,178.8 1168.2,185.5 1161.5,178.8" fill="#fff" stroke="#505050" stroke-width="1.2" stroke-linejoin="miter"/>
<polygon points="1199.4,172.7 1206.1,179.4 1199.4,186.1 1192.7,179.4" fill="#fff" stroke="#505050" stroke-width="1.2" stroke-linejoin="miter"/>
<polygon points="1229.2,173.9 1235.9,180.6 1229.2,187.3 1222.5,180.6" fill="#fff" stroke="#505050" stroke-width="1.2" stroke-linejoin="miter"/>
<polygon points="1258.9,173.9 1265.6,180.6 1258.9,187.3 1252.2,180.6" fill="#fff" stroke="#505050" stroke-width="1.2" stroke-linejoin="miter"/>
<polygon points="1289.9,175.2 1296.6,181.9 1289.9,188.6 1283.2,181.9" fill="#fff" stroke="#505050" stroke-width="1.2" stroke-linejoin="miter"/>
<polygon points="1320.7,175.2 1327.4,181.9 1320.7,188.6 1314.0,181.9" fill="#fff" stroke="#505050" stroke-width="1.2" stroke-linejoin="miter"/>
<polygon points="1348.1,175.7 1354.8,182.4 1348.1,189.1 1341.4,182.4" fill="#fff" stroke="#505050" stroke-width="1.2" stroke-linejoin="miter"/>
<polygon points="1375.6,175.8 1382.3,182.5 1375.6,189.2 1368.9,182.5" fill="#fff" stroke="#505050" stroke-width="1.2" stroke-linejoin="miter"/>
<polygon points="1405.0,176.9 1411.7,183.6 1405.0,190.3 1398.3,183.6" fill="#fff" stroke="#505050" stroke-width="1.2" stroke-linejoin="miter"/>
</g>
<rect x="91.4" y="22.5" width="600.9" height="483.5" fill="none" stroke="#1a1a1a" stroke-width="1.6"/>
<rect x="811.4" y="21.7" width="595.6" height="478.8" fill="none" stroke="#1a1a1a" stroke-width="1.6"/>
<path d="M82.9 506.0H91.4 M86.9 489.8H91.4 M86.9 480.4H91.4 M86.9 473.7H91.4 M86.9 468.4H91.4 M86.9 464.2H91.4 M86.9 460.6H91.4 M86.9 457.5H91.4 M86.9 454.7H91.4 M82.9 452.3H91.4 M86.9 436.1H91.4 M86.9 426.6H91.4 M86.9 419.9H91.4 M86.9 414.7H91.4 M86.9 410.5H91.4 M86.9 406.9H91.4 M86.9 403.8H91.4 M86.9 401.0H91.4 M82.9 398.6H91.4 M86.9 382.4H91.4 M86.9 372.9H91.4 M86.9 366.2H91.4 M86.9 361.0H91.4 M86.9 356.8H91.4 M86.9 353.2H91.4 M86.9 350.0H91.4 M86.9 347.3H91.4 M82.9 344.8H91.4 M86.9 328.7H91.4 M86.9 319.2H91.4 M86.9 312.5H91.4 M86.9 307.3H91.4 M86.9 303.0H91.4 M86.9 299.4H91.4 M86.9 296.3H91.4 M86.9 293.6H91.4 M82.9 291.1H91.4 M86.9 274.9H91.4 M86.9 265.5H91.4 M86.9 258.8H91.4 M86.9 253.6H91.4 M86.9 249.3H91.4 M86.9 245.7H91.4 M86.9 242.6H91.4 M86.9 239.8H91.4 M82.9 237.4H91.4 M86.9 221.2H91.4 M86.9 211.8H91.4 M86.9 205.0H91.4 M86.9 199.8H91.4 M86.9 195.6H91.4 M86.9 192.0H91.4 M86.9 188.9H91.4 M86.9 186.1H91.4 M82.9 183.7H91.4 M86.9 167.5H91.4 M86.9 158.0H91.4 M86.9 151.3H91.4 M86.9 146.1H91.4 M86.9 141.9H91.4 M86.9 138.3H91.4 M86.9 135.2H91.4 M86.9 132.4H91.4 M82.9 129.9H91.4 M86.9 113.8H91.4 M86.9 104.3H91.4 M86.9 97.6H91.4 M86.9 92.4H91.4 M86.9 88.1H91.4 M86.9 84.5H91.4 M86.9 81.4H91.4 M86.9 78.7H91.4 M82.9 76.2H91.4 M86.9 60.1H91.4 M86.9 50.6H91.4 M86.9 43.9H91.4 M86.9 38.7H91.4 M86.9 34.4H91.4 M86.9 30.8H91.4 M86.9 27.7H91.4 M86.9 25.0H91.4 M82.9 22.5H91.4 M91.4 506.0V515.0 M134.3 506.0V510.6 M177.2 506.0V515.0 M220.2 506.0V510.6 M263.1 506.0V515.0 M306.0 506.0V510.6 M348.9 506.0V515.0 M391.9 506.0V510.6 M434.8 506.0V515.0 M477.7 506.0V510.6 M520.6 506.0V515.0 M563.5 506.0V510.6 M606.5 506.0V515.0 M649.4 506.0V510.6 M692.3 506.0V515.0 M802.9 356.4H811.4 M802.9 212.2H811.4 M802.9 127.9H811.4 M802.9 68.1H811.4 M802.9 21.7H811.4 M806.9 478.6H811.4 M806.9 440.7H811.4 M806.9 408.6H811.4 M806.9 380.9H811.4 M806.9 334.5H811.4 M806.9 314.6H811.4 M806.9 296.5H811.4 M806.9 279.9H811.4 M806.9 264.5H811.4 M806.9 250.1H811.4 M806.9 236.7H811.4 M806.9 224.1H811.4 M806.9 201.0H811.4 M806.9 190.3H811.4 M806.9 180.2H811.4 M806.9 170.5H811.4 M806.9 161.3H811.4 M806.9 152.4H811.4 M806.9 143.9H811.4 M806.9 135.8H811.4 M806.9 120.4H811.4 M806.9 113.1H811.4 M806.9 106.0H811.4 M806.9 99.2H811.4 M806.9 92.6H811.4 M806.9 86.2H811.4 M806.9 80.0H811.4 M806.9 74.0H811.4 M806.9 62.4H811.4 M806.9 56.9H811.4 M806.9 51.5H811.4 M806.9 46.2H811.4 M806.9 41.1H811.4 M806.9 36.0H811.4 M806.9 31.2H811.4 M806.9 26.4H811.4 M811.4 500.5V509.5 M871.0 500.5V505.1 M930.5 500.5V509.5 M990.1 500.5V505.1 M1049.6 500.5V509.5 M1109.2 500.5V505.1 M1168.8 500.5V509.5 M1228.3 500.5V505.1 M1287.9 500.5V509.5 M1347.4 500.5V505.1 M1407.0 500.5V509.5" stroke="#1a1a1a" stroke-width="1.6" fill="none"/>
<g font-family="Liberation Sans, sans-serif" fill="#111"><text x="76" y="513.4" text-anchor="end" font-size="21.8">10<tspan font-size="14.8" dy="-8.3">-5</tspan></text><text x="76" y="459.7" text-anchor="end" font-size="21.8">10<tspan font-size="14.8" dy="-8.3">-4</tspan></text><text x="76" y="406.0" text-anchor="end" font-size="21.8">10<tspan font-size="14.8" dy="-8.3">-3</tspan></text><text x="76" y="352.2" text-anchor="end" font-size="21.8">10<tspan font-size="14.8" dy="-8.3">-2</tspan></text><text x="76" y="298.5" text-anchor="end" font-size="21.8">10<tspan font-size="14.8" dy="-8.3">-1</tspan></text><text x="76" y="244.8" text-anchor="end" font-size="21.8">10<tspan font-size="14.8" dy="-8.3">0</tspan></text><text x="76" y="191.1" text-anchor="end" font-size="21.8">10<tspan font-size="14.8" dy="-8.3">1</tspan></text><text x="76" y="137.3" text-anchor="end" font-size="21.8">10<tspan font-size="14.8" dy="-8.3">2</tspan></text><text x="76" y="83.6" text-anchor="end" font-size="21.8">10<tspan font-size="14.8" dy="-8.3">3</tspan></text><text x="76" y="29.9" text-anchor="end" font-size="21.8">10<tspan font-size="14.8" dy="-8.3">4</tspan></text><text x="91.4" y="538.6" text-anchor="middle" font-size="21.8">15</text><text x="177.2" y="538.6" text-anchor="middle" font-size="21.8">20</text><text x="263.1" y="538.6" text-anchor="middle" font-size="21.8">25</text><text x="348.9" y="538.6" text-anchor="middle" font-size="21.8">30</text><text x="434.8" y="538.6" text-anchor="middle" font-size="21.8">35</text><text x="520.6" y="538.6" text-anchor="middle" font-size="21.8">40</text><text x="606.5" y="538.6" text-anchor="middle" font-size="21.8">45</text><text x="692.3" y="538.6" text-anchor="middle" font-size="21.8">50</text><text x="796.5" y="363.8" text-anchor="end" font-size="21.5">2x10<tspan font-size="14.8" dy="-8.3">3</tspan></text><text x="796.5" y="219.6" text-anchor="end" font-size="21.5">4x10<tspan font-size="14.8" dy="-8.3">3</tspan></text><text x="796.5" y="135.3" text-anchor="end" font-size="21.5">6x10<tspan font-size="14.8" dy="-8.3">3</tspan></text><text x="796.5" y="75.5" text-anchor="end" font-size="21.5">8x10<tspan font-size="14.8" dy="-8.3">3</tspan></text><text x="796.5" y="29.1" text-anchor="end" font-size="21.5">10<tspan font-size="14.8" dy="-8.3">4</tspan></text><text x="811.4" y="533.4" text-anchor="middle" font-size="21.8">45</text><text x="930.5" y="533.4" text-anchor="middle" font-size="21.8">46</text><text x="1049.6" y="533.4" text-anchor="middle" font-size="21.8">47</text><text x="1168.8" y="533.4" text-anchor="middle" font-size="21.8">48</text><text x="1287.9" y="533.4" text-anchor="middle" font-size="21.8">49</text><text x="1407.0" y="533.4" text-anchor="middle" font-size="21.8">50</text><text x="392.4" y="577.4" text-anchor="middle" font-size="26">Temperature (<tspan font-size="17" dy="-9">o</tspan><tspan dy="9">C)</tspan></text><text x="1109.8" y="571.9" text-anchor="middle" font-size="25.5">Temperature (<tspan font-size="17" dy="-9">o</tspan><tspan dy="9">C)</tspan></text><text transform="translate(30.9,264) rotate(-90)" text-anchor="middle" font-size="25.5">G', G'' (Pa)</text><text transform="translate(735,260) rotate(-90)" text-anchor="middle" font-size="25.5">G', G'' (Pa)</text></g>
<rect x="600.8" y="252.7" width="10.0" height="10.0" fill="#EE0000"/><text x="629.5" y="263.3" font-size="16.5" word-spacing="1.5" font-family="Liberation Sans, sans-serif" fill="#111">G' 18:2</text><rect x="1320.0" y="268.4" width="10.0" height="10.0" fill="#EE0000"/><text x="1347.2" y="278.5" font-size="15.8" word-spacing="1" font-family="Liberation Sans, sans-serif" fill="#111">G' 18:2</text><rect x="601.3" y="274.2" width="9.0" height="9.0" fill="#fff" stroke="#EE0000" stroke-width="1.0"/><text x="629.5" y="284.3" font-size="16.5" word-spacing="1.5" font-family="Liberation Sans, sans-serif" fill="#111">G" 18:2</text><rect x="1320.5" y="288.5" width="9.0" height="9.0" fill="#fff" stroke="#EE0000" stroke-width="1.0"/><text x="1347.2" y="298.1" font-size="15.8" word-spacing="1" font-family="Liberation Sans, sans-serif" fill="#111">G" 18:2</text><circle cx="605.8" cy="299.6" r="5.6" fill="#FFB90F"/><text x="629.5" y="305.2" font-size="16.5" word-spacing="1.5" font-family="Liberation Sans, sans-serif" fill="#111">G' 17:3</text><circle cx="1325.0" cy="312.6" r="5.6" fill="#FFB90F"/><text x="1347.2" y="317.7" font-size="15.8" word-spacing="1" font-family="Liberation Sans, sans-serif" fill="#111">G' 17:3</text><circle cx="605.8" cy="320.6" r="5.1" fill="#fff" stroke="#FFB90F" stroke-width="1.0"/><text x="629.5" y="326.2" font-size="16.5" word-spacing="1.5" font-family="Liberation Sans, sans-serif" fill="#111">G" 17:3</text><circle cx="1325.0" cy="332.2" r="5.1" fill="#fff" stroke="#FFB90F" stroke-width="1.0"/><text x="1347.2" y="337.3" font-size="15.8" word-spacing="1" font-family="Liberation Sans, sans-serif" fill="#111">G" 17:3</text><polygon points="605.8,335.8 612.5,347.4 599.1,347.4" fill="#007F00"/><text x="629.5" y="347.2" font-size="16.5" word-spacing="1.5" font-family="Liberation Sans, sans-serif" fill="#111">G' 16:4</text><polygon points="1325.0,346.0 1331.7,357.6 1318.3,357.6" fill="#007F00"/><text x="1347.2" y="356.9" font-size="15.8" word-spacing="1" font-family="Liberation Sans, sans-serif" fill="#111">G' 16:4</text><polygon points="605.8,357.1 612.1,368.0 599.5,368.0" fill="#fff" stroke="#007F00" stroke-width="1.0" stroke-linejoin="miter"/><text x="629.5" y="368.1" font-size="16.5" word-spacing="1.5" font-family="Liberation Sans, sans-serif" fill="#111">G" 16:4</text><polygon points="1325.0,365.9 1331.3,376.8 1318.7,376.8" fill="#fff" stroke="#007F00" stroke-width="1.0" stroke-linejoin="miter"/><text x="1347.2" y="376.5" font-size="15.8" word-spacing="1" font-family="Liberation Sans, sans-serif" fill="#111">G" 16:4</text><polygon points="605.8,377.2 611.4,380.4 611.4,386.7 605.8,389.8 600.2,386.7 600.2,380.4" fill="#0000FF"/><text x="629.5" y="389.1" font-size="16.5" word-spacing="1.5" font-family="Liberation Sans, sans-serif" fill="#111">G' 15:5</text><polygon points="1325.0,384.7 1330.6,387.9 1330.6,394.1 1325.0,397.3 1319.4,394.1 1319.4,387.9" fill="#0000FF"/><text x="1347.2" y="396.1" font-size="15.8" word-spacing="1" font-family="Liberation Sans, sans-serif" fill="#111">G' 15:5</text><polygon points="605.8,398.4 611.2,401.5 611.2,407.5 605.8,410.5 600.4,407.5 600.4,401.5" fill="#fff" stroke="#0000FF" stroke-width="1.0" stroke-linejoin="miter"/><text x="629.5" y="410.1" font-size="16.5" word-spacing="1.5" font-family="Liberation Sans, sans-serif" fill="#111">G" 15:5</text><polygon points="1325.0,404.6 1330.4,407.6 1330.4,413.6 1325.0,416.7 1319.6,413.6 1319.6,407.6" fill="#fff" stroke="#0000FF" stroke-width="1.0" stroke-linejoin="miter"/><text x="1347.2" y="415.7" font-size="15.8" word-spacing="1" font-family="Liberation Sans, sans-serif" fill="#111">G" 15:5</text><polygon points="605.8,418.5 607.6,423.0 612.5,423.3 608.7,426.4 609.9,431.1 605.8,428.5 601.7,431.1 602.9,426.4 599.1,423.3 604.0,423.0" fill="#00DDFF"/><text x="629.5" y="431.1" font-size="16.5" word-spacing="1.5" font-family="Liberation Sans, sans-serif" fill="#111">G' 14:6</text><polygon points="1325.0,423.2 1326.8,427.8 1331.7,428.0 1327.9,431.1 1329.1,435.9 1325.0,433.2 1320.9,435.9 1322.1,431.1 1318.3,428.0 1323.2,427.8" fill="#00DDFF"/><text x="1347.2" y="435.3" font-size="15.8" word-spacing="1" font-family="Liberation Sans, sans-serif" fill="#111">G' 14:6</text><polygon points="605.8,439.7 607.5,444.1 612.2,444.4 608.5,447.3 609.7,451.9 605.8,449.3 601.9,451.9 603.1,447.3 599.4,444.4 604.1,444.1" fill="#fff" stroke="#00DDFF" stroke-width="1.0" stroke-linejoin="miter"/><text x="629.5" y="452.0" font-size="16.5" word-spacing="1.5" font-family="Liberation Sans, sans-serif" fill="#111">G" 14:6</text><polygon points="1325.0,443.1 1326.7,447.5 1331.4,447.7 1327.7,450.7 1328.9,455.2 1325.0,452.7 1321.1,455.2 1322.3,450.7 1318.6,447.7 1323.3,447.5" fill="#fff" stroke="#00DDFF" stroke-width="1.0" stroke-linejoin="miter"/><text x="1347.2" y="454.9" font-size="15.8" word-spacing="1" font-family="Liberation Sans, sans-serif" fill="#111">G" 14:6</text><polygon points="605.8,460.2 613.0,467.4 605.8,474.6 598.6,467.4" fill="#000000"/><text x="629.5" y="473.0" font-size="16.5" word-spacing="1.5" font-family="Liberation Sans, sans-serif" fill="#111">G' 20:0</text><polygon points="1325.0,462.2 1332.2,469.4 1325.0,476.6 1317.8,469.4" fill="#000000"/><text x="1347.2" y="474.5" font-size="15.8" word-spacing="1" font-family="Liberation Sans, sans-serif" fill="#111">G' 20:0</text><polygon points="605.8,481.6 612.5,488.4 605.8,495.1 599.1,488.4" fill="#fff" stroke="#505050" stroke-width="1.2" stroke-linejoin="miter"/><text x="629.5" y="494.0" font-size="16.5" word-spacing="1.5" font-family="Liberation Sans, sans-serif" fill="#111">G" 20:0</text><polygon points="1325.0,482.3 1331.7,489.0 1325.0,495.7 1318.3,489.0" fill="#fff" stroke="#505050" stroke-width="1.2" stroke-linejoin="miter"/><text x="1347.2" y="494.1" font-size="15.8" word-spacing="1" font-family="Liberation Sans, sans-serif" fill="#111">G" 20:0</text>
</svg></body></html>
